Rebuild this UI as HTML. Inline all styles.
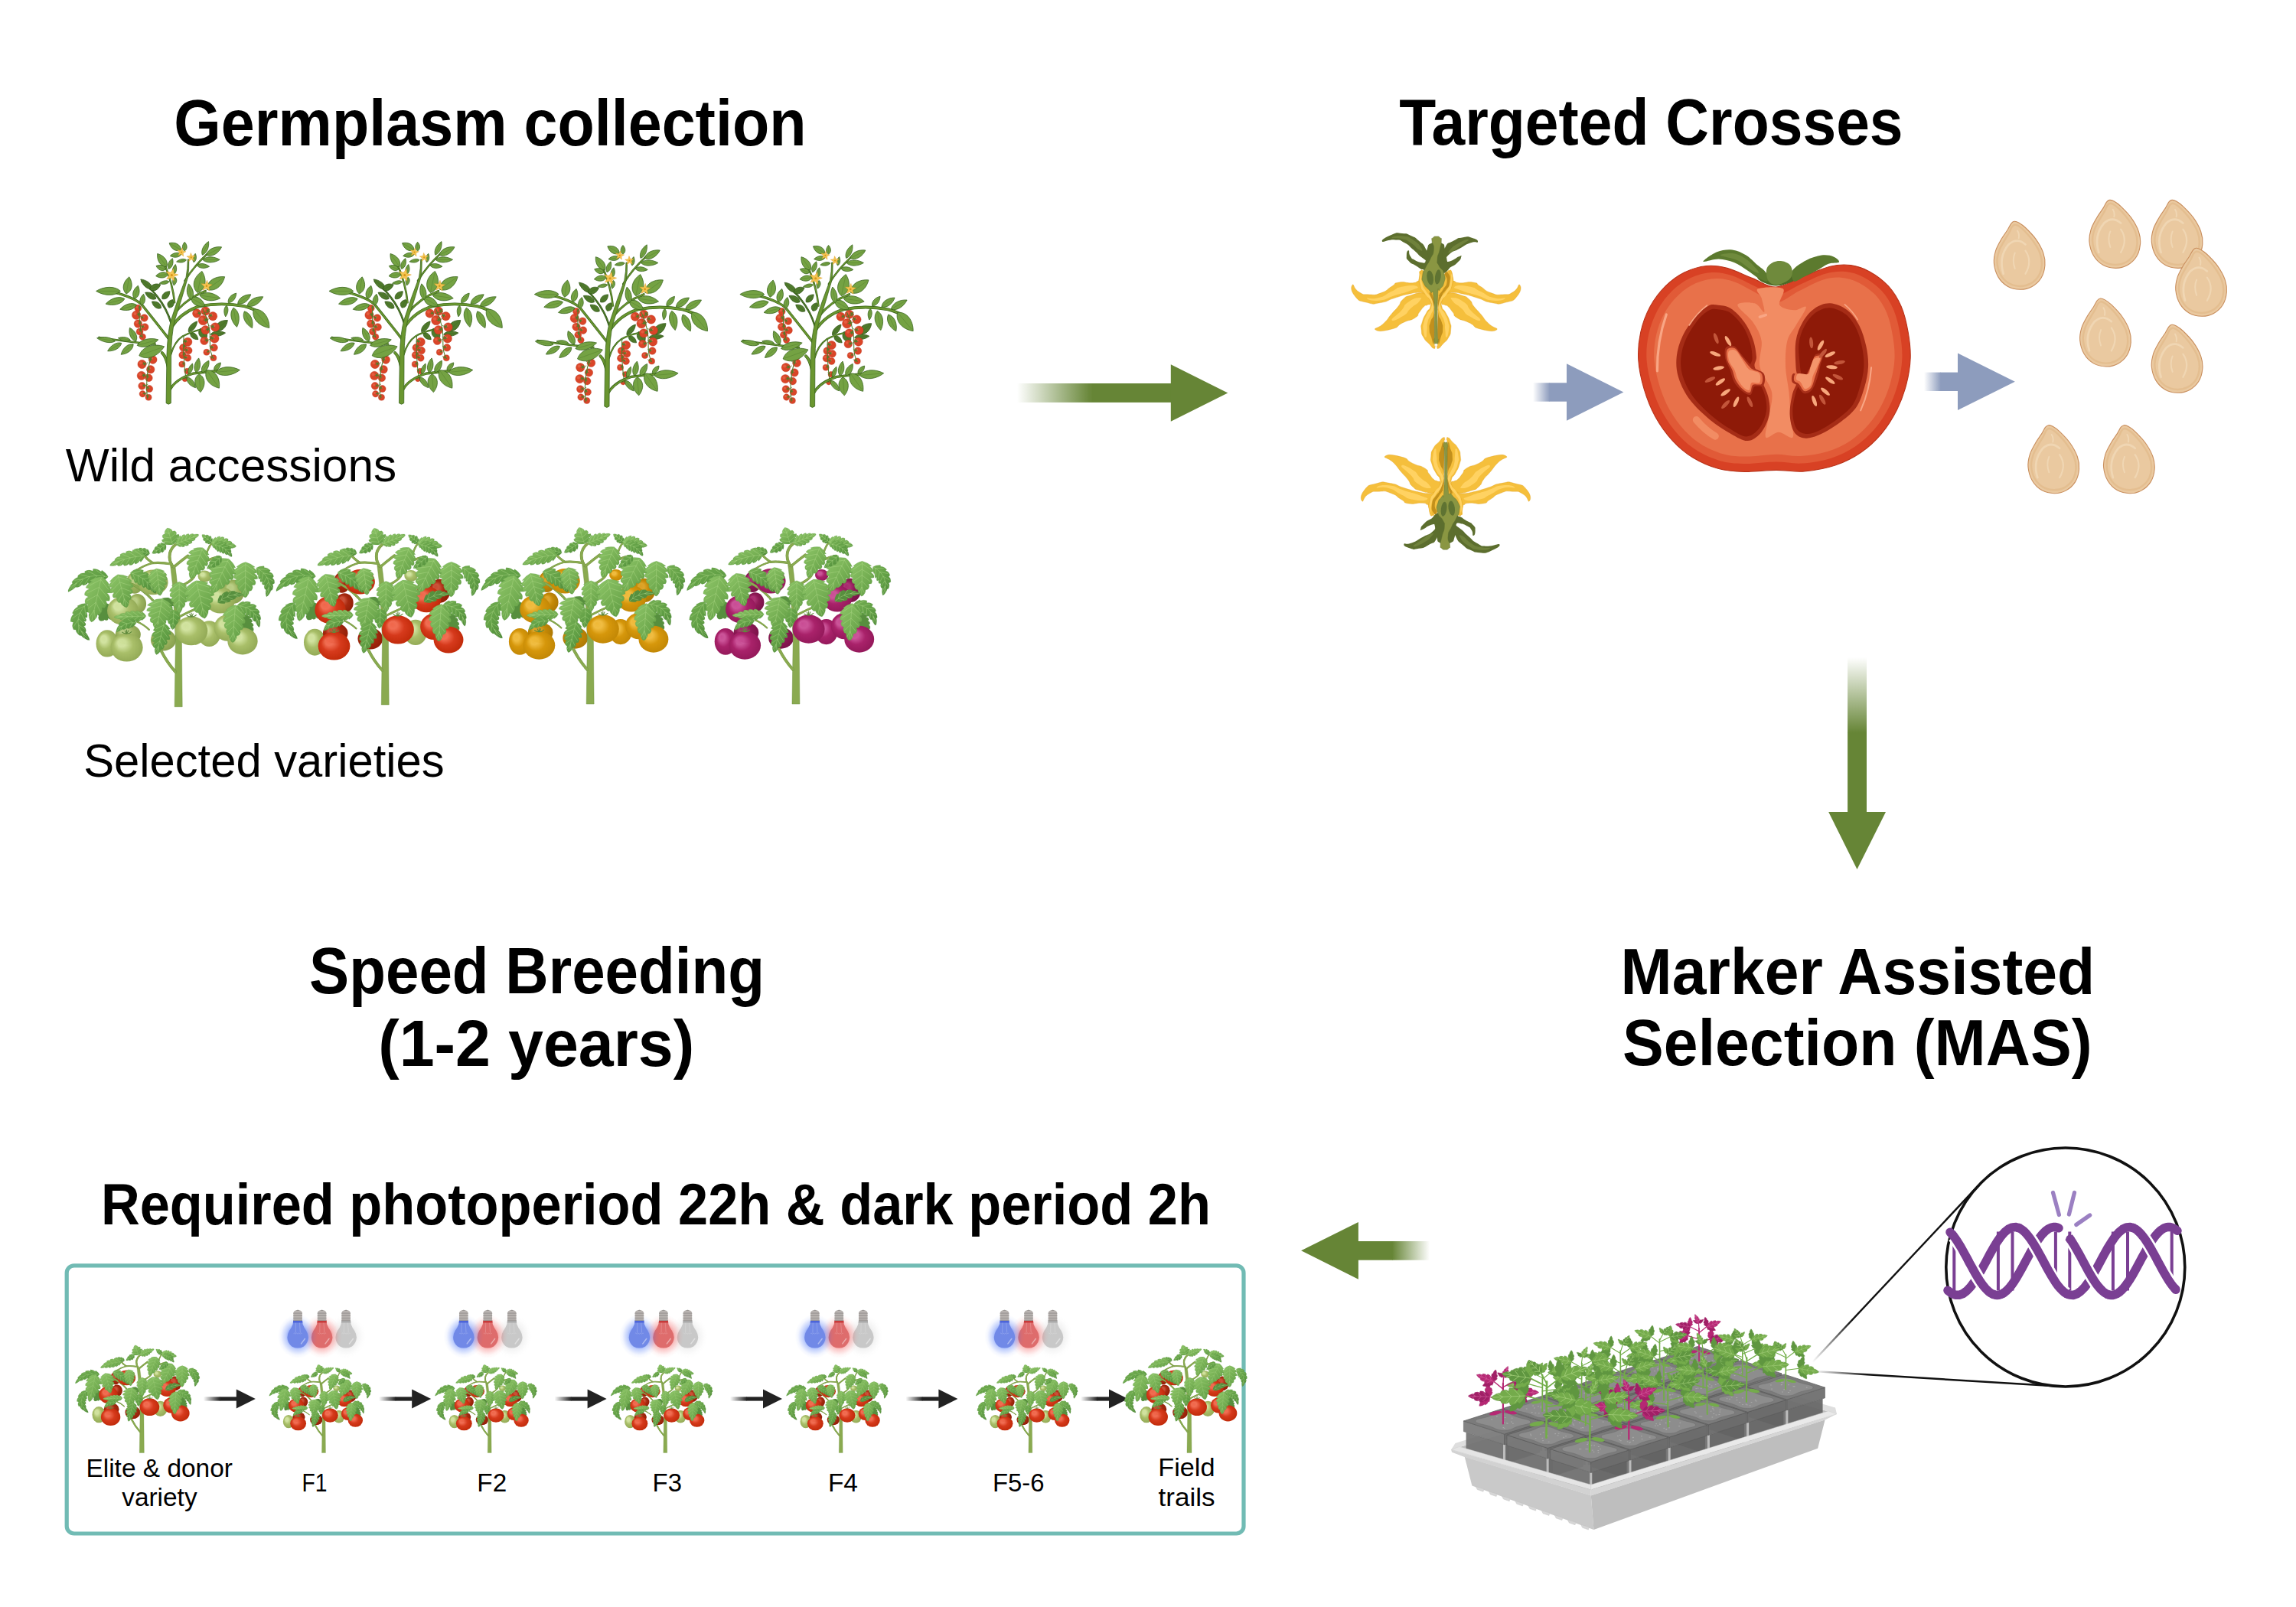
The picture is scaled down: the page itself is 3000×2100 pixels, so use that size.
<!DOCTYPE html>
<html><head><meta charset="utf-8"><title>Tomato breeding workflow</title>
<style>html,body{margin:0;padding:0;background:#fff}svg{display:block}text{font-family:"Liberation Sans",sans-serif}</style>
</head><body>
<svg width="3000" height="2100" viewBox="0 0 3000 2100">
<defs>
<linearGradient id="gaR" x1="0" x2="1" y1="0" y2="0"><stop offset="0" stop-color="#668536" stop-opacity="0"/><stop offset="1" stop-color="#668536"/></linearGradient>
<linearGradient id="gaL" x1="1" x2="0" y1="0" y2="0"><stop offset="0" stop-color="#668536" stop-opacity="0"/><stop offset="1" stop-color="#668536"/></linearGradient>
<linearGradient id="gaD" x1="0" x2="0" y1="0" y2="1"><stop offset="0" stop-color="#668536" stop-opacity="0"/><stop offset="1" stop-color="#668536"/></linearGradient>
<linearGradient id="gaB" x1="0" x2="1" y1="0" y2="0"><stop offset="0" stop-color="#8d9cbd" stop-opacity="0"/><stop offset="1" stop-color="#8d9cbd"/></linearGradient>
<linearGradient id="gaK" x1="0" x2="1" y1="0" y2="0"><stop offset="0" stop-color="#222" stop-opacity="0"/><stop offset="1" stop-color="#222"/></linearGradient>
<linearGradient id="lfA" x1="0.1" y1="0" x2="0.9" y2="1"><stop offset="0" stop-color="#8cc467"/><stop offset="0.45" stop-color="#7ab357"/><stop offset="1" stop-color="#5f9c43"/></linearGradient>
<linearGradient id="lfB" x1="0.1" y1="0" x2="0.9" y2="1"><stop offset="0" stop-color="#74ae52"/><stop offset="0.5" stop-color="#62a046"/><stop offset="1" stop-color="#4f8a39"/></linearGradient>
<radialGradient id="tg_red" cx="0.5" cy="0.5" r="0.6" fx="0.3" fy="0.3"><stop offset="0" stop-color="#f0664a"/><stop offset="0.22" stop-color="#f0664a" stop-opacity="0.95"/><stop offset="0.5" stop-color="#d63a1c"/><stop offset="0.85" stop-color="#c32c0c"/><stop offset="1" stop-color="#c32c0c"/></radialGradient>
<radialGradient id="tg_dred" cx="0.5" cy="0.5" r="0.6" fx="0.3" fy="0.3"><stop offset="0" stop-color="#c94a30"/><stop offset="0.22" stop-color="#c94a30" stop-opacity="0.95"/><stop offset="0.5" stop-color="#a82a10"/><stop offset="0.85" stop-color="#942008"/><stop offset="1" stop-color="#942008"/></radialGradient>
<radialGradient id="tg_green" cx="0.5" cy="0.5" r="0.6" fx="0.3" fy="0.3"><stop offset="0" stop-color="#cfe19b"/><stop offset="0.22" stop-color="#cfe19b" stop-opacity="0.95"/><stop offset="0.5" stop-color="#a9bf69"/><stop offset="0.85" stop-color="#95ac58"/><stop offset="1" stop-color="#95ac58"/></radialGradient>
<radialGradient id="tg_dgreen" cx="0.5" cy="0.5" r="0.6" fx="0.3" fy="0.3"><stop offset="0" stop-color="#b7cc80"/><stop offset="0.22" stop-color="#b7cc80" stop-opacity="0.95"/><stop offset="0.5" stop-color="#9db45f"/><stop offset="0.85" stop-color="#8aa250"/><stop offset="1" stop-color="#8aa250"/></radialGradient>
<radialGradient id="tg_yellow" cx="0.5" cy="0.5" r="0.6" fx="0.3" fy="0.3"><stop offset="0" stop-color="#efb938"/><stop offset="0.22" stop-color="#efb938" stop-opacity="0.95"/><stop offset="0.5" stop-color="#d6970b"/><stop offset="0.85" stop-color="#c48906"/><stop offset="1" stop-color="#c48906"/></radialGradient>
<radialGradient id="tg_dyellow" cx="0.5" cy="0.5" r="0.6" fx="0.3" fy="0.3"><stop offset="0" stop-color="#dba020"/><stop offset="0.22" stop-color="#dba020" stop-opacity="0.95"/><stop offset="0.5" stop-color="#c48906"/><stop offset="0.85" stop-color="#b07a04"/><stop offset="1" stop-color="#b07a04"/></radialGradient>
<radialGradient id="tg_purple" cx="0.5" cy="0.5" r="0.6" fx="0.3" fy="0.3"><stop offset="0" stop-color="#c94c94"/><stop offset="0.22" stop-color="#c94c94" stop-opacity="0.95"/><stop offset="0.5" stop-color="#a9226a"/><stop offset="0.85" stop-color="#961a5c"/><stop offset="1" stop-color="#961a5c"/></radialGradient>
<radialGradient id="tg_dpurple" cx="0.5" cy="0.5" r="0.6" fx="0.3" fy="0.3"><stop offset="0" stop-color="#a8286c"/><stop offset="0.22" stop-color="#a8286c" stop-opacity="0.95"/><stop offset="0.5" stop-color="#8e1a56"/><stop offset="0.85" stop-color="#7c144a"/><stop offset="1" stop-color="#7c144a"/></radialGradient>
<g id="cp_green" transform="scale(0.15557) translate(-982,-1545)"><path d="M420,700Q448.5,727.8 458.9,751L449,749.3Q468.3,773.5 459.4,785.6L440.2,775.2Q460.3,800 448.7,808.8L422.6,795.1Q438,816.6 419,821.9L397.8,809.9Q406.2,826.6 383.4,828.7L368.8,821.9Q367.2,831.7 341.7,833.3L330,830L322,819.1Q315.3,795.8 324.5,791.3L313.1,780.9Q306.3,757.5 320.7,756.6L307,743.8Q304.5,724.2 329.6,730.7L312,716.4Q312.2,697.5 340.7,706.3L325.4,691.2Q334.2,680.7 363.6,690.1L353.3,678Q384,683.1 420,700Z" fill="#578f3e" stroke="#5b9440" stroke-width="1.2" stroke-linejoin="round"/>
<path d="M900,640Q925.6,651.7 938.7,665.8L930.6,667Q949.6,679 948.9,691.3L934.7,689.3Q950.4,700.4 943.2,709.4L927.8,708.8Q939.3,718.9 929.8,728.2L914,726.6Q920.3,735.4 904.3,742.8L895,743.1Q895.4,750.4 879,757.2L870,760L862.4,753.5Q852.1,739.6 857.4,733.7L846.1,727.5Q837.2,714.6 850.5,710.7L837,704.3Q828.2,691.1 847.1,688.6L826,680.2Q827.1,669.6 849.9,668.1L834.7,662.9Q837.9,651 857.7,648.8L848.5,644.6Q871.9,638.3 900,640Z" fill="#578f3e" stroke="#5b9440" stroke-width="1.2" stroke-linejoin="round"/>
<path d="M1500,780Q1528.4,774 1554.8,781.2L1549.1,788.5Q1571.1,789.6 1582.7,803.8L1572.6,814.7Q1593.1,816.6 1596.3,838L1585.7,846.6Q1604.3,849.7 1605.2,871.2L1595.7,880.3Q1608.3,886.7 1606.7,909.3L1599.9,917.2Q1607,926.7 1604.2,950.4L1600,960L1589.7,959.4Q1568,948.3 1565.4,936.4L1555.4,939.5Q1533.4,928.3 1538.2,912.3L1523.9,916.6Q1504.1,905.3 1511.8,887.7L1493.8,894.7Q1481.9,878.4 1493.5,858.6L1476.4,864.2Q1470.5,845.4 1484.6,824.3L1472.9,825.7Q1479.9,801 1500,780Z" fill="#578f3e" stroke="#5b9440" stroke-width="1.2" stroke-linejoin="round"/>
<ellipse cx="620" cy="518" rx="70" ry="88" fill="url(#tg_dgreen)"/>
<ellipse cx="1200" cy="462" rx="56" ry="48" fill="url(#tg_green)"/>
<ellipse cx="1440" cy="590" rx="90" ry="100" fill="url(#tg_dgreen)"/>
<ellipse cx="642" cy="690" rx="74" ry="82" fill="url(#tg_dgreen)"/>
<ellipse cx="392" cy="1020" rx="92" ry="112" fill="url(#tg_green)"/>
<ellipse cx="565" cy="945" rx="105" ry="85" fill="url(#tg_dgreen)"/>
<ellipse cx="858" cy="990" rx="105" ry="90" fill="url(#tg_dgreen)"/>
<ellipse cx="1238" cy="938" rx="95" ry="107" fill="url(#tg_green)"/>
<path d="M951,1545L959,1000Q948,760 933,520Q923,430 916,372L955,372Q976,520 987,700Q1002,880 1010,1000L1015,1545Z" fill="#8aaa50" stroke="#6f9340" stroke-width="3"/>
<path d="M958,1255Q890,1180 842,1085" fill="none" stroke="#6f9340" stroke-width="24" stroke-linecap="round"/><path d="M958,1255Q890,1180 842,1085" fill="none" stroke="#8aaa50" stroke-width="20" stroke-linecap="round"/>
<path d="M935,380Q900,330 912,270Q925,225 958,200" fill="none" stroke="#6f9340" stroke-width="24" stroke-linecap="round"/><path d="M935,380Q900,330 912,270Q925,225 958,200" fill="none" stroke="#8aaa50" stroke-width="20" stroke-linecap="round"/>
<path d="M945,385Q1010,330 1062,292" fill="none" stroke="#6f9340" stroke-width="22" stroke-linecap="round"/><path d="M945,385Q1010,330 1062,292" fill="none" stroke="#8aaa50" stroke-width="18" stroke-linecap="round"/>
<path d="M925,360Q830,345 770,352Q720,320 700,290" fill="none" stroke="#6f9340" stroke-width="20" stroke-linecap="round"/><path d="M925,360Q830,345 770,352Q720,320 700,290" fill="none" stroke="#8aaa50" stroke-width="16" stroke-linecap="round"/>
<path d="M770,352Q700,370 640,410" fill="none" stroke="#6f9340" stroke-width="16" stroke-linecap="round"/><path d="M770,352Q700,370 640,410" fill="none" stroke="#8aaa50" stroke-width="12" stroke-linecap="round"/>
<path d="M1000,545Q1080,510 1110,470Q1150,380 1200,340Q1260,310 1320,300" fill="none" stroke="#6f9340" stroke-width="20" stroke-linecap="round"/><path d="M1000,545Q1080,510 1110,470Q1150,380 1200,340Q1260,310 1320,300" fill="none" stroke="#8aaa50" stroke-width="16" stroke-linecap="round"/>
<path d="M1200,340Q1220,230 1262,185" fill="none" stroke="#6f9340" stroke-width="16" stroke-linecap="round"/><path d="M1200,340Q1220,230 1262,185" fill="none" stroke="#8aaa50" stroke-width="12" stroke-linecap="round"/>
<path d="M770,660Q680,560 580,520" fill="none" stroke="#6f9340" stroke-width="20" stroke-linecap="round"/><path d="M770,660Q680,560 580,520" fill="none" stroke="#8aaa50" stroke-width="16" stroke-linecap="round"/>
<path d="M950,820Q1040,770 1110,740" fill="none" stroke="#6f9340" stroke-width="18" stroke-linecap="round"/><path d="M950,820Q1040,770 1110,740" fill="none" stroke="#8aaa50" stroke-width="14" stroke-linecap="round"/>
<path d="M1285,680Q1360,690 1410,720" fill="none" stroke="#6f9340" stroke-width="16" stroke-linecap="round"/><path d="M1285,680Q1360,690 1410,720" fill="none" stroke="#8aaa50" stroke-width="12" stroke-linecap="round"/>
<path d="M740,905Q690,860 640,840" fill="none" stroke="#6f9340" stroke-width="14" stroke-linecap="round"/><path d="M740,905Q690,860 640,840" fill="none" stroke="#8aaa50" stroke-width="10" stroke-linecap="round"/>
<ellipse cx="772" cy="512" rx="125" ry="104" fill="url(#tg_green)"/>
<ellipse cx="522" cy="748" rx="130" ry="118" fill="url(#tg_green)"/>
<ellipse cx="1330" cy="660" rx="122" ry="110" fill="url(#tg_green)"/>
<ellipse cx="1390" cy="890" rx="112" ry="110" fill="url(#tg_green)"/>
<path d="M935,200Q891.7,204.6 860.5,195.2L872.4,184.5Q846,181.3 844.7,161.7L863.9,149.1Q843.3,144 852.6,119.4L871.9,108.4Q862,99.8 877.9,75.4L890,62L907.2,65.8Q934.9,76 931.6,88.9L953.5,85.4Q976.1,100.7 960.9,117.5L986.9,114.6Q995.9,132.4 971.3,152.3L992.2,151.1Q972.7,178.2 935,200Z" fill="url(#lfA)" stroke="#5b9440" stroke-width="1.2" stroke-linejoin="round"/><path d="M934.1,197.2L892.3,68.9M865.3,173.9L928.2,179.3L975.9,137.8M861,137.1L917,144.8L957.7,105.6M872.1,95.3L905.8,110.3L924.1,78.4" fill="none" stroke="#b4dc8c" stroke-width="2.64" stroke-linecap="round" stroke-linejoin="round"/>
<path d="M960,195Q959.4,170.4 971.5,145.5L978.3,156.3Q982.1,134.4 997.1,124.5L1006.9,135.1Q1012.3,117 1032.5,114.8L1040,124.9Q1046.2,109 1067,108.9L1075.4,120.6Q1082.7,107.3 1103.9,109.9L1110.9,116.4Q1121.1,110.4 1144.4,113L1152,118L1148.4,127.5Q1134.9,144.8 1122.9,146.4L1121.7,158Q1109.3,173.6 1095,169.3L1096.6,183.4Q1081.8,197.6 1066.7,191.6L1066.9,203.9Q1051.7,215.3 1034.8,204.6L1033.5,216Q1017.9,223.5 1000.3,211.2L1000.1,220.4Q976.6,213.2 960,195Z" fill="url(#lfA)" stroke="#5b9440" stroke-width="1.2" stroke-linejoin="round"/><path d="M963.8,193.5L1142.4,121.9M991.8,142.8L972.8,189.9L1019.1,210.8M1023,128L1004.8,177L1051.9,199.9M1056.8,119.6L1036.8,164.2L1082.1,182.6M1092.4,115.6L1068.8,151.4L1110.5,160.9M1129.3,115.1L1100.8,138.5L1137.6,135.8" fill="none" stroke="#b4dc8c" stroke-width="2.64" stroke-linecap="round" stroke-linejoin="round"/>
<path d="M880,200Q884.9,223.8 876.8,244.3L867.7,240.4Q866.4,258.1 849.1,266.4L838.1,257.1Q835.1,272.1 816.7,274.7L804.6,267.5Q797.4,275.8 775.7,274.7L765,272L767.1,263.6Q775.7,241.2 785.7,237.3L784,228Q795.5,208.9 809.2,210.9L807.9,200.7Q821.8,186.9 838.1,193.1L837.2,182.6Q860.7,185.2 880,200Z" fill="url(#lfB)" stroke="#5b9440" stroke-width="1.2" stroke-linejoin="round"/><path d="M877.7,201.4L770.8,268.4M859.7,249.3L862.7,210.8L826.7,196.8M828.9,264.1L834,228.8L800,218M793.4,271.4L805.2,246.8L778,246.7" fill="none" stroke="#b4dc8c" stroke-width="2.64" stroke-linecap="round" stroke-linejoin="round"/>
<path d="M1262,185Q1244.3,196.4 1227.2,195.3L1227.1,188.3Q1212.8,192.8 1204.5,181.1L1206.3,171.3Q1194.4,172.8 1187,156.6L1190.2,148.4Q1182.6,144.6 1178.7,127L1178,118L1186.6,116.6Q1204.9,116.6 1209.6,124.1L1218,118.3Q1235.1,121.8 1237.1,132.6L1247.5,126.9Q1258.7,135.3 1256.8,151L1264.4,148.5Q1269.2,165.3 1262,185Z" fill="url(#lfB)" stroke="#5b9440" stroke-width="1.2" stroke-linejoin="round"/><path d="M1260.3,183.7L1182.2,121.4M1218.2,184.8L1249.4,174.9L1252,142.3M1199.3,165.4L1228.4,158.2L1228.9,128.2M1185.2,140L1207.4,141.4L1201.1,120.1" fill="none" stroke="#b4dc8c" stroke-width="2.64" stroke-linecap="round" stroke-linejoin="round"/>
<path d="M1255,180Q1268.2,154.1 1291,137.4L1292.8,147.2Q1307.7,130.5 1328.9,129.9L1328.7,145Q1343.2,130.5 1359.7,138.4L1362.8,153.4Q1376.7,142.5 1394.9,153.1L1395.1,172.1Q1408.8,162.5 1425.5,178.5L1427.7,189.3Q1439.8,188.7 1456.7,206L1462,215L1452.9,222.6Q1432.4,232.6 1421,228.9L1414.1,240.5Q1394.5,247 1384.6,233.9L1375.9,251.8Q1357.6,255.5 1348.8,236L1340.4,254.8Q1322,255.8 1313.2,236.6L1308.4,247.3Q1288.5,244 1279.8,224L1274.2,228.4Q1259,208.8 1255,180Z" fill="url(#lfA)" stroke="#5b9440" stroke-width="1.2" stroke-linejoin="round"/><path d="M1259.1,180.7L1451.7,213.2M1311.3,145L1268.8,182.3L1296.7,231.6M1346.2,148.3L1303.3,188.2L1330.7,240M1379.8,159.8L1337.8,194L1366.2,240.1M1412.4,176.9L1372.3,199.8L1402.6,234.6M1444.2,198.5L1406.8,205.7L1439.8,224.8" fill="none" stroke="#b4dc8c" stroke-width="2.64" stroke-linecap="round" stroke-linejoin="round"/>
<path d="M1275,200Q1287,179.7 1311.2,167.8L1311.6,177.6Q1328.3,165.6 1346.5,173.6L1347.6,183.4Q1365.2,175.7 1382,188.2L1377.4,203.3Q1394.8,199.6 1405.8,219.7L1401.8,228.7Q1415.2,232 1421.3,253.8L1416.9,261.3Q1425.7,269.1 1427.4,291.4L1425,300L1416.6,299.2Q1397.3,290.1 1393.3,280.6L1382.9,284.1Q1367.2,279.9 1367.2,267.1L1357.3,275.2Q1341.5,273 1341.1,259.4L1333.4,266Q1319.8,265.5 1318.4,249.8L1311.9,259.8Q1300.1,252.3 1296.5,233.4L1291.3,242Q1279.4,222.9 1275,200Z" fill="url(#lfB)" stroke="#5b9440" stroke-width="1.2" stroke-linejoin="round"/><path d="M1278.9,200.6Q1374,214 1419.8,291.6M1330.8,177.9L1288,202.2L1307.6,243.5M1364.6,190.6L1318.6,210.5L1329.5,255.4M1391.9,213.8L1346.5,222.7L1352.6,264.9M1411.6,243.8L1371.8,239L1378,275.6M1423.3,278L1394.4,259.3L1406.1,290.1" fill="none" stroke="#b4dc8c" stroke-width="2.64" stroke-linecap="round" stroke-linejoin="round"/>
<path d="M745,275Q731.7,292 711.8,297.2L707.9,291.1Q694.8,299.6 678.8,293.2L675.7,281.1Q663.4,286.8 648.9,275L645.7,263.4Q634.7,263.8 620.2,247.4L615,240L621.2,236.8Q644,229.3 653.4,234.4L658.7,227.1Q680.3,223.8 688.4,234.1L696.4,227.3Q713.9,228.5 721.1,241.9L728.3,238.7Q742,253.6 745,275Z" fill="url(#lfB)" stroke="#5b9440" stroke-width="1.2" stroke-linejoin="round"/><path d="M742.4,274.3L621.5,241.8M696.3,290L725.5,269.7L710.5,237.6M664.7,278L693,261L677.1,232.1M635.1,258.6L660.5,252.2L641.7,234" fill="none" stroke="#b4dc8c" stroke-width="2.64" stroke-linecap="round" stroke-linejoin="round"/>
<path d="M705,292Q693.9,321.5 670.6,344.8L662.6,332.2Q649.6,357.2 623.7,360.7L616.9,347.1Q606,371.4 577.7,370.4L571.3,357.5Q560.5,376.7 533.6,375.1L523.3,362.4Q512,377.9 485.1,377.6L472.7,367Q459.3,377.8 429.2,376.7L415,375L417.9,363.1Q438.8,336.2 456.1,330.7L455.9,318.8Q479,294.9 500,298.8L500.2,280.2Q525.4,262.6 547.5,272.3L547.2,258.7Q577.2,242.2 599.9,259.5L603.7,243.8Q633,238.4 653.8,255.1L660.4,248Q690.3,263.9 705,292Z" fill="url(#lfA)" stroke="#5b9440" stroke-width="1.2" stroke-linejoin="round"/><path d="M698.8,292.3Q550,298.7 428.6,367.5M639.7,344.3L684.4,293.2L625.8,253.8M594.4,355.9L633.8,298.9L572.1,261.6M547.9,362.6L584.2,308.5L521.8,281.9M499.1,367.8L535.8,321.9L475.9,311.5M447.6,373.3L488.4,339.3L435,348.5" fill="none" stroke="#b4dc8c" stroke-width="2.64" stroke-linecap="round" stroke-linejoin="round"/>
<path d="M1185,225Q1220.7,251.2 1237.3,284.6L1220.6,283.7Q1246.8,310.7 1235.4,335.2L1216.8,331.6Q1238.8,356.9 1217.1,377.5L1196.9,373.1Q1213.2,396.2 1186.2,413.5L1166.3,410.6Q1175.7,431 1148,448.3L1132.1,446.6Q1129.5,462.3 1100.7,476.6L1085,482L1076,467.6Q1065.5,437.4 1076.2,424.8L1061.6,411.7Q1052.6,383.1 1073.1,374.3L1051.2,361.2Q1048.5,332.2 1078.3,327L1058.2,315Q1056.2,285.8 1090.5,282.4L1066.1,268Q1081.5,246.4 1113.4,242L1107,232.2Q1141,220.2 1185,225Z" fill="url(#lfA)" stroke="#5b9440" stroke-width="1.2" stroke-linejoin="round"/><path d="M1183,230.1L1090,469.2M1224.5,310.4L1178.3,242.1L1098.2,261.3M1211.5,354.7L1161.7,285L1077.8,302.7M1186.5,394.3L1145,327.8L1069.5,348.7M1153.4,430.7L1128.3,370.6L1069.3,398M1113.8,464.6L1111.7,413.5L1075.5,449.7" fill="none" stroke="#b4dc8c" stroke-width="2.64" stroke-linecap="round" stroke-linejoin="round"/>
<path d="M1400,318Q1439.2,351.2 1456.5,391.7L1440.2,389.8Q1464.9,421.3 1460.1,449.1L1431.7,443.5Q1452.1,472.9 1427.1,493.6L1402.1,487.1Q1419.5,515.1 1390.3,531.9L1368.4,528.8Q1373.6,550.9 1336.3,567.7L1322.6,564.6Q1317.9,582 1282.8,597.6L1265,600L1255.4,583.1Q1245.9,547.5 1258.8,534.1L1239.3,516.3Q1235.1,484.6 1262.5,478L1241.4,462.3Q1234.3,426.4 1262.8,420.5L1236.9,403.2Q1246.7,374.6 1289,375.2L1260.5,356.3Q1278.9,332.2 1319.8,332.2L1306.8,318.4Q1349.6,308.3 1400,318Z" fill="url(#lfA)" stroke="#5b9440" stroke-width="1.2" stroke-linejoin="round"/><path d="M1397.3,323.6L1271.8,585.9M1439.1,418.7L1391,336.8L1297,350.7M1420.7,467.7L1368.5,383.8L1270.4,395.8M1388.9,510.2L1346,430.8L1257.2,447.2M1347.8,548.4L1323.5,477.8L1253.3,503.1M1299.6,583.1L1301,524.8L1256.5,562.4" fill="none" stroke="#b4dc8c" stroke-width="2.64" stroke-linecap="round" stroke-linejoin="round"/>
<path d="M1340,300Q1347.1,323.7 1339.4,347.7L1330.9,346.4Q1329.4,363.5 1311.3,375.2L1299.8,370.1Q1296.3,384.9 1275.1,391L1263.4,387.4Q1255.6,397 1228.8,400.1L1220,400L1222.4,388.6Q1229.4,365.5 1240.2,359.6L1237,350Q1248.7,327.6 1262.8,325.7L1261.7,317Q1275.6,299 1293,300.9L1294.8,293.4Q1317.9,288.8 1340,300Z" fill="url(#lfB)" stroke="#5b9440" stroke-width="1.2" stroke-linejoin="round"/><path d="M1337.6,302L1226,395M1321.5,355.8L1322,315L1281.7,308.2M1289,377.9L1292,340L1254.2,336.1M1250.9,393.2L1262,365L1232.3,370.8" fill="none" stroke="#b4dc8c" stroke-width="2.64" stroke-linecap="round" stroke-linejoin="round"/>
<path d="M1540,345Q1586,358.1 1618,385.5L1602.6,390.8Q1634.9,408.1 1632.1,433.3L1610.9,440.1Q1644,457.4 1638.9,483.3L1608.9,489.3Q1632.8,506.4 1616.8,533.7L1592.7,538.2Q1607.9,555.2 1588,580.1L1567,586.9Q1572.7,603.8 1548.6,632.4L1535,640L1521.3,628.1Q1498.5,602.5 1503.7,585.9L1488.5,582.4Q1465,552.7 1478.4,536.3L1461,530.6Q1441.8,503.2 1464.2,486.8L1444.9,478.7Q1432.2,453.8 1461.2,437.6L1440.2,431Q1443.1,404.8 1475.7,388.7L1464.7,384.6Q1493.6,356.5 1540,345Z" fill="url(#lfA)" stroke="#5b9440" stroke-width="1.2" stroke-linejoin="round"/><path d="M1539.9,350.9L1535.2,625.3M1612,416.1L1539.7,364.7L1465.6,413.6M1615.5,465.3L1538.8,413.8L1460.5,462.7M1605,514.3L1538,463L1469.3,512M1585.1,563.1L1537.2,512.2L1487.6,561.5M1557.7,611.9L1536.3,561.3L1513.3,611.1" fill="none" stroke="#b4dc8c" stroke-width="2.64" stroke-linecap="round" stroke-linejoin="round"/>
<path d="M1630,392Q1656.6,375.7 1693.2,378L1693.9,389.8Q1721.9,388.7 1745.5,414.8L1736.2,427.3Q1764.6,432.1 1772.6,462.7L1762.9,475.4Q1782.3,489.6 1779,520.4L1762.9,529.9Q1774.6,548 1760.1,576.2L1748.6,581.4Q1746.4,599.7 1723.4,625.1L1712,632L1708.4,618Q1703.3,588.5 1709.5,574.2L1699.1,568.7Q1688.9,546.1 1698.6,534.3L1681,531.5Q1671.4,518.6 1681.9,505.5L1664.2,509.8Q1655.9,498.1 1664.8,480.3L1650.7,488Q1642,471.5 1644.7,449.2L1637.4,449.5Q1627.1,422.6 1630,392Z" fill="url(#lfB)" stroke="#5b9440" stroke-width="1.2" stroke-linejoin="round"/><path d="M1635.8,395.4Q1776.6,475.9 1717.9,616.6M1719.3,405.4L1648.6,403.5L1655.8,466.1M1754.8,449.2L1686.9,435.1L1673,493.6M1768.4,502.8L1713.5,470.7L1688.6,519.5M1760.6,556.7L1728.3,510.3L1702.2,552.9M1735.3,606.3L1731.4,553.9L1709.7,598.7" fill="none" stroke="#b4dc8c" stroke-width="2.64" stroke-linecap="round" stroke-linejoin="round"/>
<path d="M400,468Q378.2,492 345,506.5L337.1,497.3Q317.8,516.3 287.8,518.8L282.6,503.8Q269.5,527 242.7,529.8L232.6,513.4Q223.3,534.9 194.1,538.3L183.4,529.7Q173.3,546.9 143.5,554.6L130.5,553Q116.9,568.7 83.6,585.4L68,592L69.1,576.1Q84.8,537.8 103.4,523.6L100.5,508.2Q123.6,477 147.4,470.7L150.3,455.4Q177.6,429.9 205.6,436.6L207,420.3Q244.3,402.4 271.7,419.4L276.9,400Q317.7,401.2 341.6,424.1L348.2,412.1Q387.8,437.4 400,468Z" fill="url(#lfB)" stroke="#5b9440" stroke-width="1.2" stroke-linejoin="round"/><path d="M391.8,466.3Q194.3,423.8 80.8,575.7M308.5,502.9L372.9,463L305.7,415M257.8,512.1L308.3,458.9L236.2,421.6M208.9,523.3L248.2,466.6L173.7,449.9M157.8,541.4L192.4,486.1L122.3,494.9M103,570.4L141,517.4L83.3,552.5" fill="none" stroke="#b4dc8c" stroke-width="2.64" stroke-linecap="round" stroke-linejoin="round"/>
<path d="M345,465Q390,491.4 411.6,535.4L399.5,537Q428.4,565.7 430.9,600.2L391,601Q425.1,630.9 409.7,666.2L381.3,664.7Q400.3,691.3 371.6,724.5L347.2,723.1Q361.2,748.6 330,779.3L310.2,780.8Q311.3,803.5 280.7,831.1L262,842L248.5,828.2Q233.4,786.3 243.3,766.1L224.8,757.6Q211.2,715.5 232.9,697.9L210.2,686.1Q199.8,647.1 235.9,632.7L205,618.4Q202.7,581.9 243.9,568.6L214.5,557.6Q227,521.4 269.8,508.4L247.7,498.8Q293,470 345,465Z" fill="url(#lfA)" stroke="#5b9440" stroke-width="1.2" stroke-linejoin="round"/><path d="M343.3,472.5L266.2,823.1M402.2,571.2L339.5,490.1L248.5,537.3M392.9,635L325.6,553L230.1,599.1M368.9,695.6L311.8,615.8L226.4,664.2M335.1,754L298,678.6L232.7,731.5M293.4,810.7L284.1,741.5L246.7,800.4" fill="none" stroke="#b4dc8c" stroke-width="2.64" stroke-linecap="round" stroke-linejoin="round"/>
<path d="M480,448Q527.7,447.7 563.5,464.4L550.2,474Q587.8,480.7 596.8,504.9L575.8,516.1Q609.4,523.8 609.2,549.6L577.7,564.4Q611.4,572.1 601.4,600.7L577.3,613.3Q600.1,623.9 585.6,655.8L571.6,663.6Q578.9,678.3 563.5,711.5L552,722L536.4,715.3Q507.1,697.2 505.5,681L486.9,680.2Q461.9,660.2 475,640.2L445,641.5Q426.6,620.7 449.4,598.1L422.1,598.9Q404.6,577.7 430.3,554.3L405.6,553.1Q402.2,529.5 429.6,505.7L411,507.1Q438.3,471.2 480,448Z" fill="url(#lfA)" stroke="#5b9440" stroke-width="1.2" stroke-linejoin="round"/><path d="M481.4,453.5L548.4,708.3M567.9,494.2L484.8,466.3L426.2,531.5M584,538.8L496.8,511.9L434.1,578.2M586.7,586.9L508.8,557.6L455.4,621.4M580.2,637.5L520.8,603.3L485.9,662.2M566.5,689.9L532.8,648.9L523.5,701.2" fill="none" stroke="#b4dc8c" stroke-width="2.64" stroke-linecap="round" stroke-linejoin="round"/>
<path d="M222,688Q233.7,720.6 232.4,759.8L221.5,759.6Q230.5,783.5 226.4,804.4L208.4,803.9Q224.7,819.9 214.8,836L196.9,839.7Q217.7,848.7 213.9,867.6L197.8,878.9Q214.7,886.7 216.8,915.8L212.1,926.8Q226.2,940.4 243.4,977.9L246,992L228.4,989.9Q190.6,973 177,954.3L164.1,953.2Q132.7,930.2 132.2,905.4L113,905.1Q95.3,869.1 111.3,843.7L87.9,837.2Q89.1,795.8 113.7,776.4L102.8,767.8Q119.2,727.4 149.1,715.4L145.6,708.1Q187.1,682.7 222,688Z" fill="url(#lfB)" stroke="#5b9440" stroke-width="1.2" stroke-linejoin="round"/><path d="M216.3,694.6Q75.9,852.5 229.8,978M214,784L203.9,709.8L127.1,744.9M205.6,822.6L171,763.4L105.6,810.6M201.2,857.6L155.7,815.6L115.2,877.2M205.6,900.6L158,866.4L151.1,933M226.4,954.7L177.8,915.8L205.8,974.9" fill="none" stroke="#b4dc8c" stroke-width="2.64" stroke-linecap="round" stroke-linejoin="round"/>
<path d="M585,432Q606.1,408.6 638.5,400.2L641.1,412.8Q666.8,400.5 692.5,411.9L690.7,429.4Q716.8,422.2 737.4,444L730.5,462.1Q755.4,460.1 769.8,485.2L761.8,502.6Q781.7,507.9 790.7,538L784.4,548.5Q795.6,561.3 798.8,594.1L795,605L782.3,601.2Q757,587.1 750.5,573.3L739.4,576.8Q714.4,566.5 713.7,548.4L694.6,558.1Q676.5,549.6 677.7,527.9L665.2,538.8Q643.2,532.2 641.8,510.3L629.5,520.4Q613.6,507.9 609.9,483.2L600.8,490Q586.9,463.1 585,432Z" fill="url(#lfB)" stroke="#5b9440" stroke-width="1.2" stroke-linejoin="round"/><path d="M590.6,433.8Q724.6,476.5 787.8,592.4M668.4,417.2L603.3,438.3L626,498.3M714.2,441.9L646.4,457.3L658.5,521.2M750.4,478.8L685.6,481L692.9,541.2M776.5,523.6L721,509.4L729.7,562.7M792.4,573.4L752.5,542.4L769,588.4" fill="none" stroke="#b4dc8c" stroke-width="2.64" stroke-linecap="round" stroke-linejoin="round"/>
<path d="M800,398Q837.9,402.1 868.3,419.4L854.1,424.9Q882.6,433.8 887.5,454.1L872.6,460.4Q895.9,470 888.9,491.2L868.8,499Q893,508.5 882.4,530.1L862.9,538Q879.2,548.6 866.1,569.9L851.3,577.7Q857.4,589.8 841.8,613.2L832,622L819.3,617.3Q798.6,598.2 799.2,585.2L782.4,582.6Q766.1,564.7 776.5,550.3L758.5,549.7Q741.7,530.1 758.8,514.7L741.4,512.7Q728.1,494 749.3,478L728.5,476.4Q730.7,455.5 755.5,439L746.3,434.5Q764.8,412.6 800,398Z" fill="url(#lfA)" stroke="#5b9440" stroke-width="1.2" stroke-linejoin="round"/><path d="M800.6,402.5L830.4,610.8M865.6,442.7L802.1,412.9L749.6,459.3M874.3,479.6L807.5,450.3L751.5,497.1M872,518L812.8,487.6L764.5,533.4M862.2,557.5L818.1,524.9L785,568.5M846.5,597.8L823.5,562.3L811.3,602.9" fill="none" stroke="#b4dc8c" stroke-width="2.64" stroke-linecap="round" stroke-linejoin="round"/>
<path d="M990,508Q1026.9,519.3 1054.3,545.5L1041.1,548.4Q1066.3,563.6 1067,589.6L1049.5,592.5Q1074,607.6 1070,633.6L1045.2,636.5Q1065.3,651.6 1052.5,674.2L1035.5,680.4Q1045.7,695.4 1029.5,717.8L1016,724.2Q1017.9,739.2 999,763.1L988,772L977.3,761.6Q958.6,738.8 961.7,723.8L949,719.8Q931.4,694.6 946.7,679.7L927.2,672.7Q912.5,650.4 932.9,635.6L915,630.6Q904.5,606.4 927.9,591.6L908.6,586.3Q912.9,562.4 941.2,547.7L925.5,541.9Q953,518.7 990,508Z" fill="url(#lfA)" stroke="#5b9440" stroke-width="1.2" stroke-linejoin="round"/><path d="M990,513.3L988.1,758.8M1048.1,570.9L989.9,525.6L930.9,570M1051.2,614.9L989.5,569.6L927.2,614M1043.2,658.9L989.2,613.6L934.6,658.1M1027.5,702.8L988.9,657.6L949.5,702.2M1006,746.6L988.5,701.6L970.4,746.3" fill="none" stroke="#b4dc8c" stroke-width="2.64" stroke-linecap="round" stroke-linejoin="round"/>
<path d="M1130,498Q1187,498.7 1230,517.3L1214.7,528.7Q1257.2,537.7 1264.1,566.3L1242.7,577.4Q1280.9,587.3 1277.6,620.1L1246.3,631.6Q1280.7,642.5 1263.7,675.2L1239.9,688.2Q1264.5,701.3 1244.2,736.7L1228.5,745.9Q1236.4,762.8 1215.3,796.5L1202,812L1182.9,805.1Q1149.6,782.7 1148.7,764.2L1131.9,763.7Q1097.5,739.6 1115.8,716.6L1085.6,720Q1057.3,693.7 1087.8,668L1049.3,669.8Q1033.1,644.2 1072,616.5L1033.6,621.3Q1032.8,589.1 1066.1,562.8L1045.7,558.9Q1079,523.5 1130,498Z" fill="url(#lfA)" stroke="#5b9440" stroke-width="1.2" stroke-linejoin="round"/><path d="M1131.4,504.3L1198.4,796.3M1232.7,552.7L1134.8,518.9L1061.4,592M1249.7,603.9L1146.8,571.3L1068.4,645.4M1250.4,658.8L1158.8,623.6L1091.7,695.2M1240.1,716.2L1170.8,675.9L1126,742.4M1221,775.7L1182.8,728.3L1169,787.6" fill="none" stroke="#b4dc8c" stroke-width="2.64" stroke-linecap="round" stroke-linejoin="round"/>
<path d="M1310,682Q1305.2,652.3 1328.6,618.1L1339,623.3Q1348.2,598 1386.7,587.1L1396.2,597.3Q1412,580.2 1449.8,585.5L1458.3,594.1Q1477.5,591.5 1509.3,607.3L1522,618L1507.9,624.1Q1477.6,637.5 1461.3,635.4L1453.2,649.4Q1431.4,661.7 1414.9,656.2L1414.1,671.4Q1391.1,682.3 1371.6,677.4L1368.9,687.6Q1337.7,691.8 1310,682Z" fill="#578f3e" stroke="#5b9440" stroke-width="1.2" stroke-linejoin="round"/><path d="M1313.6,678.7Q1400.6,599.1 1509.9,616.4M1355.5,608.2L1337.9,659.4L1386.8,670.6M1416.5,590.8L1387.4,632L1430.2,650.3M1479.4,598.1L1440.8,617.2L1479.2,630.9" fill="none" stroke="#b4dc8c" stroke-width="2.64" stroke-linecap="round" stroke-linejoin="round"/>
<path d="M945,740Q975.6,752.2 995.9,778L983.4,781.2Q999.6,795.1 995.5,815.9L977.9,822.3Q990.5,835.9 974.4,857.8L961.1,862.7Q964.9,875.8 944.7,897.1L935,905L927.1,897.4Q908.8,872.4 914.7,859.9L901,854.2Q888.2,829.7 901.9,817.7L887.1,811.9Q884.2,788.1 906.1,776.6L896.4,770Q913.2,748.4 945,740Z" fill="url(#lfB)" stroke="#5b9440" stroke-width="1.2" stroke-linejoin="round"/><path d="M944.8,743.3L935.5,896.8M984.4,795.4L943.5,764.8L899.2,790.2M976.6,836.3L941,806L902,831.8M956.8,876.5L938.5,847.2L916.8,874.1" fill="none" stroke="#b4dc8c" stroke-width="2.64" stroke-linecap="round" stroke-linejoin="round"/>
<path d="M850,648Q896.7,668.2 929,699.9L905,699.2Q940.8,721.2 936.2,747L913.8,745.3Q943,766.1 933.4,786.9L895.7,786.2Q923.7,806.8 904,828.3L877.3,827.1Q890,844.7 866.7,864.4L845.7,865.4Q845.4,880.5 817,897.7L800,905L786.2,892.6Q767.1,865.3 772.8,851.2L753,841.9Q739.2,815.4 759.3,804.2L735.9,794Q722.1,767.6 755.8,759L719.8,748.3Q719.5,722.6 760.6,715.5L724.6,702.7Q738.4,681.9 777.5,674.4L757.1,667.5Q799.2,649.2 850,648Z" fill="url(#lfA)" stroke="#5b9440" stroke-width="1.2" stroke-linejoin="round"/><path d="M849,653.1L802.5,892.1M915.4,723.9L846.7,665.1L760.9,693.8M911.6,767.6L838.3,708L748,735.7M893.1,808.4L830,750.8L749.9,780.6M864.6,847.3L821.7,793.6L761.7,827.3M828.3,884.7L813.3,836.5L781.4,875.6" fill="none" stroke="#b4dc8c" stroke-width="2.64" stroke-linecap="round" stroke-linejoin="round"/>
<path d="M865,850Q895.9,869.3 915.2,899L902.3,901.4Q921.3,921.9 921.3,946.1L899,947Q917.7,967.4 910.2,988.9L882.4,989.2Q899.3,1009.2 881.9,1029.4L863,1030.7Q871,1048.5 852.4,1067.6L836.6,1070.5Q835.1,1086 812.8,1106L800,1112L791.8,1101Q781.1,1072.5 789.5,1058.9L775.4,1048.7Q767,1022.7 784.4,1011.3L766.5,1002.1Q760.3,974.7 785.6,965.2L762.5,956.6Q763.5,929.1 793.5,920.8L773.5,910.1Q781.6,887.3 812,879L797.4,870.9Q828.7,852.6 865,850Z" fill="url(#lfB)" stroke="#5b9440" stroke-width="1.2" stroke-linejoin="round"/><path d="M863.7,855.2L803.3,1098.9M902.9,925.2L860.7,867.5L796.3,898.8M895.2,969.7L849.8,911.1L782.4,941.7M877.4,1011.6L839,954.8L778.5,987.1M852.6,1051.8L828.2,998.5L781.6,1034.2M822.5,1090.7L817.3,1042.1L790.1,1082.7" fill="none" stroke="#b4dc8c" stroke-width="2.64" stroke-linecap="round" stroke-linejoin="round"/>
<path d="M715,792Q704.5,814.3 679.4,829L675.4,821.5Q660.7,839.2 635.8,839.3L631.1,830.9Q616.4,845.3 590.5,839.3L586.5,829.7Q571.7,841.7 547,835.5L541.8,824.8Q526.9,831.6 499.9,821.8L497,814.7Q481.9,816.6 455.8,806.9L448,800L458.9,792.6Q480.8,781.4 496.1,784L500.5,775.2Q524.9,763.8 540.2,771.9L546.8,756.5Q569,751 584.5,761.4L587,750.6Q613.4,744.7 628.9,757.9L635.1,746.7Q658,748.1 673.7,764.9L680.4,755.4Q703.2,770.4 715,792Z" fill="url(#lfA)" stroke="#5b9440" stroke-width="1.2" stroke-linejoin="round"/><path d="M709.7,792.2L461.4,799.6M652.9,828.7L697.2,792.5L650.8,759.1M608.4,832L652.7,793.9L606.2,758.4M563.8,828.8L608.2,795.2L561.8,764.3M519,821L563.7,796.5L517.6,774.7M474.1,809.8L519.2,797.9L473.5,788.7" fill="none" stroke="#b4dc8c" stroke-width="2.64" stroke-linecap="round" stroke-linejoin="round"/>
<path d="M635,848Q620.5,872.5 597.3,889.1L591.6,881.5Q582.8,896.8 564.7,896.8L555.6,890.2Q550,903.3 528.1,904.9L516.8,901Q508.6,911.5 482.3,920.5L468,925L467.8,914.9Q475.9,879.1 490,869.5L487.6,857Q509.3,830 529.3,830.4L532.7,818.9Q563,804.3 583.3,814.8L590.9,809Q623.2,821.4 635,848Z" fill="url(#lfB)" stroke="#5b9440" stroke-width="1.2" stroke-linejoin="round"/><path d="M630.8,847.6Q528.4,836.4 474.2,916.4M579.1,884.9L604.1,846.8L563.9,816.8M543.6,893.9L557.1,854.8L513.4,840.8M503,907.8L515.9,875.3L479.5,884.9" fill="none" stroke="#b4dc8c" stroke-width="2.64" stroke-linecap="round" stroke-linejoin="round"/>
<ellipse cx="1090" cy="915" rx="135" ry="120" fill="url(#tg_green)"/><path d="M1052,787q16,14 38,12q22,2 40,-16M1076,775q6,18 14,24q10,-10 14,-26M1090,767v32" fill="none" stroke="#5e8a3c" stroke-width="7" stroke-linecap="round"/>
<ellipse cx="1515" cy="1000" rx="125" ry="112" fill="url(#tg_green)"/>
<ellipse cx="554" cy="1052" rx="134" ry="118" fill="url(#tg_green)"/><path d="M516,926q16,14 38,12q22,2 40,-16M540,914q6,18 14,24q10,-10 14,-26M554,906v32" fill="none" stroke="#5e8a3c" stroke-width="7" stroke-linecap="round"/>
<path d="M1455,700Q1497.8,716.2 1520.7,744.6L1511,751.7Q1541.1,771.7 1538.2,798.6L1517.3,804.4Q1546.7,824.4 1533.5,851.7L1508.7,856.1Q1533,875.7 1511.8,904.6L1489.7,907Q1506.4,926 1485.2,950.7L1465.3,957.5Q1470,975.6 1445.7,1005.1L1432,1012L1419.5,1002.8Q1399.7,970.4 1405.3,953L1389.8,946.8Q1371,916 1386.2,899.4L1368.7,890.4Q1352.1,862.3 1376.4,846.3L1354.8,837.8Q1346,809.6 1376.2,794.1L1351.6,786.5Q1359.3,758.3 1389.6,742.8L1380,738.9Q1410.3,709.8 1455,700Z" fill="url(#lfA)" stroke="#5b9440" stroke-width="1.2" stroke-linejoin="round"/><path d="M1454.5,706.2L1433.2,996.4M1518.9,779L1453.5,720.8L1380.2,768.7M1519.2,831.3L1449.6,772.8L1372.3,820.4M1506.2,882.6L1445.8,824.8L1377.6,873.1M1484.3,933.2L1442,876.8L1391.9,926.4M1455.3,983.4L1438.1,928.8L1413.2,980.3" fill="none" stroke="#b4dc8c" stroke-width="2.64" stroke-linecap="round" stroke-linejoin="round"/>
<path d="M1470,705Q1487.2,680.4 1522,669.8L1526.1,677.6Q1550.2,666.6 1579.7,676.8L1579,694.2Q1605.5,687.5 1629.7,708.2L1620.2,728.4Q1645.5,730 1655.7,760.6L1647.6,773Q1665.3,783.9 1665.8,818.8L1658.4,824.7Q1665.7,841.3 1658.8,872.6L1652,885L1642.6,876.9Q1624.3,851.9 1622,836.7L1611.8,836.6Q1592,821 1594.8,805.6L1581.7,809.5Q1563.2,802.7 1567.6,784.2L1552.1,795.1Q1538.5,789.2 1538.8,768.3L1527.8,781.1Q1513.1,770.4 1506.7,747.6L1500.2,753.4Q1479.4,733 1470,705Z" fill="url(#lfB)" stroke="#5b9440" stroke-width="1.2" stroke-linejoin="round"/><path d="M1476.5,705.7Q1633,722.2 1649.7,869.1M1554.8,682.2L1491.1,707.9L1523.4,760.4M1604.2,706.4L1538.2,721L1551.9,778.7M1639.4,747.4L1577.4,742.1L1578.7,796.4M1657.5,797.7L1608.5,771.2L1606.5,821M1659.5,852.1L1631.6,808.5L1634.5,857.6" fill="none" stroke="#b4dc8c" stroke-width="2.64" stroke-linecap="round" stroke-linejoin="round"/></g>
<g id="cp_red" transform="scale(0.15557) translate(-982,-1545)"><path d="M420,700Q448.5,727.8 458.9,751L449,749.3Q468.3,773.5 459.4,785.6L440.2,775.2Q460.3,800 448.7,808.8L422.6,795.1Q438,816.6 419,821.9L397.8,809.9Q406.2,826.6 383.4,828.7L368.8,821.9Q367.2,831.7 341.7,833.3L330,830L322,819.1Q315.3,795.8 324.5,791.3L313.1,780.9Q306.3,757.5 320.7,756.6L307,743.8Q304.5,724.2 329.6,730.7L312,716.4Q312.2,697.5 340.7,706.3L325.4,691.2Q334.2,680.7 363.6,690.1L353.3,678Q384,683.1 420,700Z" fill="#578f3e" stroke="#5b9440" stroke-width="1.2" stroke-linejoin="round"/>
<path d="M900,640Q925.6,651.7 938.7,665.8L930.6,667Q949.6,679 948.9,691.3L934.7,689.3Q950.4,700.4 943.2,709.4L927.8,708.8Q939.3,718.9 929.8,728.2L914,726.6Q920.3,735.4 904.3,742.8L895,743.1Q895.4,750.4 879,757.2L870,760L862.4,753.5Q852.1,739.6 857.4,733.7L846.1,727.5Q837.2,714.6 850.5,710.7L837,704.3Q828.2,691.1 847.1,688.6L826,680.2Q827.1,669.6 849.9,668.1L834.7,662.9Q837.9,651 857.7,648.8L848.5,644.6Q871.9,638.3 900,640Z" fill="#578f3e" stroke="#5b9440" stroke-width="1.2" stroke-linejoin="round"/>
<path d="M1500,780Q1528.4,774 1554.8,781.2L1549.1,788.5Q1571.1,789.6 1582.7,803.8L1572.6,814.7Q1593.1,816.6 1596.3,838L1585.7,846.6Q1604.3,849.7 1605.2,871.2L1595.7,880.3Q1608.3,886.7 1606.7,909.3L1599.9,917.2Q1607,926.7 1604.2,950.4L1600,960L1589.7,959.4Q1568,948.3 1565.4,936.4L1555.4,939.5Q1533.4,928.3 1538.2,912.3L1523.9,916.6Q1504.1,905.3 1511.8,887.7L1493.8,894.7Q1481.9,878.4 1493.5,858.6L1476.4,864.2Q1470.5,845.4 1484.6,824.3L1472.9,825.7Q1479.9,801 1500,780Z" fill="#578f3e" stroke="#5b9440" stroke-width="1.2" stroke-linejoin="round"/>
<ellipse cx="620" cy="518" rx="70" ry="88" fill="url(#tg_dred)"/>
<ellipse cx="1200" cy="462" rx="56" ry="48" fill="url(#tg_green)"/>
<ellipse cx="1440" cy="590" rx="90" ry="100" fill="url(#tg_dred)"/>
<ellipse cx="642" cy="690" rx="74" ry="82" fill="url(#tg_dred)"/>
<ellipse cx="392" cy="1020" rx="92" ry="112" fill="url(#tg_green)"/>
<ellipse cx="565" cy="945" rx="105" ry="85" fill="url(#tg_dred)"/>
<ellipse cx="858" cy="990" rx="105" ry="90" fill="url(#tg_dred)"/>
<ellipse cx="1238" cy="938" rx="95" ry="107" fill="url(#tg_green)"/>
<path d="M951,1545L959,1000Q948,760 933,520Q923,430 916,372L955,372Q976,520 987,700Q1002,880 1010,1000L1015,1545Z" fill="#8aaa50" stroke="#6f9340" stroke-width="3"/>
<path d="M958,1255Q890,1180 842,1085" fill="none" stroke="#6f9340" stroke-width="24" stroke-linecap="round"/><path d="M958,1255Q890,1180 842,1085" fill="none" stroke="#8aaa50" stroke-width="20" stroke-linecap="round"/>
<path d="M935,380Q900,330 912,270Q925,225 958,200" fill="none" stroke="#6f9340" stroke-width="24" stroke-linecap="round"/><path d="M935,380Q900,330 912,270Q925,225 958,200" fill="none" stroke="#8aaa50" stroke-width="20" stroke-linecap="round"/>
<path d="M945,385Q1010,330 1062,292" fill="none" stroke="#6f9340" stroke-width="22" stroke-linecap="round"/><path d="M945,385Q1010,330 1062,292" fill="none" stroke="#8aaa50" stroke-width="18" stroke-linecap="round"/>
<path d="M925,360Q830,345 770,352Q720,320 700,290" fill="none" stroke="#6f9340" stroke-width="20" stroke-linecap="round"/><path d="M925,360Q830,345 770,352Q720,320 700,290" fill="none" stroke="#8aaa50" stroke-width="16" stroke-linecap="round"/>
<path d="M770,352Q700,370 640,410" fill="none" stroke="#6f9340" stroke-width="16" stroke-linecap="round"/><path d="M770,352Q700,370 640,410" fill="none" stroke="#8aaa50" stroke-width="12" stroke-linecap="round"/>
<path d="M1000,545Q1080,510 1110,470Q1150,380 1200,340Q1260,310 1320,300" fill="none" stroke="#6f9340" stroke-width="20" stroke-linecap="round"/><path d="M1000,545Q1080,510 1110,470Q1150,380 1200,340Q1260,310 1320,300" fill="none" stroke="#8aaa50" stroke-width="16" stroke-linecap="round"/>
<path d="M1200,340Q1220,230 1262,185" fill="none" stroke="#6f9340" stroke-width="16" stroke-linecap="round"/><path d="M1200,340Q1220,230 1262,185" fill="none" stroke="#8aaa50" stroke-width="12" stroke-linecap="round"/>
<path d="M770,660Q680,560 580,520" fill="none" stroke="#6f9340" stroke-width="20" stroke-linecap="round"/><path d="M770,660Q680,560 580,520" fill="none" stroke="#8aaa50" stroke-width="16" stroke-linecap="round"/>
<path d="M950,820Q1040,770 1110,740" fill="none" stroke="#6f9340" stroke-width="18" stroke-linecap="round"/><path d="M950,820Q1040,770 1110,740" fill="none" stroke="#8aaa50" stroke-width="14" stroke-linecap="round"/>
<path d="M1285,680Q1360,690 1410,720" fill="none" stroke="#6f9340" stroke-width="16" stroke-linecap="round"/><path d="M1285,680Q1360,690 1410,720" fill="none" stroke="#8aaa50" stroke-width="12" stroke-linecap="round"/>
<path d="M740,905Q690,860 640,840" fill="none" stroke="#6f9340" stroke-width="14" stroke-linecap="round"/><path d="M740,905Q690,860 640,840" fill="none" stroke="#8aaa50" stroke-width="10" stroke-linecap="round"/>
<ellipse cx="772" cy="512" rx="125" ry="104" fill="url(#tg_red)"/>
<ellipse cx="522" cy="748" rx="130" ry="118" fill="url(#tg_red)"/>
<ellipse cx="1330" cy="660" rx="122" ry="110" fill="url(#tg_red)"/>
<ellipse cx="1390" cy="890" rx="112" ry="110" fill="url(#tg_red)"/>
<path d="M935,200Q891.7,204.6 860.5,195.2L872.4,184.5Q846,181.3 844.7,161.7L863.9,149.1Q843.3,144 852.6,119.4L871.9,108.4Q862,99.8 877.9,75.4L890,62L907.2,65.8Q934.9,76 931.6,88.9L953.5,85.4Q976.1,100.7 960.9,117.5L986.9,114.6Q995.9,132.4 971.3,152.3L992.2,151.1Q972.7,178.2 935,200Z" fill="url(#lfA)" stroke="#5b9440" stroke-width="1.2" stroke-linejoin="round"/><path d="M934.1,197.2L892.3,68.9M865.3,173.9L928.2,179.3L975.9,137.8M861,137.1L917,144.8L957.7,105.6M872.1,95.3L905.8,110.3L924.1,78.4" fill="none" stroke="#b4dc8c" stroke-width="2.64" stroke-linecap="round" stroke-linejoin="round"/>
<path d="M960,195Q959.4,170.4 971.5,145.5L978.3,156.3Q982.1,134.4 997.1,124.5L1006.9,135.1Q1012.3,117 1032.5,114.8L1040,124.9Q1046.2,109 1067,108.9L1075.4,120.6Q1082.7,107.3 1103.9,109.9L1110.9,116.4Q1121.1,110.4 1144.4,113L1152,118L1148.4,127.5Q1134.9,144.8 1122.9,146.4L1121.7,158Q1109.3,173.6 1095,169.3L1096.6,183.4Q1081.8,197.6 1066.7,191.6L1066.9,203.9Q1051.7,215.3 1034.8,204.6L1033.5,216Q1017.9,223.5 1000.3,211.2L1000.1,220.4Q976.6,213.2 960,195Z" fill="url(#lfA)" stroke="#5b9440" stroke-width="1.2" stroke-linejoin="round"/><path d="M963.8,193.5L1142.4,121.9M991.8,142.8L972.8,189.9L1019.1,210.8M1023,128L1004.8,177L1051.9,199.9M1056.8,119.6L1036.8,164.2L1082.1,182.6M1092.4,115.6L1068.8,151.4L1110.5,160.9M1129.3,115.1L1100.8,138.5L1137.6,135.8" fill="none" stroke="#b4dc8c" stroke-width="2.64" stroke-linecap="round" stroke-linejoin="round"/>
<path d="M880,200Q884.9,223.8 876.8,244.3L867.7,240.4Q866.4,258.1 849.1,266.4L838.1,257.1Q835.1,272.1 816.7,274.7L804.6,267.5Q797.4,275.8 775.7,274.7L765,272L767.1,263.6Q775.7,241.2 785.7,237.3L784,228Q795.5,208.9 809.2,210.9L807.9,200.7Q821.8,186.9 838.1,193.1L837.2,182.6Q860.7,185.2 880,200Z" fill="url(#lfB)" stroke="#5b9440" stroke-width="1.2" stroke-linejoin="round"/><path d="M877.7,201.4L770.8,268.4M859.7,249.3L862.7,210.8L826.7,196.8M828.9,264.1L834,228.8L800,218M793.4,271.4L805.2,246.8L778,246.7" fill="none" stroke="#b4dc8c" stroke-width="2.64" stroke-linecap="round" stroke-linejoin="round"/>
<path d="M1262,185Q1244.3,196.4 1227.2,195.3L1227.1,188.3Q1212.8,192.8 1204.5,181.1L1206.3,171.3Q1194.4,172.8 1187,156.6L1190.2,148.4Q1182.6,144.6 1178.7,127L1178,118L1186.6,116.6Q1204.9,116.6 1209.6,124.1L1218,118.3Q1235.1,121.8 1237.1,132.6L1247.5,126.9Q1258.7,135.3 1256.8,151L1264.4,148.5Q1269.2,165.3 1262,185Z" fill="url(#lfB)" stroke="#5b9440" stroke-width="1.2" stroke-linejoin="round"/><path d="M1260.3,183.7L1182.2,121.4M1218.2,184.8L1249.4,174.9L1252,142.3M1199.3,165.4L1228.4,158.2L1228.9,128.2M1185.2,140L1207.4,141.4L1201.1,120.1" fill="none" stroke="#b4dc8c" stroke-width="2.64" stroke-linecap="round" stroke-linejoin="round"/>
<path d="M1255,180Q1268.2,154.1 1291,137.4L1292.8,147.2Q1307.7,130.5 1328.9,129.9L1328.7,145Q1343.2,130.5 1359.7,138.4L1362.8,153.4Q1376.7,142.5 1394.9,153.1L1395.1,172.1Q1408.8,162.5 1425.5,178.5L1427.7,189.3Q1439.8,188.7 1456.7,206L1462,215L1452.9,222.6Q1432.4,232.6 1421,228.9L1414.1,240.5Q1394.5,247 1384.6,233.9L1375.9,251.8Q1357.6,255.5 1348.8,236L1340.4,254.8Q1322,255.8 1313.2,236.6L1308.4,247.3Q1288.5,244 1279.8,224L1274.2,228.4Q1259,208.8 1255,180Z" fill="url(#lfA)" stroke="#5b9440" stroke-width="1.2" stroke-linejoin="round"/><path d="M1259.1,180.7L1451.7,213.2M1311.3,145L1268.8,182.3L1296.7,231.6M1346.2,148.3L1303.3,188.2L1330.7,240M1379.8,159.8L1337.8,194L1366.2,240.1M1412.4,176.9L1372.3,199.8L1402.6,234.6M1444.2,198.5L1406.8,205.7L1439.8,224.8" fill="none" stroke="#b4dc8c" stroke-width="2.64" stroke-linecap="round" stroke-linejoin="round"/>
<path d="M1275,200Q1287,179.7 1311.2,167.8L1311.6,177.6Q1328.3,165.6 1346.5,173.6L1347.6,183.4Q1365.2,175.7 1382,188.2L1377.4,203.3Q1394.8,199.6 1405.8,219.7L1401.8,228.7Q1415.2,232 1421.3,253.8L1416.9,261.3Q1425.7,269.1 1427.4,291.4L1425,300L1416.6,299.2Q1397.3,290.1 1393.3,280.6L1382.9,284.1Q1367.2,279.9 1367.2,267.1L1357.3,275.2Q1341.5,273 1341.1,259.4L1333.4,266Q1319.8,265.5 1318.4,249.8L1311.9,259.8Q1300.1,252.3 1296.5,233.4L1291.3,242Q1279.4,222.9 1275,200Z" fill="url(#lfB)" stroke="#5b9440" stroke-width="1.2" stroke-linejoin="round"/><path d="M1278.9,200.6Q1374,214 1419.8,291.6M1330.8,177.9L1288,202.2L1307.6,243.5M1364.6,190.6L1318.6,210.5L1329.5,255.4M1391.9,213.8L1346.5,222.7L1352.6,264.9M1411.6,243.8L1371.8,239L1378,275.6M1423.3,278L1394.4,259.3L1406.1,290.1" fill="none" stroke="#b4dc8c" stroke-width="2.64" stroke-linecap="round" stroke-linejoin="round"/>
<path d="M745,275Q731.7,292 711.8,297.2L707.9,291.1Q694.8,299.6 678.8,293.2L675.7,281.1Q663.4,286.8 648.9,275L645.7,263.4Q634.7,263.8 620.2,247.4L615,240L621.2,236.8Q644,229.3 653.4,234.4L658.7,227.1Q680.3,223.8 688.4,234.1L696.4,227.3Q713.9,228.5 721.1,241.9L728.3,238.7Q742,253.6 745,275Z" fill="url(#lfB)" stroke="#5b9440" stroke-width="1.2" stroke-linejoin="round"/><path d="M742.4,274.3L621.5,241.8M696.3,290L725.5,269.7L710.5,237.6M664.7,278L693,261L677.1,232.1M635.1,258.6L660.5,252.2L641.7,234" fill="none" stroke="#b4dc8c" stroke-width="2.64" stroke-linecap="round" stroke-linejoin="round"/>
<path d="M705,292Q693.9,321.5 670.6,344.8L662.6,332.2Q649.6,357.2 623.7,360.7L616.9,347.1Q606,371.4 577.7,370.4L571.3,357.5Q560.5,376.7 533.6,375.1L523.3,362.4Q512,377.9 485.1,377.6L472.7,367Q459.3,377.8 429.2,376.7L415,375L417.9,363.1Q438.8,336.2 456.1,330.7L455.9,318.8Q479,294.9 500,298.8L500.2,280.2Q525.4,262.6 547.5,272.3L547.2,258.7Q577.2,242.2 599.9,259.5L603.7,243.8Q633,238.4 653.8,255.1L660.4,248Q690.3,263.9 705,292Z" fill="url(#lfA)" stroke="#5b9440" stroke-width="1.2" stroke-linejoin="round"/><path d="M698.8,292.3Q550,298.7 428.6,367.5M639.7,344.3L684.4,293.2L625.8,253.8M594.4,355.9L633.8,298.9L572.1,261.6M547.9,362.6L584.2,308.5L521.8,281.9M499.1,367.8L535.8,321.9L475.9,311.5M447.6,373.3L488.4,339.3L435,348.5" fill="none" stroke="#b4dc8c" stroke-width="2.64" stroke-linecap="round" stroke-linejoin="round"/>
<path d="M1185,225Q1220.7,251.2 1237.3,284.6L1220.6,283.7Q1246.8,310.7 1235.4,335.2L1216.8,331.6Q1238.8,356.9 1217.1,377.5L1196.9,373.1Q1213.2,396.2 1186.2,413.5L1166.3,410.6Q1175.7,431 1148,448.3L1132.1,446.6Q1129.5,462.3 1100.7,476.6L1085,482L1076,467.6Q1065.5,437.4 1076.2,424.8L1061.6,411.7Q1052.6,383.1 1073.1,374.3L1051.2,361.2Q1048.5,332.2 1078.3,327L1058.2,315Q1056.2,285.8 1090.5,282.4L1066.1,268Q1081.5,246.4 1113.4,242L1107,232.2Q1141,220.2 1185,225Z" fill="url(#lfA)" stroke="#5b9440" stroke-width="1.2" stroke-linejoin="round"/><path d="M1183,230.1L1090,469.2M1224.5,310.4L1178.3,242.1L1098.2,261.3M1211.5,354.7L1161.7,285L1077.8,302.7M1186.5,394.3L1145,327.8L1069.5,348.7M1153.4,430.7L1128.3,370.6L1069.3,398M1113.8,464.6L1111.7,413.5L1075.5,449.7" fill="none" stroke="#b4dc8c" stroke-width="2.64" stroke-linecap="round" stroke-linejoin="round"/>
<path d="M1400,318Q1439.2,351.2 1456.5,391.7L1440.2,389.8Q1464.9,421.3 1460.1,449.1L1431.7,443.5Q1452.1,472.9 1427.1,493.6L1402.1,487.1Q1419.5,515.1 1390.3,531.9L1368.4,528.8Q1373.6,550.9 1336.3,567.7L1322.6,564.6Q1317.9,582 1282.8,597.6L1265,600L1255.4,583.1Q1245.9,547.5 1258.8,534.1L1239.3,516.3Q1235.1,484.6 1262.5,478L1241.4,462.3Q1234.3,426.4 1262.8,420.5L1236.9,403.2Q1246.7,374.6 1289,375.2L1260.5,356.3Q1278.9,332.2 1319.8,332.2L1306.8,318.4Q1349.6,308.3 1400,318Z" fill="url(#lfA)" stroke="#5b9440" stroke-width="1.2" stroke-linejoin="round"/><path d="M1397.3,323.6L1271.8,585.9M1439.1,418.7L1391,336.8L1297,350.7M1420.7,467.7L1368.5,383.8L1270.4,395.8M1388.9,510.2L1346,430.8L1257.2,447.2M1347.8,548.4L1323.5,477.8L1253.3,503.1M1299.6,583.1L1301,524.8L1256.5,562.4" fill="none" stroke="#b4dc8c" stroke-width="2.64" stroke-linecap="round" stroke-linejoin="round"/>
<path d="M1340,300Q1347.1,323.7 1339.4,347.7L1330.9,346.4Q1329.4,363.5 1311.3,375.2L1299.8,370.1Q1296.3,384.9 1275.1,391L1263.4,387.4Q1255.6,397 1228.8,400.1L1220,400L1222.4,388.6Q1229.4,365.5 1240.2,359.6L1237,350Q1248.7,327.6 1262.8,325.7L1261.7,317Q1275.6,299 1293,300.9L1294.8,293.4Q1317.9,288.8 1340,300Z" fill="url(#lfB)" stroke="#5b9440" stroke-width="1.2" stroke-linejoin="round"/><path d="M1337.6,302L1226,395M1321.5,355.8L1322,315L1281.7,308.2M1289,377.9L1292,340L1254.2,336.1M1250.9,393.2L1262,365L1232.3,370.8" fill="none" stroke="#b4dc8c" stroke-width="2.64" stroke-linecap="round" stroke-linejoin="round"/>
<path d="M1540,345Q1586,358.1 1618,385.5L1602.6,390.8Q1634.9,408.1 1632.1,433.3L1610.9,440.1Q1644,457.4 1638.9,483.3L1608.9,489.3Q1632.8,506.4 1616.8,533.7L1592.7,538.2Q1607.9,555.2 1588,580.1L1567,586.9Q1572.7,603.8 1548.6,632.4L1535,640L1521.3,628.1Q1498.5,602.5 1503.7,585.9L1488.5,582.4Q1465,552.7 1478.4,536.3L1461,530.6Q1441.8,503.2 1464.2,486.8L1444.9,478.7Q1432.2,453.8 1461.2,437.6L1440.2,431Q1443.1,404.8 1475.7,388.7L1464.7,384.6Q1493.6,356.5 1540,345Z" fill="url(#lfA)" stroke="#5b9440" stroke-width="1.2" stroke-linejoin="round"/><path d="M1539.9,350.9L1535.2,625.3M1612,416.1L1539.7,364.7L1465.6,413.6M1615.5,465.3L1538.8,413.8L1460.5,462.7M1605,514.3L1538,463L1469.3,512M1585.1,563.1L1537.2,512.2L1487.6,561.5M1557.7,611.9L1536.3,561.3L1513.3,611.1" fill="none" stroke="#b4dc8c" stroke-width="2.64" stroke-linecap="round" stroke-linejoin="round"/>
<path d="M1630,392Q1656.6,375.7 1693.2,378L1693.9,389.8Q1721.9,388.7 1745.5,414.8L1736.2,427.3Q1764.6,432.1 1772.6,462.7L1762.9,475.4Q1782.3,489.6 1779,520.4L1762.9,529.9Q1774.6,548 1760.1,576.2L1748.6,581.4Q1746.4,599.7 1723.4,625.1L1712,632L1708.4,618Q1703.3,588.5 1709.5,574.2L1699.1,568.7Q1688.9,546.1 1698.6,534.3L1681,531.5Q1671.4,518.6 1681.9,505.5L1664.2,509.8Q1655.9,498.1 1664.8,480.3L1650.7,488Q1642,471.5 1644.7,449.2L1637.4,449.5Q1627.1,422.6 1630,392Z" fill="url(#lfB)" stroke="#5b9440" stroke-width="1.2" stroke-linejoin="round"/><path d="M1635.8,395.4Q1776.6,475.9 1717.9,616.6M1719.3,405.4L1648.6,403.5L1655.8,466.1M1754.8,449.2L1686.9,435.1L1673,493.6M1768.4,502.8L1713.5,470.7L1688.6,519.5M1760.6,556.7L1728.3,510.3L1702.2,552.9M1735.3,606.3L1731.4,553.9L1709.7,598.7" fill="none" stroke="#b4dc8c" stroke-width="2.64" stroke-linecap="round" stroke-linejoin="round"/>
<path d="M400,468Q378.2,492 345,506.5L337.1,497.3Q317.8,516.3 287.8,518.8L282.6,503.8Q269.5,527 242.7,529.8L232.6,513.4Q223.3,534.9 194.1,538.3L183.4,529.7Q173.3,546.9 143.5,554.6L130.5,553Q116.9,568.7 83.6,585.4L68,592L69.1,576.1Q84.8,537.8 103.4,523.6L100.5,508.2Q123.6,477 147.4,470.7L150.3,455.4Q177.6,429.9 205.6,436.6L207,420.3Q244.3,402.4 271.7,419.4L276.9,400Q317.7,401.2 341.6,424.1L348.2,412.1Q387.8,437.4 400,468Z" fill="url(#lfB)" stroke="#5b9440" stroke-width="1.2" stroke-linejoin="round"/><path d="M391.8,466.3Q194.3,423.8 80.8,575.7M308.5,502.9L372.9,463L305.7,415M257.8,512.1L308.3,458.9L236.2,421.6M208.9,523.3L248.2,466.6L173.7,449.9M157.8,541.4L192.4,486.1L122.3,494.9M103,570.4L141,517.4L83.3,552.5" fill="none" stroke="#b4dc8c" stroke-width="2.64" stroke-linecap="round" stroke-linejoin="round"/>
<path d="M345,465Q390,491.4 411.6,535.4L399.5,537Q428.4,565.7 430.9,600.2L391,601Q425.1,630.9 409.7,666.2L381.3,664.7Q400.3,691.3 371.6,724.5L347.2,723.1Q361.2,748.6 330,779.3L310.2,780.8Q311.3,803.5 280.7,831.1L262,842L248.5,828.2Q233.4,786.3 243.3,766.1L224.8,757.6Q211.2,715.5 232.9,697.9L210.2,686.1Q199.8,647.1 235.9,632.7L205,618.4Q202.7,581.9 243.9,568.6L214.5,557.6Q227,521.4 269.8,508.4L247.7,498.8Q293,470 345,465Z" fill="url(#lfA)" stroke="#5b9440" stroke-width="1.2" stroke-linejoin="round"/><path d="M343.3,472.5L266.2,823.1M402.2,571.2L339.5,490.1L248.5,537.3M392.9,635L325.6,553L230.1,599.1M368.9,695.6L311.8,615.8L226.4,664.2M335.1,754L298,678.6L232.7,731.5M293.4,810.7L284.1,741.5L246.7,800.4" fill="none" stroke="#b4dc8c" stroke-width="2.64" stroke-linecap="round" stroke-linejoin="round"/>
<path d="M480,448Q527.7,447.7 563.5,464.4L550.2,474Q587.8,480.7 596.8,504.9L575.8,516.1Q609.4,523.8 609.2,549.6L577.7,564.4Q611.4,572.1 601.4,600.7L577.3,613.3Q600.1,623.9 585.6,655.8L571.6,663.6Q578.9,678.3 563.5,711.5L552,722L536.4,715.3Q507.1,697.2 505.5,681L486.9,680.2Q461.9,660.2 475,640.2L445,641.5Q426.6,620.7 449.4,598.1L422.1,598.9Q404.6,577.7 430.3,554.3L405.6,553.1Q402.2,529.5 429.6,505.7L411,507.1Q438.3,471.2 480,448Z" fill="url(#lfA)" stroke="#5b9440" stroke-width="1.2" stroke-linejoin="round"/><path d="M481.4,453.5L548.4,708.3M567.9,494.2L484.8,466.3L426.2,531.5M584,538.8L496.8,511.9L434.1,578.2M586.7,586.9L508.8,557.6L455.4,621.4M580.2,637.5L520.8,603.3L485.9,662.2M566.5,689.9L532.8,648.9L523.5,701.2" fill="none" stroke="#b4dc8c" stroke-width="2.64" stroke-linecap="round" stroke-linejoin="round"/>
<path d="M222,688Q233.7,720.6 232.4,759.8L221.5,759.6Q230.5,783.5 226.4,804.4L208.4,803.9Q224.7,819.9 214.8,836L196.9,839.7Q217.7,848.7 213.9,867.6L197.8,878.9Q214.7,886.7 216.8,915.8L212.1,926.8Q226.2,940.4 243.4,977.9L246,992L228.4,989.9Q190.6,973 177,954.3L164.1,953.2Q132.7,930.2 132.2,905.4L113,905.1Q95.3,869.1 111.3,843.7L87.9,837.2Q89.1,795.8 113.7,776.4L102.8,767.8Q119.2,727.4 149.1,715.4L145.6,708.1Q187.1,682.7 222,688Z" fill="url(#lfB)" stroke="#5b9440" stroke-width="1.2" stroke-linejoin="round"/><path d="M216.3,694.6Q75.9,852.5 229.8,978M214,784L203.9,709.8L127.1,744.9M205.6,822.6L171,763.4L105.6,810.6M201.2,857.6L155.7,815.6L115.2,877.2M205.6,900.6L158,866.4L151.1,933M226.4,954.7L177.8,915.8L205.8,974.9" fill="none" stroke="#b4dc8c" stroke-width="2.64" stroke-linecap="round" stroke-linejoin="round"/>
<path d="M585,432Q606.1,408.6 638.5,400.2L641.1,412.8Q666.8,400.5 692.5,411.9L690.7,429.4Q716.8,422.2 737.4,444L730.5,462.1Q755.4,460.1 769.8,485.2L761.8,502.6Q781.7,507.9 790.7,538L784.4,548.5Q795.6,561.3 798.8,594.1L795,605L782.3,601.2Q757,587.1 750.5,573.3L739.4,576.8Q714.4,566.5 713.7,548.4L694.6,558.1Q676.5,549.6 677.7,527.9L665.2,538.8Q643.2,532.2 641.8,510.3L629.5,520.4Q613.6,507.9 609.9,483.2L600.8,490Q586.9,463.1 585,432Z" fill="url(#lfB)" stroke="#5b9440" stroke-width="1.2" stroke-linejoin="round"/><path d="M590.6,433.8Q724.6,476.5 787.8,592.4M668.4,417.2L603.3,438.3L626,498.3M714.2,441.9L646.4,457.3L658.5,521.2M750.4,478.8L685.6,481L692.9,541.2M776.5,523.6L721,509.4L729.7,562.7M792.4,573.4L752.5,542.4L769,588.4" fill="none" stroke="#b4dc8c" stroke-width="2.64" stroke-linecap="round" stroke-linejoin="round"/>
<path d="M800,398Q837.9,402.1 868.3,419.4L854.1,424.9Q882.6,433.8 887.5,454.1L872.6,460.4Q895.9,470 888.9,491.2L868.8,499Q893,508.5 882.4,530.1L862.9,538Q879.2,548.6 866.1,569.9L851.3,577.7Q857.4,589.8 841.8,613.2L832,622L819.3,617.3Q798.6,598.2 799.2,585.2L782.4,582.6Q766.1,564.7 776.5,550.3L758.5,549.7Q741.7,530.1 758.8,514.7L741.4,512.7Q728.1,494 749.3,478L728.5,476.4Q730.7,455.5 755.5,439L746.3,434.5Q764.8,412.6 800,398Z" fill="url(#lfA)" stroke="#5b9440" stroke-width="1.2" stroke-linejoin="round"/><path d="M800.6,402.5L830.4,610.8M865.6,442.7L802.1,412.9L749.6,459.3M874.3,479.6L807.5,450.3L751.5,497.1M872,518L812.8,487.6L764.5,533.4M862.2,557.5L818.1,524.9L785,568.5M846.5,597.8L823.5,562.3L811.3,602.9" fill="none" stroke="#b4dc8c" stroke-width="2.64" stroke-linecap="round" stroke-linejoin="round"/>
<path d="M990,508Q1026.9,519.3 1054.3,545.5L1041.1,548.4Q1066.3,563.6 1067,589.6L1049.5,592.5Q1074,607.6 1070,633.6L1045.2,636.5Q1065.3,651.6 1052.5,674.2L1035.5,680.4Q1045.7,695.4 1029.5,717.8L1016,724.2Q1017.9,739.2 999,763.1L988,772L977.3,761.6Q958.6,738.8 961.7,723.8L949,719.8Q931.4,694.6 946.7,679.7L927.2,672.7Q912.5,650.4 932.9,635.6L915,630.6Q904.5,606.4 927.9,591.6L908.6,586.3Q912.9,562.4 941.2,547.7L925.5,541.9Q953,518.7 990,508Z" fill="url(#lfA)" stroke="#5b9440" stroke-width="1.2" stroke-linejoin="round"/><path d="M990,513.3L988.1,758.8M1048.1,570.9L989.9,525.6L930.9,570M1051.2,614.9L989.5,569.6L927.2,614M1043.2,658.9L989.2,613.6L934.6,658.1M1027.5,702.8L988.9,657.6L949.5,702.2M1006,746.6L988.5,701.6L970.4,746.3" fill="none" stroke="#b4dc8c" stroke-width="2.64" stroke-linecap="round" stroke-linejoin="round"/>
<path d="M1130,498Q1187,498.7 1230,517.3L1214.7,528.7Q1257.2,537.7 1264.1,566.3L1242.7,577.4Q1280.9,587.3 1277.6,620.1L1246.3,631.6Q1280.7,642.5 1263.7,675.2L1239.9,688.2Q1264.5,701.3 1244.2,736.7L1228.5,745.9Q1236.4,762.8 1215.3,796.5L1202,812L1182.9,805.1Q1149.6,782.7 1148.7,764.2L1131.9,763.7Q1097.5,739.6 1115.8,716.6L1085.6,720Q1057.3,693.7 1087.8,668L1049.3,669.8Q1033.1,644.2 1072,616.5L1033.6,621.3Q1032.8,589.1 1066.1,562.8L1045.7,558.9Q1079,523.5 1130,498Z" fill="url(#lfA)" stroke="#5b9440" stroke-width="1.2" stroke-linejoin="round"/><path d="M1131.4,504.3L1198.4,796.3M1232.7,552.7L1134.8,518.9L1061.4,592M1249.7,603.9L1146.8,571.3L1068.4,645.4M1250.4,658.8L1158.8,623.6L1091.7,695.2M1240.1,716.2L1170.8,675.9L1126,742.4M1221,775.7L1182.8,728.3L1169,787.6" fill="none" stroke="#b4dc8c" stroke-width="2.64" stroke-linecap="round" stroke-linejoin="round"/>
<path d="M1310,682Q1305.2,652.3 1328.6,618.1L1339,623.3Q1348.2,598 1386.7,587.1L1396.2,597.3Q1412,580.2 1449.8,585.5L1458.3,594.1Q1477.5,591.5 1509.3,607.3L1522,618L1507.9,624.1Q1477.6,637.5 1461.3,635.4L1453.2,649.4Q1431.4,661.7 1414.9,656.2L1414.1,671.4Q1391.1,682.3 1371.6,677.4L1368.9,687.6Q1337.7,691.8 1310,682Z" fill="#578f3e" stroke="#5b9440" stroke-width="1.2" stroke-linejoin="round"/><path d="M1313.6,678.7Q1400.6,599.1 1509.9,616.4M1355.5,608.2L1337.9,659.4L1386.8,670.6M1416.5,590.8L1387.4,632L1430.2,650.3M1479.4,598.1L1440.8,617.2L1479.2,630.9" fill="none" stroke="#b4dc8c" stroke-width="2.64" stroke-linecap="round" stroke-linejoin="round"/>
<path d="M945,740Q975.6,752.2 995.9,778L983.4,781.2Q999.6,795.1 995.5,815.9L977.9,822.3Q990.5,835.9 974.4,857.8L961.1,862.7Q964.9,875.8 944.7,897.1L935,905L927.1,897.4Q908.8,872.4 914.7,859.9L901,854.2Q888.2,829.7 901.9,817.7L887.1,811.9Q884.2,788.1 906.1,776.6L896.4,770Q913.2,748.4 945,740Z" fill="url(#lfB)" stroke="#5b9440" stroke-width="1.2" stroke-linejoin="round"/><path d="M944.8,743.3L935.5,896.8M984.4,795.4L943.5,764.8L899.2,790.2M976.6,836.3L941,806L902,831.8M956.8,876.5L938.5,847.2L916.8,874.1" fill="none" stroke="#b4dc8c" stroke-width="2.64" stroke-linecap="round" stroke-linejoin="round"/>
<path d="M850,648Q896.7,668.2 929,699.9L905,699.2Q940.8,721.2 936.2,747L913.8,745.3Q943,766.1 933.4,786.9L895.7,786.2Q923.7,806.8 904,828.3L877.3,827.1Q890,844.7 866.7,864.4L845.7,865.4Q845.4,880.5 817,897.7L800,905L786.2,892.6Q767.1,865.3 772.8,851.2L753,841.9Q739.2,815.4 759.3,804.2L735.9,794Q722.1,767.6 755.8,759L719.8,748.3Q719.5,722.6 760.6,715.5L724.6,702.7Q738.4,681.9 777.5,674.4L757.1,667.5Q799.2,649.2 850,648Z" fill="url(#lfA)" stroke="#5b9440" stroke-width="1.2" stroke-linejoin="round"/><path d="M849,653.1L802.5,892.1M915.4,723.9L846.7,665.1L760.9,693.8M911.6,767.6L838.3,708L748,735.7M893.1,808.4L830,750.8L749.9,780.6M864.6,847.3L821.7,793.6L761.7,827.3M828.3,884.7L813.3,836.5L781.4,875.6" fill="none" stroke="#b4dc8c" stroke-width="2.64" stroke-linecap="round" stroke-linejoin="round"/>
<path d="M865,850Q895.9,869.3 915.2,899L902.3,901.4Q921.3,921.9 921.3,946.1L899,947Q917.7,967.4 910.2,988.9L882.4,989.2Q899.3,1009.2 881.9,1029.4L863,1030.7Q871,1048.5 852.4,1067.6L836.6,1070.5Q835.1,1086 812.8,1106L800,1112L791.8,1101Q781.1,1072.5 789.5,1058.9L775.4,1048.7Q767,1022.7 784.4,1011.3L766.5,1002.1Q760.3,974.7 785.6,965.2L762.5,956.6Q763.5,929.1 793.5,920.8L773.5,910.1Q781.6,887.3 812,879L797.4,870.9Q828.7,852.6 865,850Z" fill="url(#lfB)" stroke="#5b9440" stroke-width="1.2" stroke-linejoin="round"/><path d="M863.7,855.2L803.3,1098.9M902.9,925.2L860.7,867.5L796.3,898.8M895.2,969.7L849.8,911.1L782.4,941.7M877.4,1011.6L839,954.8L778.5,987.1M852.6,1051.8L828.2,998.5L781.6,1034.2M822.5,1090.7L817.3,1042.1L790.1,1082.7" fill="none" stroke="#b4dc8c" stroke-width="2.64" stroke-linecap="round" stroke-linejoin="round"/>
<path d="M715,792Q704.5,814.3 679.4,829L675.4,821.5Q660.7,839.2 635.8,839.3L631.1,830.9Q616.4,845.3 590.5,839.3L586.5,829.7Q571.7,841.7 547,835.5L541.8,824.8Q526.9,831.6 499.9,821.8L497,814.7Q481.9,816.6 455.8,806.9L448,800L458.9,792.6Q480.8,781.4 496.1,784L500.5,775.2Q524.9,763.8 540.2,771.9L546.8,756.5Q569,751 584.5,761.4L587,750.6Q613.4,744.7 628.9,757.9L635.1,746.7Q658,748.1 673.7,764.9L680.4,755.4Q703.2,770.4 715,792Z" fill="url(#lfA)" stroke="#5b9440" stroke-width="1.2" stroke-linejoin="round"/><path d="M709.7,792.2L461.4,799.6M652.9,828.7L697.2,792.5L650.8,759.1M608.4,832L652.7,793.9L606.2,758.4M563.8,828.8L608.2,795.2L561.8,764.3M519,821L563.7,796.5L517.6,774.7M474.1,809.8L519.2,797.9L473.5,788.7" fill="none" stroke="#b4dc8c" stroke-width="2.64" stroke-linecap="round" stroke-linejoin="round"/>
<path d="M635,848Q620.5,872.5 597.3,889.1L591.6,881.5Q582.8,896.8 564.7,896.8L555.6,890.2Q550,903.3 528.1,904.9L516.8,901Q508.6,911.5 482.3,920.5L468,925L467.8,914.9Q475.9,879.1 490,869.5L487.6,857Q509.3,830 529.3,830.4L532.7,818.9Q563,804.3 583.3,814.8L590.9,809Q623.2,821.4 635,848Z" fill="url(#lfB)" stroke="#5b9440" stroke-width="1.2" stroke-linejoin="round"/><path d="M630.8,847.6Q528.4,836.4 474.2,916.4M579.1,884.9L604.1,846.8L563.9,816.8M543.6,893.9L557.1,854.8L513.4,840.8M503,907.8L515.9,875.3L479.5,884.9" fill="none" stroke="#b4dc8c" stroke-width="2.64" stroke-linecap="round" stroke-linejoin="round"/>
<ellipse cx="1090" cy="915" rx="135" ry="120" fill="url(#tg_red)"/><path d="M1052,787q16,14 38,12q22,2 40,-16M1076,775q6,18 14,24q10,-10 14,-26M1090,767v32" fill="none" stroke="#5e8a3c" stroke-width="7" stroke-linecap="round"/>
<ellipse cx="1515" cy="1000" rx="125" ry="112" fill="url(#tg_red)"/>
<ellipse cx="554" cy="1052" rx="134" ry="118" fill="url(#tg_red)"/><path d="M516,926q16,14 38,12q22,2 40,-16M540,914q6,18 14,24q10,-10 14,-26M554,906v32" fill="none" stroke="#5e8a3c" stroke-width="7" stroke-linecap="round"/>
<path d="M1455,700Q1497.8,716.2 1520.7,744.6L1511,751.7Q1541.1,771.7 1538.2,798.6L1517.3,804.4Q1546.7,824.4 1533.5,851.7L1508.7,856.1Q1533,875.7 1511.8,904.6L1489.7,907Q1506.4,926 1485.2,950.7L1465.3,957.5Q1470,975.6 1445.7,1005.1L1432,1012L1419.5,1002.8Q1399.7,970.4 1405.3,953L1389.8,946.8Q1371,916 1386.2,899.4L1368.7,890.4Q1352.1,862.3 1376.4,846.3L1354.8,837.8Q1346,809.6 1376.2,794.1L1351.6,786.5Q1359.3,758.3 1389.6,742.8L1380,738.9Q1410.3,709.8 1455,700Z" fill="url(#lfA)" stroke="#5b9440" stroke-width="1.2" stroke-linejoin="round"/><path d="M1454.5,706.2L1433.2,996.4M1518.9,779L1453.5,720.8L1380.2,768.7M1519.2,831.3L1449.6,772.8L1372.3,820.4M1506.2,882.6L1445.8,824.8L1377.6,873.1M1484.3,933.2L1442,876.8L1391.9,926.4M1455.3,983.4L1438.1,928.8L1413.2,980.3" fill="none" stroke="#b4dc8c" stroke-width="2.64" stroke-linecap="round" stroke-linejoin="round"/>
<path d="M1470,705Q1487.2,680.4 1522,669.8L1526.1,677.6Q1550.2,666.6 1579.7,676.8L1579,694.2Q1605.5,687.5 1629.7,708.2L1620.2,728.4Q1645.5,730 1655.7,760.6L1647.6,773Q1665.3,783.9 1665.8,818.8L1658.4,824.7Q1665.7,841.3 1658.8,872.6L1652,885L1642.6,876.9Q1624.3,851.9 1622,836.7L1611.8,836.6Q1592,821 1594.8,805.6L1581.7,809.5Q1563.2,802.7 1567.6,784.2L1552.1,795.1Q1538.5,789.2 1538.8,768.3L1527.8,781.1Q1513.1,770.4 1506.7,747.6L1500.2,753.4Q1479.4,733 1470,705Z" fill="url(#lfB)" stroke="#5b9440" stroke-width="1.2" stroke-linejoin="round"/><path d="M1476.5,705.7Q1633,722.2 1649.7,869.1M1554.8,682.2L1491.1,707.9L1523.4,760.4M1604.2,706.4L1538.2,721L1551.9,778.7M1639.4,747.4L1577.4,742.1L1578.7,796.4M1657.5,797.7L1608.5,771.2L1606.5,821M1659.5,852.1L1631.6,808.5L1634.5,857.6" fill="none" stroke="#b4dc8c" stroke-width="2.64" stroke-linecap="round" stroke-linejoin="round"/></g>
<g id="cp_yellow" transform="scale(0.15557) translate(-982,-1545)"><path d="M420,700Q448.5,727.8 458.9,751L449,749.3Q468.3,773.5 459.4,785.6L440.2,775.2Q460.3,800 448.7,808.8L422.6,795.1Q438,816.6 419,821.9L397.8,809.9Q406.2,826.6 383.4,828.7L368.8,821.9Q367.2,831.7 341.7,833.3L330,830L322,819.1Q315.3,795.8 324.5,791.3L313.1,780.9Q306.3,757.5 320.7,756.6L307,743.8Q304.5,724.2 329.6,730.7L312,716.4Q312.2,697.5 340.7,706.3L325.4,691.2Q334.2,680.7 363.6,690.1L353.3,678Q384,683.1 420,700Z" fill="#578f3e" stroke="#5b9440" stroke-width="1.2" stroke-linejoin="round"/>
<path d="M900,640Q925.6,651.7 938.7,665.8L930.6,667Q949.6,679 948.9,691.3L934.7,689.3Q950.4,700.4 943.2,709.4L927.8,708.8Q939.3,718.9 929.8,728.2L914,726.6Q920.3,735.4 904.3,742.8L895,743.1Q895.4,750.4 879,757.2L870,760L862.4,753.5Q852.1,739.6 857.4,733.7L846.1,727.5Q837.2,714.6 850.5,710.7L837,704.3Q828.2,691.1 847.1,688.6L826,680.2Q827.1,669.6 849.9,668.1L834.7,662.9Q837.9,651 857.7,648.8L848.5,644.6Q871.9,638.3 900,640Z" fill="#578f3e" stroke="#5b9440" stroke-width="1.2" stroke-linejoin="round"/>
<path d="M1500,780Q1528.4,774 1554.8,781.2L1549.1,788.5Q1571.1,789.6 1582.7,803.8L1572.6,814.7Q1593.1,816.6 1596.3,838L1585.7,846.6Q1604.3,849.7 1605.2,871.2L1595.7,880.3Q1608.3,886.7 1606.7,909.3L1599.9,917.2Q1607,926.7 1604.2,950.4L1600,960L1589.7,959.4Q1568,948.3 1565.4,936.4L1555.4,939.5Q1533.4,928.3 1538.2,912.3L1523.9,916.6Q1504.1,905.3 1511.8,887.7L1493.8,894.7Q1481.9,878.4 1493.5,858.6L1476.4,864.2Q1470.5,845.4 1484.6,824.3L1472.9,825.7Q1479.9,801 1500,780Z" fill="#578f3e" stroke="#5b9440" stroke-width="1.2" stroke-linejoin="round"/>
<ellipse cx="620" cy="518" rx="70" ry="88" fill="url(#tg_dyellow)"/>
<ellipse cx="1200" cy="462" rx="56" ry="48" fill="url(#tg_yellow)"/>
<ellipse cx="1440" cy="590" rx="90" ry="100" fill="url(#tg_dyellow)"/>
<ellipse cx="642" cy="690" rx="74" ry="82" fill="url(#tg_dyellow)"/>
<ellipse cx="392" cy="1020" rx="92" ry="112" fill="url(#tg_yellow)"/>
<ellipse cx="565" cy="945" rx="105" ry="85" fill="url(#tg_dyellow)"/>
<ellipse cx="858" cy="990" rx="105" ry="90" fill="url(#tg_dyellow)"/>
<ellipse cx="1238" cy="938" rx="95" ry="107" fill="url(#tg_yellow)"/>
<path d="M951,1545L959,1000Q948,760 933,520Q923,430 916,372L955,372Q976,520 987,700Q1002,880 1010,1000L1015,1545Z" fill="#8aaa50" stroke="#6f9340" stroke-width="3"/>
<path d="M958,1255Q890,1180 842,1085" fill="none" stroke="#6f9340" stroke-width="24" stroke-linecap="round"/><path d="M958,1255Q890,1180 842,1085" fill="none" stroke="#8aaa50" stroke-width="20" stroke-linecap="round"/>
<path d="M935,380Q900,330 912,270Q925,225 958,200" fill="none" stroke="#6f9340" stroke-width="24" stroke-linecap="round"/><path d="M935,380Q900,330 912,270Q925,225 958,200" fill="none" stroke="#8aaa50" stroke-width="20" stroke-linecap="round"/>
<path d="M945,385Q1010,330 1062,292" fill="none" stroke="#6f9340" stroke-width="22" stroke-linecap="round"/><path d="M945,385Q1010,330 1062,292" fill="none" stroke="#8aaa50" stroke-width="18" stroke-linecap="round"/>
<path d="M925,360Q830,345 770,352Q720,320 700,290" fill="none" stroke="#6f9340" stroke-width="20" stroke-linecap="round"/><path d="M925,360Q830,345 770,352Q720,320 700,290" fill="none" stroke="#8aaa50" stroke-width="16" stroke-linecap="round"/>
<path d="M770,352Q700,370 640,410" fill="none" stroke="#6f9340" stroke-width="16" stroke-linecap="round"/><path d="M770,352Q700,370 640,410" fill="none" stroke="#8aaa50" stroke-width="12" stroke-linecap="round"/>
<path d="M1000,545Q1080,510 1110,470Q1150,380 1200,340Q1260,310 1320,300" fill="none" stroke="#6f9340" stroke-width="20" stroke-linecap="round"/><path d="M1000,545Q1080,510 1110,470Q1150,380 1200,340Q1260,310 1320,300" fill="none" stroke="#8aaa50" stroke-width="16" stroke-linecap="round"/>
<path d="M1200,340Q1220,230 1262,185" fill="none" stroke="#6f9340" stroke-width="16" stroke-linecap="round"/><path d="M1200,340Q1220,230 1262,185" fill="none" stroke="#8aaa50" stroke-width="12" stroke-linecap="round"/>
<path d="M770,660Q680,560 580,520" fill="none" stroke="#6f9340" stroke-width="20" stroke-linecap="round"/><path d="M770,660Q680,560 580,520" fill="none" stroke="#8aaa50" stroke-width="16" stroke-linecap="round"/>
<path d="M950,820Q1040,770 1110,740" fill="none" stroke="#6f9340" stroke-width="18" stroke-linecap="round"/><path d="M950,820Q1040,770 1110,740" fill="none" stroke="#8aaa50" stroke-width="14" stroke-linecap="round"/>
<path d="M1285,680Q1360,690 1410,720" fill="none" stroke="#6f9340" stroke-width="16" stroke-linecap="round"/><path d="M1285,680Q1360,690 1410,720" fill="none" stroke="#8aaa50" stroke-width="12" stroke-linecap="round"/>
<path d="M740,905Q690,860 640,840" fill="none" stroke="#6f9340" stroke-width="14" stroke-linecap="round"/><path d="M740,905Q690,860 640,840" fill="none" stroke="#8aaa50" stroke-width="10" stroke-linecap="round"/>
<ellipse cx="772" cy="512" rx="125" ry="104" fill="url(#tg_yellow)"/>
<ellipse cx="522" cy="748" rx="130" ry="118" fill="url(#tg_yellow)"/>
<ellipse cx="1330" cy="660" rx="122" ry="110" fill="url(#tg_yellow)"/>
<ellipse cx="1390" cy="890" rx="112" ry="110" fill="url(#tg_yellow)"/>
<path d="M935,200Q891.7,204.6 860.5,195.2L872.4,184.5Q846,181.3 844.7,161.7L863.9,149.1Q843.3,144 852.6,119.4L871.9,108.4Q862,99.8 877.9,75.4L890,62L907.2,65.8Q934.9,76 931.6,88.9L953.5,85.4Q976.1,100.7 960.9,117.5L986.9,114.6Q995.9,132.4 971.3,152.3L992.2,151.1Q972.7,178.2 935,200Z" fill="url(#lfA)" stroke="#5b9440" stroke-width="1.2" stroke-linejoin="round"/><path d="M934.1,197.2L892.3,68.9M865.3,173.9L928.2,179.3L975.9,137.8M861,137.1L917,144.8L957.7,105.6M872.1,95.3L905.8,110.3L924.1,78.4" fill="none" stroke="#b4dc8c" stroke-width="2.64" stroke-linecap="round" stroke-linejoin="round"/>
<path d="M960,195Q959.4,170.4 971.5,145.5L978.3,156.3Q982.1,134.4 997.1,124.5L1006.9,135.1Q1012.3,117 1032.5,114.8L1040,124.9Q1046.2,109 1067,108.9L1075.4,120.6Q1082.7,107.3 1103.9,109.9L1110.9,116.4Q1121.1,110.4 1144.4,113L1152,118L1148.4,127.5Q1134.9,144.8 1122.9,146.4L1121.7,158Q1109.3,173.6 1095,169.3L1096.6,183.4Q1081.8,197.6 1066.7,191.6L1066.9,203.9Q1051.7,215.3 1034.8,204.6L1033.5,216Q1017.9,223.5 1000.3,211.2L1000.1,220.4Q976.6,213.2 960,195Z" fill="url(#lfA)" stroke="#5b9440" stroke-width="1.2" stroke-linejoin="round"/><path d="M963.8,193.5L1142.4,121.9M991.8,142.8L972.8,189.9L1019.1,210.8M1023,128L1004.8,177L1051.9,199.9M1056.8,119.6L1036.8,164.2L1082.1,182.6M1092.4,115.6L1068.8,151.4L1110.5,160.9M1129.3,115.1L1100.8,138.5L1137.6,135.8" fill="none" stroke="#b4dc8c" stroke-width="2.64" stroke-linecap="round" stroke-linejoin="round"/>
<path d="M880,200Q884.9,223.8 876.8,244.3L867.7,240.4Q866.4,258.1 849.1,266.4L838.1,257.1Q835.1,272.1 816.7,274.7L804.6,267.5Q797.4,275.8 775.7,274.7L765,272L767.1,263.6Q775.7,241.2 785.7,237.3L784,228Q795.5,208.9 809.2,210.9L807.9,200.7Q821.8,186.9 838.1,193.1L837.2,182.6Q860.7,185.2 880,200Z" fill="url(#lfB)" stroke="#5b9440" stroke-width="1.2" stroke-linejoin="round"/><path d="M877.7,201.4L770.8,268.4M859.7,249.3L862.7,210.8L826.7,196.8M828.9,264.1L834,228.8L800,218M793.4,271.4L805.2,246.8L778,246.7" fill="none" stroke="#b4dc8c" stroke-width="2.64" stroke-linecap="round" stroke-linejoin="round"/>
<path d="M1262,185Q1244.3,196.4 1227.2,195.3L1227.1,188.3Q1212.8,192.8 1204.5,181.1L1206.3,171.3Q1194.4,172.8 1187,156.6L1190.2,148.4Q1182.6,144.6 1178.7,127L1178,118L1186.6,116.6Q1204.9,116.6 1209.6,124.1L1218,118.3Q1235.1,121.8 1237.1,132.6L1247.5,126.9Q1258.7,135.3 1256.8,151L1264.4,148.5Q1269.2,165.3 1262,185Z" fill="url(#lfB)" stroke="#5b9440" stroke-width="1.2" stroke-linejoin="round"/><path d="M1260.3,183.7L1182.2,121.4M1218.2,184.8L1249.4,174.9L1252,142.3M1199.3,165.4L1228.4,158.2L1228.9,128.2M1185.2,140L1207.4,141.4L1201.1,120.1" fill="none" stroke="#b4dc8c" stroke-width="2.64" stroke-linecap="round" stroke-linejoin="round"/>
<path d="M1255,180Q1268.2,154.1 1291,137.4L1292.8,147.2Q1307.7,130.5 1328.9,129.9L1328.7,145Q1343.2,130.5 1359.7,138.4L1362.8,153.4Q1376.7,142.5 1394.9,153.1L1395.1,172.1Q1408.8,162.5 1425.5,178.5L1427.7,189.3Q1439.8,188.7 1456.7,206L1462,215L1452.9,222.6Q1432.4,232.6 1421,228.9L1414.1,240.5Q1394.5,247 1384.6,233.9L1375.9,251.8Q1357.6,255.5 1348.8,236L1340.4,254.8Q1322,255.8 1313.2,236.6L1308.4,247.3Q1288.5,244 1279.8,224L1274.2,228.4Q1259,208.8 1255,180Z" fill="url(#lfA)" stroke="#5b9440" stroke-width="1.2" stroke-linejoin="round"/><path d="M1259.1,180.7L1451.7,213.2M1311.3,145L1268.8,182.3L1296.7,231.6M1346.2,148.3L1303.3,188.2L1330.7,240M1379.8,159.8L1337.8,194L1366.2,240.1M1412.4,176.9L1372.3,199.8L1402.6,234.6M1444.2,198.5L1406.8,205.7L1439.8,224.8" fill="none" stroke="#b4dc8c" stroke-width="2.64" stroke-linecap="round" stroke-linejoin="round"/>
<path d="M1275,200Q1287,179.7 1311.2,167.8L1311.6,177.6Q1328.3,165.6 1346.5,173.6L1347.6,183.4Q1365.2,175.7 1382,188.2L1377.4,203.3Q1394.8,199.6 1405.8,219.7L1401.8,228.7Q1415.2,232 1421.3,253.8L1416.9,261.3Q1425.7,269.1 1427.4,291.4L1425,300L1416.6,299.2Q1397.3,290.1 1393.3,280.6L1382.9,284.1Q1367.2,279.9 1367.2,267.1L1357.3,275.2Q1341.5,273 1341.1,259.4L1333.4,266Q1319.8,265.5 1318.4,249.8L1311.9,259.8Q1300.1,252.3 1296.5,233.4L1291.3,242Q1279.4,222.9 1275,200Z" fill="url(#lfB)" stroke="#5b9440" stroke-width="1.2" stroke-linejoin="round"/><path d="M1278.9,200.6Q1374,214 1419.8,291.6M1330.8,177.9L1288,202.2L1307.6,243.5M1364.6,190.6L1318.6,210.5L1329.5,255.4M1391.9,213.8L1346.5,222.7L1352.6,264.9M1411.6,243.8L1371.8,239L1378,275.6M1423.3,278L1394.4,259.3L1406.1,290.1" fill="none" stroke="#b4dc8c" stroke-width="2.64" stroke-linecap="round" stroke-linejoin="round"/>
<path d="M745,275Q731.7,292 711.8,297.2L707.9,291.1Q694.8,299.6 678.8,293.2L675.7,281.1Q663.4,286.8 648.9,275L645.7,263.4Q634.7,263.8 620.2,247.4L615,240L621.2,236.8Q644,229.3 653.4,234.4L658.7,227.1Q680.3,223.8 688.4,234.1L696.4,227.3Q713.9,228.5 721.1,241.9L728.3,238.7Q742,253.6 745,275Z" fill="url(#lfB)" stroke="#5b9440" stroke-width="1.2" stroke-linejoin="round"/><path d="M742.4,274.3L621.5,241.8M696.3,290L725.5,269.7L710.5,237.6M664.7,278L693,261L677.1,232.1M635.1,258.6L660.5,252.2L641.7,234" fill="none" stroke="#b4dc8c" stroke-width="2.64" stroke-linecap="round" stroke-linejoin="round"/>
<path d="M705,292Q693.9,321.5 670.6,344.8L662.6,332.2Q649.6,357.2 623.7,360.7L616.9,347.1Q606,371.4 577.7,370.4L571.3,357.5Q560.5,376.7 533.6,375.1L523.3,362.4Q512,377.9 485.1,377.6L472.7,367Q459.3,377.8 429.2,376.7L415,375L417.9,363.1Q438.8,336.2 456.1,330.7L455.9,318.8Q479,294.9 500,298.8L500.2,280.2Q525.4,262.6 547.5,272.3L547.2,258.7Q577.2,242.2 599.9,259.5L603.7,243.8Q633,238.4 653.8,255.1L660.4,248Q690.3,263.9 705,292Z" fill="url(#lfA)" stroke="#5b9440" stroke-width="1.2" stroke-linejoin="round"/><path d="M698.8,292.3Q550,298.7 428.6,367.5M639.7,344.3L684.4,293.2L625.8,253.8M594.4,355.9L633.8,298.9L572.1,261.6M547.9,362.6L584.2,308.5L521.8,281.9M499.1,367.8L535.8,321.9L475.9,311.5M447.6,373.3L488.4,339.3L435,348.5" fill="none" stroke="#b4dc8c" stroke-width="2.64" stroke-linecap="round" stroke-linejoin="round"/>
<path d="M1185,225Q1220.7,251.2 1237.3,284.6L1220.6,283.7Q1246.8,310.7 1235.4,335.2L1216.8,331.6Q1238.8,356.9 1217.1,377.5L1196.9,373.1Q1213.2,396.2 1186.2,413.5L1166.3,410.6Q1175.7,431 1148,448.3L1132.1,446.6Q1129.5,462.3 1100.7,476.6L1085,482L1076,467.6Q1065.5,437.4 1076.2,424.8L1061.6,411.7Q1052.6,383.1 1073.1,374.3L1051.2,361.2Q1048.5,332.2 1078.3,327L1058.2,315Q1056.2,285.8 1090.5,282.4L1066.1,268Q1081.5,246.4 1113.4,242L1107,232.2Q1141,220.2 1185,225Z" fill="url(#lfA)" stroke="#5b9440" stroke-width="1.2" stroke-linejoin="round"/><path d="M1183,230.1L1090,469.2M1224.5,310.4L1178.3,242.1L1098.2,261.3M1211.5,354.7L1161.7,285L1077.8,302.7M1186.5,394.3L1145,327.8L1069.5,348.7M1153.4,430.7L1128.3,370.6L1069.3,398M1113.8,464.6L1111.7,413.5L1075.5,449.7" fill="none" stroke="#b4dc8c" stroke-width="2.64" stroke-linecap="round" stroke-linejoin="round"/>
<path d="M1400,318Q1439.2,351.2 1456.5,391.7L1440.2,389.8Q1464.9,421.3 1460.1,449.1L1431.7,443.5Q1452.1,472.9 1427.1,493.6L1402.1,487.1Q1419.5,515.1 1390.3,531.9L1368.4,528.8Q1373.6,550.9 1336.3,567.7L1322.6,564.6Q1317.9,582 1282.8,597.6L1265,600L1255.4,583.1Q1245.9,547.5 1258.8,534.1L1239.3,516.3Q1235.1,484.6 1262.5,478L1241.4,462.3Q1234.3,426.4 1262.8,420.5L1236.9,403.2Q1246.7,374.6 1289,375.2L1260.5,356.3Q1278.9,332.2 1319.8,332.2L1306.8,318.4Q1349.6,308.3 1400,318Z" fill="url(#lfA)" stroke="#5b9440" stroke-width="1.2" stroke-linejoin="round"/><path d="M1397.3,323.6L1271.8,585.9M1439.1,418.7L1391,336.8L1297,350.7M1420.7,467.7L1368.5,383.8L1270.4,395.8M1388.9,510.2L1346,430.8L1257.2,447.2M1347.8,548.4L1323.5,477.8L1253.3,503.1M1299.6,583.1L1301,524.8L1256.5,562.4" fill="none" stroke="#b4dc8c" stroke-width="2.64" stroke-linecap="round" stroke-linejoin="round"/>
<path d="M1340,300Q1347.1,323.7 1339.4,347.7L1330.9,346.4Q1329.4,363.5 1311.3,375.2L1299.8,370.1Q1296.3,384.9 1275.1,391L1263.4,387.4Q1255.6,397 1228.8,400.1L1220,400L1222.4,388.6Q1229.4,365.5 1240.2,359.6L1237,350Q1248.7,327.6 1262.8,325.7L1261.7,317Q1275.6,299 1293,300.9L1294.8,293.4Q1317.9,288.8 1340,300Z" fill="url(#lfB)" stroke="#5b9440" stroke-width="1.2" stroke-linejoin="round"/><path d="M1337.6,302L1226,395M1321.5,355.8L1322,315L1281.7,308.2M1289,377.9L1292,340L1254.2,336.1M1250.9,393.2L1262,365L1232.3,370.8" fill="none" stroke="#b4dc8c" stroke-width="2.64" stroke-linecap="round" stroke-linejoin="round"/>
<path d="M1540,345Q1586,358.1 1618,385.5L1602.6,390.8Q1634.9,408.1 1632.1,433.3L1610.9,440.1Q1644,457.4 1638.9,483.3L1608.9,489.3Q1632.8,506.4 1616.8,533.7L1592.7,538.2Q1607.9,555.2 1588,580.1L1567,586.9Q1572.7,603.8 1548.6,632.4L1535,640L1521.3,628.1Q1498.5,602.5 1503.7,585.9L1488.5,582.4Q1465,552.7 1478.4,536.3L1461,530.6Q1441.8,503.2 1464.2,486.8L1444.9,478.7Q1432.2,453.8 1461.2,437.6L1440.2,431Q1443.1,404.8 1475.7,388.7L1464.7,384.6Q1493.6,356.5 1540,345Z" fill="url(#lfA)" stroke="#5b9440" stroke-width="1.2" stroke-linejoin="round"/><path d="M1539.9,350.9L1535.2,625.3M1612,416.1L1539.7,364.7L1465.6,413.6M1615.5,465.3L1538.8,413.8L1460.5,462.7M1605,514.3L1538,463L1469.3,512M1585.1,563.1L1537.2,512.2L1487.6,561.5M1557.7,611.9L1536.3,561.3L1513.3,611.1" fill="none" stroke="#b4dc8c" stroke-width="2.64" stroke-linecap="round" stroke-linejoin="round"/>
<path d="M1630,392Q1656.6,375.7 1693.2,378L1693.9,389.8Q1721.9,388.7 1745.5,414.8L1736.2,427.3Q1764.6,432.1 1772.6,462.7L1762.9,475.4Q1782.3,489.6 1779,520.4L1762.9,529.9Q1774.6,548 1760.1,576.2L1748.6,581.4Q1746.4,599.7 1723.4,625.1L1712,632L1708.4,618Q1703.3,588.5 1709.5,574.2L1699.1,568.7Q1688.9,546.1 1698.6,534.3L1681,531.5Q1671.4,518.6 1681.9,505.5L1664.2,509.8Q1655.9,498.1 1664.8,480.3L1650.7,488Q1642,471.5 1644.7,449.2L1637.4,449.5Q1627.1,422.6 1630,392Z" fill="url(#lfB)" stroke="#5b9440" stroke-width="1.2" stroke-linejoin="round"/><path d="M1635.8,395.4Q1776.6,475.9 1717.9,616.6M1719.3,405.4L1648.6,403.5L1655.8,466.1M1754.8,449.2L1686.9,435.1L1673,493.6M1768.4,502.8L1713.5,470.7L1688.6,519.5M1760.6,556.7L1728.3,510.3L1702.2,552.9M1735.3,606.3L1731.4,553.9L1709.7,598.7" fill="none" stroke="#b4dc8c" stroke-width="2.64" stroke-linecap="round" stroke-linejoin="round"/>
<path d="M400,468Q378.2,492 345,506.5L337.1,497.3Q317.8,516.3 287.8,518.8L282.6,503.8Q269.5,527 242.7,529.8L232.6,513.4Q223.3,534.9 194.1,538.3L183.4,529.7Q173.3,546.9 143.5,554.6L130.5,553Q116.9,568.7 83.6,585.4L68,592L69.1,576.1Q84.8,537.8 103.4,523.6L100.5,508.2Q123.6,477 147.4,470.7L150.3,455.4Q177.6,429.9 205.6,436.6L207,420.3Q244.3,402.4 271.7,419.4L276.9,400Q317.7,401.2 341.6,424.1L348.2,412.1Q387.8,437.4 400,468Z" fill="url(#lfB)" stroke="#5b9440" stroke-width="1.2" stroke-linejoin="round"/><path d="M391.8,466.3Q194.3,423.8 80.8,575.7M308.5,502.9L372.9,463L305.7,415M257.8,512.1L308.3,458.9L236.2,421.6M208.9,523.3L248.2,466.6L173.7,449.9M157.8,541.4L192.4,486.1L122.3,494.9M103,570.4L141,517.4L83.3,552.5" fill="none" stroke="#b4dc8c" stroke-width="2.64" stroke-linecap="round" stroke-linejoin="round"/>
<path d="M345,465Q390,491.4 411.6,535.4L399.5,537Q428.4,565.7 430.9,600.2L391,601Q425.1,630.9 409.7,666.2L381.3,664.7Q400.3,691.3 371.6,724.5L347.2,723.1Q361.2,748.6 330,779.3L310.2,780.8Q311.3,803.5 280.7,831.1L262,842L248.5,828.2Q233.4,786.3 243.3,766.1L224.8,757.6Q211.2,715.5 232.9,697.9L210.2,686.1Q199.8,647.1 235.9,632.7L205,618.4Q202.7,581.9 243.9,568.6L214.5,557.6Q227,521.4 269.8,508.4L247.7,498.8Q293,470 345,465Z" fill="url(#lfA)" stroke="#5b9440" stroke-width="1.2" stroke-linejoin="round"/><path d="M343.3,472.5L266.2,823.1M402.2,571.2L339.5,490.1L248.5,537.3M392.9,635L325.6,553L230.1,599.1M368.9,695.6L311.8,615.8L226.4,664.2M335.1,754L298,678.6L232.7,731.5M293.4,810.7L284.1,741.5L246.7,800.4" fill="none" stroke="#b4dc8c" stroke-width="2.64" stroke-linecap="round" stroke-linejoin="round"/>
<path d="M480,448Q527.7,447.7 563.5,464.4L550.2,474Q587.8,480.7 596.8,504.9L575.8,516.1Q609.4,523.8 609.2,549.6L577.7,564.4Q611.4,572.1 601.4,600.7L577.3,613.3Q600.1,623.9 585.6,655.8L571.6,663.6Q578.9,678.3 563.5,711.5L552,722L536.4,715.3Q507.1,697.2 505.5,681L486.9,680.2Q461.9,660.2 475,640.2L445,641.5Q426.6,620.7 449.4,598.1L422.1,598.9Q404.6,577.7 430.3,554.3L405.6,553.1Q402.2,529.5 429.6,505.7L411,507.1Q438.3,471.2 480,448Z" fill="url(#lfA)" stroke="#5b9440" stroke-width="1.2" stroke-linejoin="round"/><path d="M481.4,453.5L548.4,708.3M567.9,494.2L484.8,466.3L426.2,531.5M584,538.8L496.8,511.9L434.1,578.2M586.7,586.9L508.8,557.6L455.4,621.4M580.2,637.5L520.8,603.3L485.9,662.2M566.5,689.9L532.8,648.9L523.5,701.2" fill="none" stroke="#b4dc8c" stroke-width="2.64" stroke-linecap="round" stroke-linejoin="round"/>
<path d="M222,688Q233.7,720.6 232.4,759.8L221.5,759.6Q230.5,783.5 226.4,804.4L208.4,803.9Q224.7,819.9 214.8,836L196.9,839.7Q217.7,848.7 213.9,867.6L197.8,878.9Q214.7,886.7 216.8,915.8L212.1,926.8Q226.2,940.4 243.4,977.9L246,992L228.4,989.9Q190.6,973 177,954.3L164.1,953.2Q132.7,930.2 132.2,905.4L113,905.1Q95.3,869.1 111.3,843.7L87.9,837.2Q89.1,795.8 113.7,776.4L102.8,767.8Q119.2,727.4 149.1,715.4L145.6,708.1Q187.1,682.7 222,688Z" fill="url(#lfB)" stroke="#5b9440" stroke-width="1.2" stroke-linejoin="round"/><path d="M216.3,694.6Q75.9,852.5 229.8,978M214,784L203.9,709.8L127.1,744.9M205.6,822.6L171,763.4L105.6,810.6M201.2,857.6L155.7,815.6L115.2,877.2M205.6,900.6L158,866.4L151.1,933M226.4,954.7L177.8,915.8L205.8,974.9" fill="none" stroke="#b4dc8c" stroke-width="2.64" stroke-linecap="round" stroke-linejoin="round"/>
<path d="M585,432Q606.1,408.6 638.5,400.2L641.1,412.8Q666.8,400.5 692.5,411.9L690.7,429.4Q716.8,422.2 737.4,444L730.5,462.1Q755.4,460.1 769.8,485.2L761.8,502.6Q781.7,507.9 790.7,538L784.4,548.5Q795.6,561.3 798.8,594.1L795,605L782.3,601.2Q757,587.1 750.5,573.3L739.4,576.8Q714.4,566.5 713.7,548.4L694.6,558.1Q676.5,549.6 677.7,527.9L665.2,538.8Q643.2,532.2 641.8,510.3L629.5,520.4Q613.6,507.9 609.9,483.2L600.8,490Q586.9,463.1 585,432Z" fill="url(#lfB)" stroke="#5b9440" stroke-width="1.2" stroke-linejoin="round"/><path d="M590.6,433.8Q724.6,476.5 787.8,592.4M668.4,417.2L603.3,438.3L626,498.3M714.2,441.9L646.4,457.3L658.5,521.2M750.4,478.8L685.6,481L692.9,541.2M776.5,523.6L721,509.4L729.7,562.7M792.4,573.4L752.5,542.4L769,588.4" fill="none" stroke="#b4dc8c" stroke-width="2.64" stroke-linecap="round" stroke-linejoin="round"/>
<path d="M800,398Q837.9,402.1 868.3,419.4L854.1,424.9Q882.6,433.8 887.5,454.1L872.6,460.4Q895.9,470 888.9,491.2L868.8,499Q893,508.5 882.4,530.1L862.9,538Q879.2,548.6 866.1,569.9L851.3,577.7Q857.4,589.8 841.8,613.2L832,622L819.3,617.3Q798.6,598.2 799.2,585.2L782.4,582.6Q766.1,564.7 776.5,550.3L758.5,549.7Q741.7,530.1 758.8,514.7L741.4,512.7Q728.1,494 749.3,478L728.5,476.4Q730.7,455.5 755.5,439L746.3,434.5Q764.8,412.6 800,398Z" fill="url(#lfA)" stroke="#5b9440" stroke-width="1.2" stroke-linejoin="round"/><path d="M800.6,402.5L830.4,610.8M865.6,442.7L802.1,412.9L749.6,459.3M874.3,479.6L807.5,450.3L751.5,497.1M872,518L812.8,487.6L764.5,533.4M862.2,557.5L818.1,524.9L785,568.5M846.5,597.8L823.5,562.3L811.3,602.9" fill="none" stroke="#b4dc8c" stroke-width="2.64" stroke-linecap="round" stroke-linejoin="round"/>
<path d="M990,508Q1026.9,519.3 1054.3,545.5L1041.1,548.4Q1066.3,563.6 1067,589.6L1049.5,592.5Q1074,607.6 1070,633.6L1045.2,636.5Q1065.3,651.6 1052.5,674.2L1035.5,680.4Q1045.7,695.4 1029.5,717.8L1016,724.2Q1017.9,739.2 999,763.1L988,772L977.3,761.6Q958.6,738.8 961.7,723.8L949,719.8Q931.4,694.6 946.7,679.7L927.2,672.7Q912.5,650.4 932.9,635.6L915,630.6Q904.5,606.4 927.9,591.6L908.6,586.3Q912.9,562.4 941.2,547.7L925.5,541.9Q953,518.7 990,508Z" fill="url(#lfA)" stroke="#5b9440" stroke-width="1.2" stroke-linejoin="round"/><path d="M990,513.3L988.1,758.8M1048.1,570.9L989.9,525.6L930.9,570M1051.2,614.9L989.5,569.6L927.2,614M1043.2,658.9L989.2,613.6L934.6,658.1M1027.5,702.8L988.9,657.6L949.5,702.2M1006,746.6L988.5,701.6L970.4,746.3" fill="none" stroke="#b4dc8c" stroke-width="2.64" stroke-linecap="round" stroke-linejoin="round"/>
<path d="M1130,498Q1187,498.7 1230,517.3L1214.7,528.7Q1257.2,537.7 1264.1,566.3L1242.7,577.4Q1280.9,587.3 1277.6,620.1L1246.3,631.6Q1280.7,642.5 1263.7,675.2L1239.9,688.2Q1264.5,701.3 1244.2,736.7L1228.5,745.9Q1236.4,762.8 1215.3,796.5L1202,812L1182.9,805.1Q1149.6,782.7 1148.7,764.2L1131.9,763.7Q1097.5,739.6 1115.8,716.6L1085.6,720Q1057.3,693.7 1087.8,668L1049.3,669.8Q1033.1,644.2 1072,616.5L1033.6,621.3Q1032.8,589.1 1066.1,562.8L1045.7,558.9Q1079,523.5 1130,498Z" fill="url(#lfA)" stroke="#5b9440" stroke-width="1.2" stroke-linejoin="round"/><path d="M1131.4,504.3L1198.4,796.3M1232.7,552.7L1134.8,518.9L1061.4,592M1249.7,603.9L1146.8,571.3L1068.4,645.4M1250.4,658.8L1158.8,623.6L1091.7,695.2M1240.1,716.2L1170.8,675.9L1126,742.4M1221,775.7L1182.8,728.3L1169,787.6" fill="none" stroke="#b4dc8c" stroke-width="2.64" stroke-linecap="round" stroke-linejoin="round"/>
<path d="M1310,682Q1305.2,652.3 1328.6,618.1L1339,623.3Q1348.2,598 1386.7,587.1L1396.2,597.3Q1412,580.2 1449.8,585.5L1458.3,594.1Q1477.5,591.5 1509.3,607.3L1522,618L1507.9,624.1Q1477.6,637.5 1461.3,635.4L1453.2,649.4Q1431.4,661.7 1414.9,656.2L1414.1,671.4Q1391.1,682.3 1371.6,677.4L1368.9,687.6Q1337.7,691.8 1310,682Z" fill="#578f3e" stroke="#5b9440" stroke-width="1.2" stroke-linejoin="round"/><path d="M1313.6,678.7Q1400.6,599.1 1509.9,616.4M1355.5,608.2L1337.9,659.4L1386.8,670.6M1416.5,590.8L1387.4,632L1430.2,650.3M1479.4,598.1L1440.8,617.2L1479.2,630.9" fill="none" stroke="#b4dc8c" stroke-width="2.64" stroke-linecap="round" stroke-linejoin="round"/>
<path d="M945,740Q975.6,752.2 995.9,778L983.4,781.2Q999.6,795.1 995.5,815.9L977.9,822.3Q990.5,835.9 974.4,857.8L961.1,862.7Q964.9,875.8 944.7,897.1L935,905L927.1,897.4Q908.8,872.4 914.7,859.9L901,854.2Q888.2,829.7 901.9,817.7L887.1,811.9Q884.2,788.1 906.1,776.6L896.4,770Q913.2,748.4 945,740Z" fill="url(#lfB)" stroke="#5b9440" stroke-width="1.2" stroke-linejoin="round"/><path d="M944.8,743.3L935.5,896.8M984.4,795.4L943.5,764.8L899.2,790.2M976.6,836.3L941,806L902,831.8M956.8,876.5L938.5,847.2L916.8,874.1" fill="none" stroke="#b4dc8c" stroke-width="2.64" stroke-linecap="round" stroke-linejoin="round"/>
<path d="M850,648Q896.7,668.2 929,699.9L905,699.2Q940.8,721.2 936.2,747L913.8,745.3Q943,766.1 933.4,786.9L895.7,786.2Q923.7,806.8 904,828.3L877.3,827.1Q890,844.7 866.7,864.4L845.7,865.4Q845.4,880.5 817,897.7L800,905L786.2,892.6Q767.1,865.3 772.8,851.2L753,841.9Q739.2,815.4 759.3,804.2L735.9,794Q722.1,767.6 755.8,759L719.8,748.3Q719.5,722.6 760.6,715.5L724.6,702.7Q738.4,681.9 777.5,674.4L757.1,667.5Q799.2,649.2 850,648Z" fill="url(#lfA)" stroke="#5b9440" stroke-width="1.2" stroke-linejoin="round"/><path d="M849,653.1L802.5,892.1M915.4,723.9L846.7,665.1L760.9,693.8M911.6,767.6L838.3,708L748,735.7M893.1,808.4L830,750.8L749.9,780.6M864.6,847.3L821.7,793.6L761.7,827.3M828.3,884.7L813.3,836.5L781.4,875.6" fill="none" stroke="#b4dc8c" stroke-width="2.64" stroke-linecap="round" stroke-linejoin="round"/>
<path d="M865,850Q895.9,869.3 915.2,899L902.3,901.4Q921.3,921.9 921.3,946.1L899,947Q917.7,967.4 910.2,988.9L882.4,989.2Q899.3,1009.2 881.9,1029.4L863,1030.7Q871,1048.5 852.4,1067.6L836.6,1070.5Q835.1,1086 812.8,1106L800,1112L791.8,1101Q781.1,1072.5 789.5,1058.9L775.4,1048.7Q767,1022.7 784.4,1011.3L766.5,1002.1Q760.3,974.7 785.6,965.2L762.5,956.6Q763.5,929.1 793.5,920.8L773.5,910.1Q781.6,887.3 812,879L797.4,870.9Q828.7,852.6 865,850Z" fill="url(#lfB)" stroke="#5b9440" stroke-width="1.2" stroke-linejoin="round"/><path d="M863.7,855.2L803.3,1098.9M902.9,925.2L860.7,867.5L796.3,898.8M895.2,969.7L849.8,911.1L782.4,941.7M877.4,1011.6L839,954.8L778.5,987.1M852.6,1051.8L828.2,998.5L781.6,1034.2M822.5,1090.7L817.3,1042.1L790.1,1082.7" fill="none" stroke="#b4dc8c" stroke-width="2.64" stroke-linecap="round" stroke-linejoin="round"/>
<path d="M715,792Q704.5,814.3 679.4,829L675.4,821.5Q660.7,839.2 635.8,839.3L631.1,830.9Q616.4,845.3 590.5,839.3L586.5,829.7Q571.7,841.7 547,835.5L541.8,824.8Q526.9,831.6 499.9,821.8L497,814.7Q481.9,816.6 455.8,806.9L448,800L458.9,792.6Q480.8,781.4 496.1,784L500.5,775.2Q524.9,763.8 540.2,771.9L546.8,756.5Q569,751 584.5,761.4L587,750.6Q613.4,744.7 628.9,757.9L635.1,746.7Q658,748.1 673.7,764.9L680.4,755.4Q703.2,770.4 715,792Z" fill="url(#lfA)" stroke="#5b9440" stroke-width="1.2" stroke-linejoin="round"/><path d="M709.7,792.2L461.4,799.6M652.9,828.7L697.2,792.5L650.8,759.1M608.4,832L652.7,793.9L606.2,758.4M563.8,828.8L608.2,795.2L561.8,764.3M519,821L563.7,796.5L517.6,774.7M474.1,809.8L519.2,797.9L473.5,788.7" fill="none" stroke="#b4dc8c" stroke-width="2.64" stroke-linecap="round" stroke-linejoin="round"/>
<path d="M635,848Q620.5,872.5 597.3,889.1L591.6,881.5Q582.8,896.8 564.7,896.8L555.6,890.2Q550,903.3 528.1,904.9L516.8,901Q508.6,911.5 482.3,920.5L468,925L467.8,914.9Q475.9,879.1 490,869.5L487.6,857Q509.3,830 529.3,830.4L532.7,818.9Q563,804.3 583.3,814.8L590.9,809Q623.2,821.4 635,848Z" fill="url(#lfB)" stroke="#5b9440" stroke-width="1.2" stroke-linejoin="round"/><path d="M630.8,847.6Q528.4,836.4 474.2,916.4M579.1,884.9L604.1,846.8L563.9,816.8M543.6,893.9L557.1,854.8L513.4,840.8M503,907.8L515.9,875.3L479.5,884.9" fill="none" stroke="#b4dc8c" stroke-width="2.64" stroke-linecap="round" stroke-linejoin="round"/>
<ellipse cx="1090" cy="915" rx="135" ry="120" fill="url(#tg_yellow)"/><path d="M1052,787q16,14 38,12q22,2 40,-16M1076,775q6,18 14,24q10,-10 14,-26M1090,767v32" fill="none" stroke="#5e8a3c" stroke-width="7" stroke-linecap="round"/>
<ellipse cx="1515" cy="1000" rx="125" ry="112" fill="url(#tg_yellow)"/>
<ellipse cx="554" cy="1052" rx="134" ry="118" fill="url(#tg_yellow)"/><path d="M516,926q16,14 38,12q22,2 40,-16M540,914q6,18 14,24q10,-10 14,-26M554,906v32" fill="none" stroke="#5e8a3c" stroke-width="7" stroke-linecap="round"/>
<path d="M1455,700Q1497.8,716.2 1520.7,744.6L1511,751.7Q1541.1,771.7 1538.2,798.6L1517.3,804.4Q1546.7,824.4 1533.5,851.7L1508.7,856.1Q1533,875.7 1511.8,904.6L1489.7,907Q1506.4,926 1485.2,950.7L1465.3,957.5Q1470,975.6 1445.7,1005.1L1432,1012L1419.5,1002.8Q1399.7,970.4 1405.3,953L1389.8,946.8Q1371,916 1386.2,899.4L1368.7,890.4Q1352.1,862.3 1376.4,846.3L1354.8,837.8Q1346,809.6 1376.2,794.1L1351.6,786.5Q1359.3,758.3 1389.6,742.8L1380,738.9Q1410.3,709.8 1455,700Z" fill="url(#lfA)" stroke="#5b9440" stroke-width="1.2" stroke-linejoin="round"/><path d="M1454.5,706.2L1433.2,996.4M1518.9,779L1453.5,720.8L1380.2,768.7M1519.2,831.3L1449.6,772.8L1372.3,820.4M1506.2,882.6L1445.8,824.8L1377.6,873.1M1484.3,933.2L1442,876.8L1391.9,926.4M1455.3,983.4L1438.1,928.8L1413.2,980.3" fill="none" stroke="#b4dc8c" stroke-width="2.64" stroke-linecap="round" stroke-linejoin="round"/>
<path d="M1470,705Q1487.2,680.4 1522,669.8L1526.1,677.6Q1550.2,666.6 1579.7,676.8L1579,694.2Q1605.5,687.5 1629.7,708.2L1620.2,728.4Q1645.5,730 1655.7,760.6L1647.6,773Q1665.3,783.9 1665.8,818.8L1658.4,824.7Q1665.7,841.3 1658.8,872.6L1652,885L1642.6,876.9Q1624.3,851.9 1622,836.7L1611.8,836.6Q1592,821 1594.8,805.6L1581.7,809.5Q1563.2,802.7 1567.6,784.2L1552.1,795.1Q1538.5,789.2 1538.8,768.3L1527.8,781.1Q1513.1,770.4 1506.7,747.6L1500.2,753.4Q1479.4,733 1470,705Z" fill="url(#lfB)" stroke="#5b9440" stroke-width="1.2" stroke-linejoin="round"/><path d="M1476.5,705.7Q1633,722.2 1649.7,869.1M1554.8,682.2L1491.1,707.9L1523.4,760.4M1604.2,706.4L1538.2,721L1551.9,778.7M1639.4,747.4L1577.4,742.1L1578.7,796.4M1657.5,797.7L1608.5,771.2L1606.5,821M1659.5,852.1L1631.6,808.5L1634.5,857.6" fill="none" stroke="#b4dc8c" stroke-width="2.64" stroke-linecap="round" stroke-linejoin="round"/></g>
<g id="cp_purple" transform="scale(0.15557) translate(-982,-1545)"><path d="M420,700Q448.5,727.8 458.9,751L449,749.3Q468.3,773.5 459.4,785.6L440.2,775.2Q460.3,800 448.7,808.8L422.6,795.1Q438,816.6 419,821.9L397.8,809.9Q406.2,826.6 383.4,828.7L368.8,821.9Q367.2,831.7 341.7,833.3L330,830L322,819.1Q315.3,795.8 324.5,791.3L313.1,780.9Q306.3,757.5 320.7,756.6L307,743.8Q304.5,724.2 329.6,730.7L312,716.4Q312.2,697.5 340.7,706.3L325.4,691.2Q334.2,680.7 363.6,690.1L353.3,678Q384,683.1 420,700Z" fill="#578f3e" stroke="#5b9440" stroke-width="1.2" stroke-linejoin="round"/>
<path d="M900,640Q925.6,651.7 938.7,665.8L930.6,667Q949.6,679 948.9,691.3L934.7,689.3Q950.4,700.4 943.2,709.4L927.8,708.8Q939.3,718.9 929.8,728.2L914,726.6Q920.3,735.4 904.3,742.8L895,743.1Q895.4,750.4 879,757.2L870,760L862.4,753.5Q852.1,739.6 857.4,733.7L846.1,727.5Q837.2,714.6 850.5,710.7L837,704.3Q828.2,691.1 847.1,688.6L826,680.2Q827.1,669.6 849.9,668.1L834.7,662.9Q837.9,651 857.7,648.8L848.5,644.6Q871.9,638.3 900,640Z" fill="#578f3e" stroke="#5b9440" stroke-width="1.2" stroke-linejoin="round"/>
<path d="M1500,780Q1528.4,774 1554.8,781.2L1549.1,788.5Q1571.1,789.6 1582.7,803.8L1572.6,814.7Q1593.1,816.6 1596.3,838L1585.7,846.6Q1604.3,849.7 1605.2,871.2L1595.7,880.3Q1608.3,886.7 1606.7,909.3L1599.9,917.2Q1607,926.7 1604.2,950.4L1600,960L1589.7,959.4Q1568,948.3 1565.4,936.4L1555.4,939.5Q1533.4,928.3 1538.2,912.3L1523.9,916.6Q1504.1,905.3 1511.8,887.7L1493.8,894.7Q1481.9,878.4 1493.5,858.6L1476.4,864.2Q1470.5,845.4 1484.6,824.3L1472.9,825.7Q1479.9,801 1500,780Z" fill="#578f3e" stroke="#5b9440" stroke-width="1.2" stroke-linejoin="round"/>
<ellipse cx="620" cy="518" rx="70" ry="88" fill="url(#tg_dpurple)"/>
<ellipse cx="1200" cy="462" rx="56" ry="48" fill="url(#tg_purple)"/>
<ellipse cx="1440" cy="590" rx="90" ry="100" fill="url(#tg_dpurple)"/>
<ellipse cx="642" cy="690" rx="74" ry="82" fill="url(#tg_dpurple)"/>
<ellipse cx="392" cy="1020" rx="92" ry="112" fill="url(#tg_purple)"/>
<ellipse cx="565" cy="945" rx="105" ry="85" fill="url(#tg_dpurple)"/>
<ellipse cx="858" cy="990" rx="105" ry="90" fill="url(#tg_dpurple)"/>
<ellipse cx="1238" cy="938" rx="95" ry="107" fill="url(#tg_purple)"/>
<path d="M951,1545L959,1000Q948,760 933,520Q923,430 916,372L955,372Q976,520 987,700Q1002,880 1010,1000L1015,1545Z" fill="#8aaa50" stroke="#6f9340" stroke-width="3"/>
<path d="M958,1255Q890,1180 842,1085" fill="none" stroke="#6f9340" stroke-width="24" stroke-linecap="round"/><path d="M958,1255Q890,1180 842,1085" fill="none" stroke="#8aaa50" stroke-width="20" stroke-linecap="round"/>
<path d="M935,380Q900,330 912,270Q925,225 958,200" fill="none" stroke="#6f9340" stroke-width="24" stroke-linecap="round"/><path d="M935,380Q900,330 912,270Q925,225 958,200" fill="none" stroke="#8aaa50" stroke-width="20" stroke-linecap="round"/>
<path d="M945,385Q1010,330 1062,292" fill="none" stroke="#6f9340" stroke-width="22" stroke-linecap="round"/><path d="M945,385Q1010,330 1062,292" fill="none" stroke="#8aaa50" stroke-width="18" stroke-linecap="round"/>
<path d="M925,360Q830,345 770,352Q720,320 700,290" fill="none" stroke="#6f9340" stroke-width="20" stroke-linecap="round"/><path d="M925,360Q830,345 770,352Q720,320 700,290" fill="none" stroke="#8aaa50" stroke-width="16" stroke-linecap="round"/>
<path d="M770,352Q700,370 640,410" fill="none" stroke="#6f9340" stroke-width="16" stroke-linecap="round"/><path d="M770,352Q700,370 640,410" fill="none" stroke="#8aaa50" stroke-width="12" stroke-linecap="round"/>
<path d="M1000,545Q1080,510 1110,470Q1150,380 1200,340Q1260,310 1320,300" fill="none" stroke="#6f9340" stroke-width="20" stroke-linecap="round"/><path d="M1000,545Q1080,510 1110,470Q1150,380 1200,340Q1260,310 1320,300" fill="none" stroke="#8aaa50" stroke-width="16" stroke-linecap="round"/>
<path d="M1200,340Q1220,230 1262,185" fill="none" stroke="#6f9340" stroke-width="16" stroke-linecap="round"/><path d="M1200,340Q1220,230 1262,185" fill="none" stroke="#8aaa50" stroke-width="12" stroke-linecap="round"/>
<path d="M770,660Q680,560 580,520" fill="none" stroke="#6f9340" stroke-width="20" stroke-linecap="round"/><path d="M770,660Q680,560 580,520" fill="none" stroke="#8aaa50" stroke-width="16" stroke-linecap="round"/>
<path d="M950,820Q1040,770 1110,740" fill="none" stroke="#6f9340" stroke-width="18" stroke-linecap="round"/><path d="M950,820Q1040,770 1110,740" fill="none" stroke="#8aaa50" stroke-width="14" stroke-linecap="round"/>
<path d="M1285,680Q1360,690 1410,720" fill="none" stroke="#6f9340" stroke-width="16" stroke-linecap="round"/><path d="M1285,680Q1360,690 1410,720" fill="none" stroke="#8aaa50" stroke-width="12" stroke-linecap="round"/>
<path d="M740,905Q690,860 640,840" fill="none" stroke="#6f9340" stroke-width="14" stroke-linecap="round"/><path d="M740,905Q690,860 640,840" fill="none" stroke="#8aaa50" stroke-width="10" stroke-linecap="round"/>
<ellipse cx="772" cy="512" rx="125" ry="104" fill="url(#tg_purple)"/>
<ellipse cx="522" cy="748" rx="130" ry="118" fill="url(#tg_purple)"/>
<ellipse cx="1330" cy="660" rx="122" ry="110" fill="url(#tg_purple)"/>
<ellipse cx="1390" cy="890" rx="112" ry="110" fill="url(#tg_purple)"/>
<path d="M935,200Q891.7,204.6 860.5,195.2L872.4,184.5Q846,181.3 844.7,161.7L863.9,149.1Q843.3,144 852.6,119.4L871.9,108.4Q862,99.8 877.9,75.4L890,62L907.2,65.8Q934.9,76 931.6,88.9L953.5,85.4Q976.1,100.7 960.9,117.5L986.9,114.6Q995.9,132.4 971.3,152.3L992.2,151.1Q972.7,178.2 935,200Z" fill="url(#lfA)" stroke="#5b9440" stroke-width="1.2" stroke-linejoin="round"/><path d="M934.1,197.2L892.3,68.9M865.3,173.9L928.2,179.3L975.9,137.8M861,137.1L917,144.8L957.7,105.6M872.1,95.3L905.8,110.3L924.1,78.4" fill="none" stroke="#b4dc8c" stroke-width="2.64" stroke-linecap="round" stroke-linejoin="round"/>
<path d="M960,195Q959.4,170.4 971.5,145.5L978.3,156.3Q982.1,134.4 997.1,124.5L1006.9,135.1Q1012.3,117 1032.5,114.8L1040,124.9Q1046.2,109 1067,108.9L1075.4,120.6Q1082.7,107.3 1103.9,109.9L1110.9,116.4Q1121.1,110.4 1144.4,113L1152,118L1148.4,127.5Q1134.9,144.8 1122.9,146.4L1121.7,158Q1109.3,173.6 1095,169.3L1096.6,183.4Q1081.8,197.6 1066.7,191.6L1066.9,203.9Q1051.7,215.3 1034.8,204.6L1033.5,216Q1017.9,223.5 1000.3,211.2L1000.1,220.4Q976.6,213.2 960,195Z" fill="url(#lfA)" stroke="#5b9440" stroke-width="1.2" stroke-linejoin="round"/><path d="M963.8,193.5L1142.4,121.9M991.8,142.8L972.8,189.9L1019.1,210.8M1023,128L1004.8,177L1051.9,199.9M1056.8,119.6L1036.8,164.2L1082.1,182.6M1092.4,115.6L1068.8,151.4L1110.5,160.9M1129.3,115.1L1100.8,138.5L1137.6,135.8" fill="none" stroke="#b4dc8c" stroke-width="2.64" stroke-linecap="round" stroke-linejoin="round"/>
<path d="M880,200Q884.9,223.8 876.8,244.3L867.7,240.4Q866.4,258.1 849.1,266.4L838.1,257.1Q835.1,272.1 816.7,274.7L804.6,267.5Q797.4,275.8 775.7,274.7L765,272L767.1,263.6Q775.7,241.2 785.7,237.3L784,228Q795.5,208.9 809.2,210.9L807.9,200.7Q821.8,186.9 838.1,193.1L837.2,182.6Q860.7,185.2 880,200Z" fill="url(#lfB)" stroke="#5b9440" stroke-width="1.2" stroke-linejoin="round"/><path d="M877.7,201.4L770.8,268.4M859.7,249.3L862.7,210.8L826.7,196.8M828.9,264.1L834,228.8L800,218M793.4,271.4L805.2,246.8L778,246.7" fill="none" stroke="#b4dc8c" stroke-width="2.64" stroke-linecap="round" stroke-linejoin="round"/>
<path d="M1262,185Q1244.3,196.4 1227.2,195.3L1227.1,188.3Q1212.8,192.8 1204.5,181.1L1206.3,171.3Q1194.4,172.8 1187,156.6L1190.2,148.4Q1182.6,144.6 1178.7,127L1178,118L1186.6,116.6Q1204.9,116.6 1209.6,124.1L1218,118.3Q1235.1,121.8 1237.1,132.6L1247.5,126.9Q1258.7,135.3 1256.8,151L1264.4,148.5Q1269.2,165.3 1262,185Z" fill="url(#lfB)" stroke="#5b9440" stroke-width="1.2" stroke-linejoin="round"/><path d="M1260.3,183.7L1182.2,121.4M1218.2,184.8L1249.4,174.9L1252,142.3M1199.3,165.4L1228.4,158.2L1228.9,128.2M1185.2,140L1207.4,141.4L1201.1,120.1" fill="none" stroke="#b4dc8c" stroke-width="2.64" stroke-linecap="round" stroke-linejoin="round"/>
<path d="M1255,180Q1268.2,154.1 1291,137.4L1292.8,147.2Q1307.7,130.5 1328.9,129.9L1328.7,145Q1343.2,130.5 1359.7,138.4L1362.8,153.4Q1376.7,142.5 1394.9,153.1L1395.1,172.1Q1408.8,162.5 1425.5,178.5L1427.7,189.3Q1439.8,188.7 1456.7,206L1462,215L1452.9,222.6Q1432.4,232.6 1421,228.9L1414.1,240.5Q1394.5,247 1384.6,233.9L1375.9,251.8Q1357.6,255.5 1348.8,236L1340.4,254.8Q1322,255.8 1313.2,236.6L1308.4,247.3Q1288.5,244 1279.8,224L1274.2,228.4Q1259,208.8 1255,180Z" fill="url(#lfA)" stroke="#5b9440" stroke-width="1.2" stroke-linejoin="round"/><path d="M1259.1,180.7L1451.7,213.2M1311.3,145L1268.8,182.3L1296.7,231.6M1346.2,148.3L1303.3,188.2L1330.7,240M1379.8,159.8L1337.8,194L1366.2,240.1M1412.4,176.9L1372.3,199.8L1402.6,234.6M1444.2,198.5L1406.8,205.7L1439.8,224.8" fill="none" stroke="#b4dc8c" stroke-width="2.64" stroke-linecap="round" stroke-linejoin="round"/>
<path d="M1275,200Q1287,179.7 1311.2,167.8L1311.6,177.6Q1328.3,165.6 1346.5,173.6L1347.6,183.4Q1365.2,175.7 1382,188.2L1377.4,203.3Q1394.8,199.6 1405.8,219.7L1401.8,228.7Q1415.2,232 1421.3,253.8L1416.9,261.3Q1425.7,269.1 1427.4,291.4L1425,300L1416.6,299.2Q1397.3,290.1 1393.3,280.6L1382.9,284.1Q1367.2,279.9 1367.2,267.1L1357.3,275.2Q1341.5,273 1341.1,259.4L1333.4,266Q1319.8,265.5 1318.4,249.8L1311.9,259.8Q1300.1,252.3 1296.5,233.4L1291.3,242Q1279.4,222.9 1275,200Z" fill="url(#lfB)" stroke="#5b9440" stroke-width="1.2" stroke-linejoin="round"/><path d="M1278.9,200.6Q1374,214 1419.8,291.6M1330.8,177.9L1288,202.2L1307.6,243.5M1364.6,190.6L1318.6,210.5L1329.5,255.4M1391.9,213.8L1346.5,222.7L1352.6,264.9M1411.6,243.8L1371.8,239L1378,275.6M1423.3,278L1394.4,259.3L1406.1,290.1" fill="none" stroke="#b4dc8c" stroke-width="2.64" stroke-linecap="round" stroke-linejoin="round"/>
<path d="M745,275Q731.7,292 711.8,297.2L707.9,291.1Q694.8,299.6 678.8,293.2L675.7,281.1Q663.4,286.8 648.9,275L645.7,263.4Q634.7,263.8 620.2,247.4L615,240L621.2,236.8Q644,229.3 653.4,234.4L658.7,227.1Q680.3,223.8 688.4,234.1L696.4,227.3Q713.9,228.5 721.1,241.9L728.3,238.7Q742,253.6 745,275Z" fill="url(#lfB)" stroke="#5b9440" stroke-width="1.2" stroke-linejoin="round"/><path d="M742.4,274.3L621.5,241.8M696.3,290L725.5,269.7L710.5,237.6M664.7,278L693,261L677.1,232.1M635.1,258.6L660.5,252.2L641.7,234" fill="none" stroke="#b4dc8c" stroke-width="2.64" stroke-linecap="round" stroke-linejoin="round"/>
<path d="M705,292Q693.9,321.5 670.6,344.8L662.6,332.2Q649.6,357.2 623.7,360.7L616.9,347.1Q606,371.4 577.7,370.4L571.3,357.5Q560.5,376.7 533.6,375.1L523.3,362.4Q512,377.9 485.1,377.6L472.7,367Q459.3,377.8 429.2,376.7L415,375L417.9,363.1Q438.8,336.2 456.1,330.7L455.9,318.8Q479,294.9 500,298.8L500.2,280.2Q525.4,262.6 547.5,272.3L547.2,258.7Q577.2,242.2 599.9,259.5L603.7,243.8Q633,238.4 653.8,255.1L660.4,248Q690.3,263.9 705,292Z" fill="url(#lfA)" stroke="#5b9440" stroke-width="1.2" stroke-linejoin="round"/><path d="M698.8,292.3Q550,298.7 428.6,367.5M639.7,344.3L684.4,293.2L625.8,253.8M594.4,355.9L633.8,298.9L572.1,261.6M547.9,362.6L584.2,308.5L521.8,281.9M499.1,367.8L535.8,321.9L475.9,311.5M447.6,373.3L488.4,339.3L435,348.5" fill="none" stroke="#b4dc8c" stroke-width="2.64" stroke-linecap="round" stroke-linejoin="round"/>
<path d="M1185,225Q1220.7,251.2 1237.3,284.6L1220.6,283.7Q1246.8,310.7 1235.4,335.2L1216.8,331.6Q1238.8,356.9 1217.1,377.5L1196.9,373.1Q1213.2,396.2 1186.2,413.5L1166.3,410.6Q1175.7,431 1148,448.3L1132.1,446.6Q1129.5,462.3 1100.7,476.6L1085,482L1076,467.6Q1065.5,437.4 1076.2,424.8L1061.6,411.7Q1052.6,383.1 1073.1,374.3L1051.2,361.2Q1048.5,332.2 1078.3,327L1058.2,315Q1056.2,285.8 1090.5,282.4L1066.1,268Q1081.5,246.4 1113.4,242L1107,232.2Q1141,220.2 1185,225Z" fill="url(#lfA)" stroke="#5b9440" stroke-width="1.2" stroke-linejoin="round"/><path d="M1183,230.1L1090,469.2M1224.5,310.4L1178.3,242.1L1098.2,261.3M1211.5,354.7L1161.7,285L1077.8,302.7M1186.5,394.3L1145,327.8L1069.5,348.7M1153.4,430.7L1128.3,370.6L1069.3,398M1113.8,464.6L1111.7,413.5L1075.5,449.7" fill="none" stroke="#b4dc8c" stroke-width="2.64" stroke-linecap="round" stroke-linejoin="round"/>
<path d="M1400,318Q1439.2,351.2 1456.5,391.7L1440.2,389.8Q1464.9,421.3 1460.1,449.1L1431.7,443.5Q1452.1,472.9 1427.1,493.6L1402.1,487.1Q1419.5,515.1 1390.3,531.9L1368.4,528.8Q1373.6,550.9 1336.3,567.7L1322.6,564.6Q1317.9,582 1282.8,597.6L1265,600L1255.4,583.1Q1245.9,547.5 1258.8,534.1L1239.3,516.3Q1235.1,484.6 1262.5,478L1241.4,462.3Q1234.3,426.4 1262.8,420.5L1236.9,403.2Q1246.7,374.6 1289,375.2L1260.5,356.3Q1278.9,332.2 1319.8,332.2L1306.8,318.4Q1349.6,308.3 1400,318Z" fill="url(#lfA)" stroke="#5b9440" stroke-width="1.2" stroke-linejoin="round"/><path d="M1397.3,323.6L1271.8,585.9M1439.1,418.7L1391,336.8L1297,350.7M1420.7,467.7L1368.5,383.8L1270.4,395.8M1388.9,510.2L1346,430.8L1257.2,447.2M1347.8,548.4L1323.5,477.8L1253.3,503.1M1299.6,583.1L1301,524.8L1256.5,562.4" fill="none" stroke="#b4dc8c" stroke-width="2.64" stroke-linecap="round" stroke-linejoin="round"/>
<path d="M1340,300Q1347.1,323.7 1339.4,347.7L1330.9,346.4Q1329.4,363.5 1311.3,375.2L1299.8,370.1Q1296.3,384.9 1275.1,391L1263.4,387.4Q1255.6,397 1228.8,400.1L1220,400L1222.4,388.6Q1229.4,365.5 1240.2,359.6L1237,350Q1248.7,327.6 1262.8,325.7L1261.7,317Q1275.6,299 1293,300.9L1294.8,293.4Q1317.9,288.8 1340,300Z" fill="url(#lfB)" stroke="#5b9440" stroke-width="1.2" stroke-linejoin="round"/><path d="M1337.6,302L1226,395M1321.5,355.8L1322,315L1281.7,308.2M1289,377.9L1292,340L1254.2,336.1M1250.9,393.2L1262,365L1232.3,370.8" fill="none" stroke="#b4dc8c" stroke-width="2.64" stroke-linecap="round" stroke-linejoin="round"/>
<path d="M1540,345Q1586,358.1 1618,385.5L1602.6,390.8Q1634.9,408.1 1632.1,433.3L1610.9,440.1Q1644,457.4 1638.9,483.3L1608.9,489.3Q1632.8,506.4 1616.8,533.7L1592.7,538.2Q1607.9,555.2 1588,580.1L1567,586.9Q1572.7,603.8 1548.6,632.4L1535,640L1521.3,628.1Q1498.5,602.5 1503.7,585.9L1488.5,582.4Q1465,552.7 1478.4,536.3L1461,530.6Q1441.8,503.2 1464.2,486.8L1444.9,478.7Q1432.2,453.8 1461.2,437.6L1440.2,431Q1443.1,404.8 1475.7,388.7L1464.7,384.6Q1493.6,356.5 1540,345Z" fill="url(#lfA)" stroke="#5b9440" stroke-width="1.2" stroke-linejoin="round"/><path d="M1539.9,350.9L1535.2,625.3M1612,416.1L1539.7,364.7L1465.6,413.6M1615.5,465.3L1538.8,413.8L1460.5,462.7M1605,514.3L1538,463L1469.3,512M1585.1,563.1L1537.2,512.2L1487.6,561.5M1557.7,611.9L1536.3,561.3L1513.3,611.1" fill="none" stroke="#b4dc8c" stroke-width="2.64" stroke-linecap="round" stroke-linejoin="round"/>
<path d="M1630,392Q1656.6,375.7 1693.2,378L1693.9,389.8Q1721.9,388.7 1745.5,414.8L1736.2,427.3Q1764.6,432.1 1772.6,462.7L1762.9,475.4Q1782.3,489.6 1779,520.4L1762.9,529.9Q1774.6,548 1760.1,576.2L1748.6,581.4Q1746.4,599.7 1723.4,625.1L1712,632L1708.4,618Q1703.3,588.5 1709.5,574.2L1699.1,568.7Q1688.9,546.1 1698.6,534.3L1681,531.5Q1671.4,518.6 1681.9,505.5L1664.2,509.8Q1655.9,498.1 1664.8,480.3L1650.7,488Q1642,471.5 1644.7,449.2L1637.4,449.5Q1627.1,422.6 1630,392Z" fill="url(#lfB)" stroke="#5b9440" stroke-width="1.2" stroke-linejoin="round"/><path d="M1635.8,395.4Q1776.6,475.9 1717.9,616.6M1719.3,405.4L1648.6,403.5L1655.8,466.1M1754.8,449.2L1686.9,435.1L1673,493.6M1768.4,502.8L1713.5,470.7L1688.6,519.5M1760.6,556.7L1728.3,510.3L1702.2,552.9M1735.3,606.3L1731.4,553.9L1709.7,598.7" fill="none" stroke="#b4dc8c" stroke-width="2.64" stroke-linecap="round" stroke-linejoin="round"/>
<path d="M400,468Q378.2,492 345,506.5L337.1,497.3Q317.8,516.3 287.8,518.8L282.6,503.8Q269.5,527 242.7,529.8L232.6,513.4Q223.3,534.9 194.1,538.3L183.4,529.7Q173.3,546.9 143.5,554.6L130.5,553Q116.9,568.7 83.6,585.4L68,592L69.1,576.1Q84.8,537.8 103.4,523.6L100.5,508.2Q123.6,477 147.4,470.7L150.3,455.4Q177.6,429.9 205.6,436.6L207,420.3Q244.3,402.4 271.7,419.4L276.9,400Q317.7,401.2 341.6,424.1L348.2,412.1Q387.8,437.4 400,468Z" fill="url(#lfB)" stroke="#5b9440" stroke-width="1.2" stroke-linejoin="round"/><path d="M391.8,466.3Q194.3,423.8 80.8,575.7M308.5,502.9L372.9,463L305.7,415M257.8,512.1L308.3,458.9L236.2,421.6M208.9,523.3L248.2,466.6L173.7,449.9M157.8,541.4L192.4,486.1L122.3,494.9M103,570.4L141,517.4L83.3,552.5" fill="none" stroke="#b4dc8c" stroke-width="2.64" stroke-linecap="round" stroke-linejoin="round"/>
<path d="M345,465Q390,491.4 411.6,535.4L399.5,537Q428.4,565.7 430.9,600.2L391,601Q425.1,630.9 409.7,666.2L381.3,664.7Q400.3,691.3 371.6,724.5L347.2,723.1Q361.2,748.6 330,779.3L310.2,780.8Q311.3,803.5 280.7,831.1L262,842L248.5,828.2Q233.4,786.3 243.3,766.1L224.8,757.6Q211.2,715.5 232.9,697.9L210.2,686.1Q199.8,647.1 235.9,632.7L205,618.4Q202.7,581.9 243.9,568.6L214.5,557.6Q227,521.4 269.8,508.4L247.7,498.8Q293,470 345,465Z" fill="url(#lfA)" stroke="#5b9440" stroke-width="1.2" stroke-linejoin="round"/><path d="M343.3,472.5L266.2,823.1M402.2,571.2L339.5,490.1L248.5,537.3M392.9,635L325.6,553L230.1,599.1M368.9,695.6L311.8,615.8L226.4,664.2M335.1,754L298,678.6L232.7,731.5M293.4,810.7L284.1,741.5L246.7,800.4" fill="none" stroke="#b4dc8c" stroke-width="2.64" stroke-linecap="round" stroke-linejoin="round"/>
<path d="M480,448Q527.7,447.7 563.5,464.4L550.2,474Q587.8,480.7 596.8,504.9L575.8,516.1Q609.4,523.8 609.2,549.6L577.7,564.4Q611.4,572.1 601.4,600.7L577.3,613.3Q600.1,623.9 585.6,655.8L571.6,663.6Q578.9,678.3 563.5,711.5L552,722L536.4,715.3Q507.1,697.2 505.5,681L486.9,680.2Q461.9,660.2 475,640.2L445,641.5Q426.6,620.7 449.4,598.1L422.1,598.9Q404.6,577.7 430.3,554.3L405.6,553.1Q402.2,529.5 429.6,505.7L411,507.1Q438.3,471.2 480,448Z" fill="url(#lfA)" stroke="#5b9440" stroke-width="1.2" stroke-linejoin="round"/><path d="M481.4,453.5L548.4,708.3M567.9,494.2L484.8,466.3L426.2,531.5M584,538.8L496.8,511.9L434.1,578.2M586.7,586.9L508.8,557.6L455.4,621.4M580.2,637.5L520.8,603.3L485.9,662.2M566.5,689.9L532.8,648.9L523.5,701.2" fill="none" stroke="#b4dc8c" stroke-width="2.64" stroke-linecap="round" stroke-linejoin="round"/>
<path d="M222,688Q233.7,720.6 232.4,759.8L221.5,759.6Q230.5,783.5 226.4,804.4L208.4,803.9Q224.7,819.9 214.8,836L196.9,839.7Q217.7,848.7 213.9,867.6L197.8,878.9Q214.7,886.7 216.8,915.8L212.1,926.8Q226.2,940.4 243.4,977.9L246,992L228.4,989.9Q190.6,973 177,954.3L164.1,953.2Q132.7,930.2 132.2,905.4L113,905.1Q95.3,869.1 111.3,843.7L87.9,837.2Q89.1,795.8 113.7,776.4L102.8,767.8Q119.2,727.4 149.1,715.4L145.6,708.1Q187.1,682.7 222,688Z" fill="url(#lfB)" stroke="#5b9440" stroke-width="1.2" stroke-linejoin="round"/><path d="M216.3,694.6Q75.9,852.5 229.8,978M214,784L203.9,709.8L127.1,744.9M205.6,822.6L171,763.4L105.6,810.6M201.2,857.6L155.7,815.6L115.2,877.2M205.6,900.6L158,866.4L151.1,933M226.4,954.7L177.8,915.8L205.8,974.9" fill="none" stroke="#b4dc8c" stroke-width="2.64" stroke-linecap="round" stroke-linejoin="round"/>
<path d="M585,432Q606.1,408.6 638.5,400.2L641.1,412.8Q666.8,400.5 692.5,411.9L690.7,429.4Q716.8,422.2 737.4,444L730.5,462.1Q755.4,460.1 769.8,485.2L761.8,502.6Q781.7,507.9 790.7,538L784.4,548.5Q795.6,561.3 798.8,594.1L795,605L782.3,601.2Q757,587.1 750.5,573.3L739.4,576.8Q714.4,566.5 713.7,548.4L694.6,558.1Q676.5,549.6 677.7,527.9L665.2,538.8Q643.2,532.2 641.8,510.3L629.5,520.4Q613.6,507.9 609.9,483.2L600.8,490Q586.9,463.1 585,432Z" fill="url(#lfB)" stroke="#5b9440" stroke-width="1.2" stroke-linejoin="round"/><path d="M590.6,433.8Q724.6,476.5 787.8,592.4M668.4,417.2L603.3,438.3L626,498.3M714.2,441.9L646.4,457.3L658.5,521.2M750.4,478.8L685.6,481L692.9,541.2M776.5,523.6L721,509.4L729.7,562.7M792.4,573.4L752.5,542.4L769,588.4" fill="none" stroke="#b4dc8c" stroke-width="2.64" stroke-linecap="round" stroke-linejoin="round"/>
<path d="M800,398Q837.9,402.1 868.3,419.4L854.1,424.9Q882.6,433.8 887.5,454.1L872.6,460.4Q895.9,470 888.9,491.2L868.8,499Q893,508.5 882.4,530.1L862.9,538Q879.2,548.6 866.1,569.9L851.3,577.7Q857.4,589.8 841.8,613.2L832,622L819.3,617.3Q798.6,598.2 799.2,585.2L782.4,582.6Q766.1,564.7 776.5,550.3L758.5,549.7Q741.7,530.1 758.8,514.7L741.4,512.7Q728.1,494 749.3,478L728.5,476.4Q730.7,455.5 755.5,439L746.3,434.5Q764.8,412.6 800,398Z" fill="url(#lfA)" stroke="#5b9440" stroke-width="1.2" stroke-linejoin="round"/><path d="M800.6,402.5L830.4,610.8M865.6,442.7L802.1,412.9L749.6,459.3M874.3,479.6L807.5,450.3L751.5,497.1M872,518L812.8,487.6L764.5,533.4M862.2,557.5L818.1,524.9L785,568.5M846.5,597.8L823.5,562.3L811.3,602.9" fill="none" stroke="#b4dc8c" stroke-width="2.64" stroke-linecap="round" stroke-linejoin="round"/>
<path d="M990,508Q1026.9,519.3 1054.3,545.5L1041.1,548.4Q1066.3,563.6 1067,589.6L1049.5,592.5Q1074,607.6 1070,633.6L1045.2,636.5Q1065.3,651.6 1052.5,674.2L1035.5,680.4Q1045.7,695.4 1029.5,717.8L1016,724.2Q1017.9,739.2 999,763.1L988,772L977.3,761.6Q958.6,738.8 961.7,723.8L949,719.8Q931.4,694.6 946.7,679.7L927.2,672.7Q912.5,650.4 932.9,635.6L915,630.6Q904.5,606.4 927.9,591.6L908.6,586.3Q912.9,562.4 941.2,547.7L925.5,541.9Q953,518.7 990,508Z" fill="url(#lfA)" stroke="#5b9440" stroke-width="1.2" stroke-linejoin="round"/><path d="M990,513.3L988.1,758.8M1048.1,570.9L989.9,525.6L930.9,570M1051.2,614.9L989.5,569.6L927.2,614M1043.2,658.9L989.2,613.6L934.6,658.1M1027.5,702.8L988.9,657.6L949.5,702.2M1006,746.6L988.5,701.6L970.4,746.3" fill="none" stroke="#b4dc8c" stroke-width="2.64" stroke-linecap="round" stroke-linejoin="round"/>
<path d="M1130,498Q1187,498.7 1230,517.3L1214.7,528.7Q1257.2,537.7 1264.1,566.3L1242.7,577.4Q1280.9,587.3 1277.6,620.1L1246.3,631.6Q1280.7,642.5 1263.7,675.2L1239.9,688.2Q1264.5,701.3 1244.2,736.7L1228.5,745.9Q1236.4,762.8 1215.3,796.5L1202,812L1182.9,805.1Q1149.6,782.7 1148.7,764.2L1131.9,763.7Q1097.5,739.6 1115.8,716.6L1085.6,720Q1057.3,693.7 1087.8,668L1049.3,669.8Q1033.1,644.2 1072,616.5L1033.6,621.3Q1032.8,589.1 1066.1,562.8L1045.7,558.9Q1079,523.5 1130,498Z" fill="url(#lfA)" stroke="#5b9440" stroke-width="1.2" stroke-linejoin="round"/><path d="M1131.4,504.3L1198.4,796.3M1232.7,552.7L1134.8,518.9L1061.4,592M1249.7,603.9L1146.8,571.3L1068.4,645.4M1250.4,658.8L1158.8,623.6L1091.7,695.2M1240.1,716.2L1170.8,675.9L1126,742.4M1221,775.7L1182.8,728.3L1169,787.6" fill="none" stroke="#b4dc8c" stroke-width="2.64" stroke-linecap="round" stroke-linejoin="round"/>
<path d="M1310,682Q1305.2,652.3 1328.6,618.1L1339,623.3Q1348.2,598 1386.7,587.1L1396.2,597.3Q1412,580.2 1449.8,585.5L1458.3,594.1Q1477.5,591.5 1509.3,607.3L1522,618L1507.9,624.1Q1477.6,637.5 1461.3,635.4L1453.2,649.4Q1431.4,661.7 1414.9,656.2L1414.1,671.4Q1391.1,682.3 1371.6,677.4L1368.9,687.6Q1337.7,691.8 1310,682Z" fill="#578f3e" stroke="#5b9440" stroke-width="1.2" stroke-linejoin="round"/><path d="M1313.6,678.7Q1400.6,599.1 1509.9,616.4M1355.5,608.2L1337.9,659.4L1386.8,670.6M1416.5,590.8L1387.4,632L1430.2,650.3M1479.4,598.1L1440.8,617.2L1479.2,630.9" fill="none" stroke="#b4dc8c" stroke-width="2.64" stroke-linecap="round" stroke-linejoin="round"/>
<path d="M945,740Q975.6,752.2 995.9,778L983.4,781.2Q999.6,795.1 995.5,815.9L977.9,822.3Q990.5,835.9 974.4,857.8L961.1,862.7Q964.9,875.8 944.7,897.1L935,905L927.1,897.4Q908.8,872.4 914.7,859.9L901,854.2Q888.2,829.7 901.9,817.7L887.1,811.9Q884.2,788.1 906.1,776.6L896.4,770Q913.2,748.4 945,740Z" fill="url(#lfB)" stroke="#5b9440" stroke-width="1.2" stroke-linejoin="round"/><path d="M944.8,743.3L935.5,896.8M984.4,795.4L943.5,764.8L899.2,790.2M976.6,836.3L941,806L902,831.8M956.8,876.5L938.5,847.2L916.8,874.1" fill="none" stroke="#b4dc8c" stroke-width="2.64" stroke-linecap="round" stroke-linejoin="round"/>
<path d="M850,648Q896.7,668.2 929,699.9L905,699.2Q940.8,721.2 936.2,747L913.8,745.3Q943,766.1 933.4,786.9L895.7,786.2Q923.7,806.8 904,828.3L877.3,827.1Q890,844.7 866.7,864.4L845.7,865.4Q845.4,880.5 817,897.7L800,905L786.2,892.6Q767.1,865.3 772.8,851.2L753,841.9Q739.2,815.4 759.3,804.2L735.9,794Q722.1,767.6 755.8,759L719.8,748.3Q719.5,722.6 760.6,715.5L724.6,702.7Q738.4,681.9 777.5,674.4L757.1,667.5Q799.2,649.2 850,648Z" fill="url(#lfA)" stroke="#5b9440" stroke-width="1.2" stroke-linejoin="round"/><path d="M849,653.1L802.5,892.1M915.4,723.9L846.7,665.1L760.9,693.8M911.6,767.6L838.3,708L748,735.7M893.1,808.4L830,750.8L749.9,780.6M864.6,847.3L821.7,793.6L761.7,827.3M828.3,884.7L813.3,836.5L781.4,875.6" fill="none" stroke="#b4dc8c" stroke-width="2.64" stroke-linecap="round" stroke-linejoin="round"/>
<path d="M865,850Q895.9,869.3 915.2,899L902.3,901.4Q921.3,921.9 921.3,946.1L899,947Q917.7,967.4 910.2,988.9L882.4,989.2Q899.3,1009.2 881.9,1029.4L863,1030.7Q871,1048.5 852.4,1067.6L836.6,1070.5Q835.1,1086 812.8,1106L800,1112L791.8,1101Q781.1,1072.5 789.5,1058.9L775.4,1048.7Q767,1022.7 784.4,1011.3L766.5,1002.1Q760.3,974.7 785.6,965.2L762.5,956.6Q763.5,929.1 793.5,920.8L773.5,910.1Q781.6,887.3 812,879L797.4,870.9Q828.7,852.6 865,850Z" fill="url(#lfB)" stroke="#5b9440" stroke-width="1.2" stroke-linejoin="round"/><path d="M863.7,855.2L803.3,1098.9M902.9,925.2L860.7,867.5L796.3,898.8M895.2,969.7L849.8,911.1L782.4,941.7M877.4,1011.6L839,954.8L778.5,987.1M852.6,1051.8L828.2,998.5L781.6,1034.2M822.5,1090.7L817.3,1042.1L790.1,1082.7" fill="none" stroke="#b4dc8c" stroke-width="2.64" stroke-linecap="round" stroke-linejoin="round"/>
<path d="M715,792Q704.5,814.3 679.4,829L675.4,821.5Q660.7,839.2 635.8,839.3L631.1,830.9Q616.4,845.3 590.5,839.3L586.5,829.7Q571.7,841.7 547,835.5L541.8,824.8Q526.9,831.6 499.9,821.8L497,814.7Q481.9,816.6 455.8,806.9L448,800L458.9,792.6Q480.8,781.4 496.1,784L500.5,775.2Q524.9,763.8 540.2,771.9L546.8,756.5Q569,751 584.5,761.4L587,750.6Q613.4,744.7 628.9,757.9L635.1,746.7Q658,748.1 673.7,764.9L680.4,755.4Q703.2,770.4 715,792Z" fill="url(#lfA)" stroke="#5b9440" stroke-width="1.2" stroke-linejoin="round"/><path d="M709.7,792.2L461.4,799.6M652.9,828.7L697.2,792.5L650.8,759.1M608.4,832L652.7,793.9L606.2,758.4M563.8,828.8L608.2,795.2L561.8,764.3M519,821L563.7,796.5L517.6,774.7M474.1,809.8L519.2,797.9L473.5,788.7" fill="none" stroke="#b4dc8c" stroke-width="2.64" stroke-linecap="round" stroke-linejoin="round"/>
<path d="M635,848Q620.5,872.5 597.3,889.1L591.6,881.5Q582.8,896.8 564.7,896.8L555.6,890.2Q550,903.3 528.1,904.9L516.8,901Q508.6,911.5 482.3,920.5L468,925L467.8,914.9Q475.9,879.1 490,869.5L487.6,857Q509.3,830 529.3,830.4L532.7,818.9Q563,804.3 583.3,814.8L590.9,809Q623.2,821.4 635,848Z" fill="url(#lfB)" stroke="#5b9440" stroke-width="1.2" stroke-linejoin="round"/><path d="M630.8,847.6Q528.4,836.4 474.2,916.4M579.1,884.9L604.1,846.8L563.9,816.8M543.6,893.9L557.1,854.8L513.4,840.8M503,907.8L515.9,875.3L479.5,884.9" fill="none" stroke="#b4dc8c" stroke-width="2.64" stroke-linecap="round" stroke-linejoin="round"/>
<ellipse cx="1090" cy="915" rx="135" ry="120" fill="url(#tg_purple)"/><path d="M1052,787q16,14 38,12q22,2 40,-16M1076,775q6,18 14,24q10,-10 14,-26M1090,767v32" fill="none" stroke="#5e8a3c" stroke-width="7" stroke-linecap="round"/>
<ellipse cx="1515" cy="1000" rx="125" ry="112" fill="url(#tg_purple)"/>
<ellipse cx="554" cy="1052" rx="134" ry="118" fill="url(#tg_purple)"/><path d="M516,926q16,14 38,12q22,2 40,-16M540,914q6,18 14,24q10,-10 14,-26M554,906v32" fill="none" stroke="#5e8a3c" stroke-width="7" stroke-linecap="round"/>
<path d="M1455,700Q1497.8,716.2 1520.7,744.6L1511,751.7Q1541.1,771.7 1538.2,798.6L1517.3,804.4Q1546.7,824.4 1533.5,851.7L1508.7,856.1Q1533,875.7 1511.8,904.6L1489.7,907Q1506.4,926 1485.2,950.7L1465.3,957.5Q1470,975.6 1445.7,1005.1L1432,1012L1419.5,1002.8Q1399.7,970.4 1405.3,953L1389.8,946.8Q1371,916 1386.2,899.4L1368.7,890.4Q1352.1,862.3 1376.4,846.3L1354.8,837.8Q1346,809.6 1376.2,794.1L1351.6,786.5Q1359.3,758.3 1389.6,742.8L1380,738.9Q1410.3,709.8 1455,700Z" fill="url(#lfA)" stroke="#5b9440" stroke-width="1.2" stroke-linejoin="round"/><path d="M1454.5,706.2L1433.2,996.4M1518.9,779L1453.5,720.8L1380.2,768.7M1519.2,831.3L1449.6,772.8L1372.3,820.4M1506.2,882.6L1445.8,824.8L1377.6,873.1M1484.3,933.2L1442,876.8L1391.9,926.4M1455.3,983.4L1438.1,928.8L1413.2,980.3" fill="none" stroke="#b4dc8c" stroke-width="2.64" stroke-linecap="round" stroke-linejoin="round"/>
<path d="M1470,705Q1487.2,680.4 1522,669.8L1526.1,677.6Q1550.2,666.6 1579.7,676.8L1579,694.2Q1605.5,687.5 1629.7,708.2L1620.2,728.4Q1645.5,730 1655.7,760.6L1647.6,773Q1665.3,783.9 1665.8,818.8L1658.4,824.7Q1665.7,841.3 1658.8,872.6L1652,885L1642.6,876.9Q1624.3,851.9 1622,836.7L1611.8,836.6Q1592,821 1594.8,805.6L1581.7,809.5Q1563.2,802.7 1567.6,784.2L1552.1,795.1Q1538.5,789.2 1538.8,768.3L1527.8,781.1Q1513.1,770.4 1506.7,747.6L1500.2,753.4Q1479.4,733 1470,705Z" fill="url(#lfB)" stroke="#5b9440" stroke-width="1.2" stroke-linejoin="round"/><path d="M1476.5,705.7Q1633,722.2 1649.7,869.1M1554.8,682.2L1491.1,707.9L1523.4,760.4M1604.2,706.4L1538.2,721L1551.9,778.7M1639.4,747.4L1577.4,742.1L1578.7,796.4M1657.5,797.7L1608.5,771.2L1606.5,821M1659.5,852.1L1631.6,808.5L1634.5,857.6" fill="none" stroke="#b4dc8c" stroke-width="2.64" stroke-linecap="round" stroke-linejoin="round"/></g>
<g id="wp" transform="scale(0.14934) translate(-737,-1525)"><path d="M760,820Q720,690 640,590Q580,510 505,455" fill="none" stroke="#2f5516" stroke-width="17" stroke-linecap="round"/><path d="M760,820Q720,690 640,590Q580,510 505,455" fill="none" stroke="#4f7a2c" stroke-width="9" stroke-linecap="round"/>
<path d="M596.8,523.5C551.6,530 507.4,488 493.2,436.5C546.3,441.6 595.4,477.8 596.8,523.5Z" fill="#4f7a2c" stroke="#2f5516" stroke-width="5" stroke-linejoin="round"/><path d="M591.6,519.1L503.6,445.2" stroke="#2f5516" stroke-width="3.0" opacity="0.55" fill="none"/>
<path d="M572.9,527C578.2,483.1 622.4,467.2 667.1,483C650.6,527.5 609.9,551.1 572.9,527Z" fill="#4f7a2c" stroke="#2f5516" stroke-width="5" stroke-linejoin="round"/><path d="M577.6,524.8L657.7,487.4" stroke="#2f5516" stroke-width="3.0" opacity="0.55" fill="none"/>
<path d="M627.3,607.3C589,624.5 548.3,596.6 532.7,552.7C578.6,544.2 623.1,565.5 627.3,607.3Z" fill="#4f7a2c" stroke="#2f5516" stroke-width="5" stroke-linejoin="round"/><path d="M622.6,604.6L542.2,558.2" stroke="#2f5516" stroke-width="3.0" opacity="0.55" fill="none"/>
<path d="M672.5,688.3C634.7,703.5 600.5,674.9 591.5,631.7C635.2,625.3 673.8,647.7 672.5,688.3Z" fill="#4f7a2c" stroke="#2f5516" stroke-width="5" stroke-linejoin="round"/><path d="M668.4,685.5L599.6,637.3" stroke="#2f5516" stroke-width="3.0" opacity="0.55" fill="none"/>
<path d="M681.9,608.1C672.7,569.1 705.2,542 748.1,541.9C748,584.8 720.9,617.3 681.9,608.1Z" fill="#4f7a2c" stroke="#2f5516" stroke-width="5" stroke-linejoin="round"/><path d="M685.2,604.8L741.5,548.5" stroke="#2f5516" stroke-width="3.0" opacity="0.55" fill="none"/>
<path d="M740.5,685.3C713.9,653.6 732.6,623.6 773.5,614.7C792.9,651.7 781.9,685.3 740.5,685.3Z" fill="#4f7a2c" stroke="#2f5516" stroke-width="5" stroke-linejoin="round"/><path d="M742.2,681.8L770.2,621.7" stroke="#2f5516" stroke-width="3.0" opacity="0.55" fill="none"/>
<path d="M1146.2,885.1C1139.7,828.2 1191.6,791.8 1253.8,794.9C1246,856.6 1201.1,901.4 1146.2,885.1Z" fill="#4f7a2c" stroke="#2f5516" stroke-width="5" stroke-linejoin="round"/><path d="M1151.6,880.6L1243,803.9" stroke="#2f5516" stroke-width="3.0" opacity="0.55" fill="none"/>
<path d="M1105.2,917.7C1131.7,884.5 1190.3,882.9 1234.8,906.3C1195,937.1 1137.1,945.7 1105.2,917.7Z" fill="#4f7a2c" stroke="#2f5516" stroke-width="5" stroke-linejoin="round"/><path d="M1111.7,917.1L1221.8,907.5" stroke="#2f5516" stroke-width="3.0" opacity="0.55" fill="none"/>
<path d="M911.6,895.8C905.3,855.5 942.6,816.5 988.4,804.2C984.3,851.5 952.4,894.9 911.6,895.8Z" fill="#4f7a2c" stroke="#2f5516" stroke-width="5" stroke-linejoin="round"/><path d="M915.4,891.2L980.8,813.4" stroke="#2f5516" stroke-width="3.0" opacity="0.55" fill="none"/>
<path d="M928.1,906.6C963.1,895.9 991.4,924.1 995.9,963.4C956.4,965.8 923.7,942.9 928.1,906.6Z" fill="#4f7a2c" stroke="#2f5516" stroke-width="5" stroke-linejoin="round"/><path d="M931.5,909.4L989.1,957.7" stroke="#2f5516" stroke-width="3.0" opacity="0.55" fill="none"/>
<path d="M1012.7,867.7C1066.3,865.1 1086.2,910.4 1067.3,962.3C1012.9,952.7 983.6,912.9 1012.7,867.7Z" fill="#4f7a2c" stroke="#2f5516" stroke-width="5" stroke-linejoin="round"/><path d="M1015.4,872.4L1061.8,952.8" stroke="#2f5516" stroke-width="3.0" opacity="0.55" fill="none"/>
<circle cx="470" cy="690" r="30" fill="#da4528" stroke="#b5301a" stroke-width="2.5"/><circle cx="461" cy="681" r="10.5" fill="#e8664a" opacity="0.7"/>
<circle cx="455" cy="750" r="38" fill="#da4528" stroke="#b5301a" stroke-width="2.5"/><circle cx="443.6" cy="738.6" r="13.3" fill="#e8664a" opacity="0.7"/>
<circle cx="525" cy="775" r="32" fill="#da4528" stroke="#b5301a" stroke-width="2.5"/><circle cx="515.4" cy="765.4" r="11.2" fill="#e8664a" opacity="0.7"/>
<circle cx="470" cy="825" r="35" fill="#da4528" stroke="#b5301a" stroke-width="2.5"/><circle cx="459.5" cy="814.5" r="12.2" fill="#e8664a" opacity="0.7"/>
<circle cx="530" cy="855" r="32" fill="#da4528" stroke="#b5301a" stroke-width="2.5"/><circle cx="520.4" cy="845.4" r="11.2" fill="#e8664a" opacity="0.7"/>
<circle cx="485" cy="895" r="30" fill="#da4528" stroke="#b5301a" stroke-width="2.5"/><circle cx="476" cy="886" r="10.5" fill="#e8664a" opacity="0.7"/>
<circle cx="510" cy="940" r="28" fill="#da4528" stroke="#b5301a" stroke-width="2.5"/><circle cx="501.6" cy="931.6" r="9.8" fill="#e8664a" opacity="0.7"/>
<path d="M485,670Q470,800 510,945" fill="none" stroke="#4f7d2a" stroke-width="7" stroke-linecap="round"/>
<polygon points="502,688.5 487.6,686.7 483.8,700.7 481,686.5 466.6,687.2 479.2,680.2 474.1,666.7 484.7,676.5 495.9,667.4 489.8,680.6" fill="#4f7d2a"/>
<path d="M478.2,690L488.3,676" stroke="#4f7d2a" stroke-width="5" stroke-linecap="round"/>
<polygon points="497.2,752.1 479,749.9 474.2,767.5 470.7,749.6 452.4,750.5 468.4,741.6 461.8,724.5 475.3,736.9 489.5,725.4 481.8,742" fill="#4f7d2a"/>
<path d="M470,750L488.3,736" stroke="#4f7d2a" stroke-width="5" stroke-linecap="round"/>
<polygon points="526.7,777.2 511.3,775.3 507.3,790.2 504.4,775.1 488.9,775.8 502.4,768.3 496.9,753.9 508.2,764.4 520.2,754.7 513.7,768.7" fill="#4f7d2a"/>
<path d="M508.5,775L488.3,761" stroke="#4f7d2a" stroke-width="5" stroke-linecap="round"/>
<polygon points="507.3,823.2 490.5,821.2 486.1,837.5 482.9,820.9 466,821.8 480.8,813.6 474.8,797.8 487.1,809.3 500.3,798.7 493.2,814" fill="#4f7d2a"/>
<path d="M478.2,825L488.3,811" stroke="#4f7d2a" stroke-width="5" stroke-linecap="round"/>
<polygon points="531.5,857.7 516.2,855.8 512.2,870.7 509.2,855.6 493.8,856.4 507.3,848.9 501.8,834.4 513.1,844.9 525.1,835.3 518.6,849.3" fill="#4f7d2a"/>
<path d="M511.2,855L488.3,841" stroke="#4f7d2a" stroke-width="5" stroke-linecap="round"/>
<polygon points="507.7,885.7 493.3,884 489.6,897.9 486.8,883.7 472.3,884.5 485,877.4 479.8,863.9 490.4,873.8 501.7,864.7 495.6,877.8" fill="#4f7d2a"/>
<path d="M486.5,895L488.3,881" stroke="#4f7d2a" stroke-width="5" stroke-linecap="round"/>
<polygon points="512.3,939.5 498.9,937.9 495.4,950.9 492.8,937.7 479.3,938.3 491.1,931.8 486.3,919.2 496.2,928.3 506.7,919.9 501,932.1" fill="#4f7d2a"/>
<path d="M500.2,940L488.3,926" stroke="#4f7d2a" stroke-width="5" stroke-linecap="round"/>
<circle cx="600" cy="1140" r="36" fill="#da4528" stroke="#b5301a" stroke-width="2.5"/><circle cx="589.2" cy="1129.2" r="12.6" fill="#e8664a" opacity="0.7"/>
<circle cx="505" cy="1180" r="38" fill="#da4528" stroke="#b5301a" stroke-width="2.5"/><circle cx="493.6" cy="1168.6" r="13.3" fill="#e8664a" opacity="0.7"/>
<circle cx="580" cy="1225" r="35" fill="#da4528" stroke="#b5301a" stroke-width="2.5"/><circle cx="569.5" cy="1214.5" r="12.2" fill="#e8664a" opacity="0.7"/>
<circle cx="500" cy="1280" r="38" fill="#da4528" stroke="#b5301a" stroke-width="2.5"/><circle cx="488.6" cy="1268.6" r="13.3" fill="#e8664a" opacity="0.7"/>
<circle cx="565" cy="1300" r="32" fill="#da4528" stroke="#b5301a" stroke-width="2.5"/><circle cx="555.4" cy="1290.4" r="11.2" fill="#e8664a" opacity="0.7"/>
<circle cx="505" cy="1370" r="32" fill="#da4528" stroke="#b5301a" stroke-width="2.5"/><circle cx="495.4" cy="1360.4" r="11.2" fill="#e8664a" opacity="0.7"/>
<circle cx="570" cy="1395" r="30" fill="#da4528" stroke="#b5301a" stroke-width="2.5"/><circle cx="561" cy="1386" r="10.5" fill="#e8664a" opacity="0.7"/>
<circle cx="510" cy="1440" r="28" fill="#da4528" stroke="#b5301a" stroke-width="2.5"/><circle cx="501.6" cy="1431.6" r="9.8" fill="#e8664a" opacity="0.7"/>
<circle cx="562" cy="1470" r="27" fill="#da4528" stroke="#b5301a" stroke-width="2.5"/><circle cx="553.9" cy="1461.9" r="9.4" fill="#e8664a" opacity="0.7"/>
<path d="M585,1120Q530,1280 552,1480" fill="none" stroke="#4f7d2a" stroke-width="7" stroke-linecap="round"/>
<polygon points="601.7,1143.3 584.4,1141.2 579.9,1157.9 576.6,1140.9 559.2,1141.8 574.4,1133.4 568.2,1117.1 580.9,1129 594.4,1118.1 587.1,1133.8" fill="#4f7d2a"/>
<path d="M580,1140L555.7,1126" stroke="#4f7d2a" stroke-width="5" stroke-linecap="round"/>
<polygon points="547.6,1184 529.5,1181.8 524.7,1199.5 521.2,1181.5 502.9,1182.4 518.9,1173.5 512.3,1156.4 525.8,1168.9 540,1157.4 532.3,1174" fill="#4f7d2a"/>
<path d="M527.8,1180L555.7,1166" stroke="#4f7d2a" stroke-width="5" stroke-linecap="round"/>
<polygon points="582.6,1225.1 565.8,1223.1 561.4,1239.4 558.2,1222.8 541.3,1223.7 556.1,1215.5 550.1,1199.7 562.4,1211.2 575.6,1200.6 568.5,1215.9" fill="#4f7d2a"/>
<path d="M569,1225L555.7,1211" stroke="#4f7d2a" stroke-width="5" stroke-linecap="round"/>
<polygon points="542.7,1284.4 524.5,1282.2 519.7,1299.9 516.2,1281.9 497.9,1282.8 513.9,1273.9 507.4,1256.8 520.8,1269.2 535.1,1257.7 527.4,1274.4" fill="#4f7d2a"/>
<path d="M525,1280L555.7,1266" stroke="#4f7d2a" stroke-width="5" stroke-linecap="round"/>
<polygon points="571.6,1293.9 556.3,1292.1 552.3,1307 549.3,1291.8 533.9,1292.6 547.4,1285.1 541.9,1270.7 553.2,1281.2 565.2,1271.5 558.7,1285.5" fill="#4f7d2a"/>
<path d="M560.8,1300L555.7,1286" stroke="#4f7d2a" stroke-width="5" stroke-linecap="round"/>
<polygon points="540.9,1373.4 525.6,1371.5 521.6,1386.4 518.6,1371.3 503.2,1372.1 516.7,1364.6 511.2,1350.1 522.5,1360.6 534.5,1351 528,1365" fill="#4f7d2a"/>
<path d="M527.8,1370L555.7,1356" stroke="#4f7d2a" stroke-width="5" stroke-linecap="round"/>
<polygon points="573.9,1391.9 559.6,1390.2 555.8,1404.1 553,1390 538.6,1390.7 551.2,1383.7 546.1,1370.1 556.7,1380 567.9,1370.9 561.8,1384" fill="#4f7d2a"/>
<path d="M563.5,1395L555.7,1381" stroke="#4f7d2a" stroke-width="5" stroke-linecap="round"/>
<polygon points="541.4,1442.6 528,1441 524.4,1454.1 521.8,1440.8 508.4,1441.5 520.1,1434.9 515.3,1422.3 525.2,1431.5 535.7,1423 530,1435.3" fill="#4f7d2a"/>
<path d="M530.5,1440L555.7,1426" stroke="#4f7d2a" stroke-width="5" stroke-linecap="round"/>
<polygon points="569.8,1463.2 556.9,1461.6 553.5,1474.2 551,1461.4 538,1462.1 549.3,1455.7 544.7,1443.6 554.2,1452.4 564.4,1444.3 558.9,1456.1" fill="#4f7d2a"/>
<path d="M559.1,1470L555.7,1456" stroke="#4f7d2a" stroke-width="5" stroke-linecap="round"/>
<circle cx="905" cy="985" r="38" fill="#da4528" stroke="#b5301a" stroke-width="2.5"/><circle cx="893.6" cy="973.6" r="13.3" fill="#e8664a" opacity="0.7"/>
<circle cx="865" cy="1035" r="32" fill="#da4528" stroke="#b5301a" stroke-width="2.5"/><circle cx="855.4" cy="1025.4" r="11.2" fill="#e8664a" opacity="0.7"/>
<circle cx="912" cy="1060" r="32" fill="#da4528" stroke="#b5301a" stroke-width="2.5"/><circle cx="902.4" cy="1050.4" r="11.2" fill="#e8664a" opacity="0.7"/>
<circle cx="860" cy="1100" r="32" fill="#da4528" stroke="#b5301a" stroke-width="2.5"/><circle cx="850.4" cy="1090.4" r="11.2" fill="#e8664a" opacity="0.7"/>
<circle cx="905" cy="1125" r="30" fill="#da4528" stroke="#b5301a" stroke-width="2.5"/><circle cx="896" cy="1116" r="10.5" fill="#e8664a" opacity="0.7"/>
<circle cx="855" cy="1180" r="27" fill="#da4528" stroke="#b5301a" stroke-width="2.5"/><circle cx="846.9" cy="1171.9" r="9.4" fill="#e8664a" opacity="0.7"/>
<circle cx="900" cy="1240" r="25" fill="#da4528" stroke="#b5301a" stroke-width="2.5"/><circle cx="892.5" cy="1232.5" r="8.8" fill="#e8664a" opacity="0.7"/>
<circle cx="880" cy="1310" r="22" fill="#da4528" stroke="#b5301a" stroke-width="2.5"/><circle cx="873.4" cy="1303.4" r="7.7" fill="#e8664a" opacity="0.7"/>
<path d="M870,930Q860,1100 890,1310" fill="none" stroke="#4f7d2a" stroke-width="7" stroke-linecap="round"/>
<polygon points="907.2,986.8 889,984.6 884.2,1002.3 880.7,984.3 862.4,985.2 878.4,976.3 871.9,959.2 885.3,971.6 899.6,960.1 891.9,976.8" fill="#4f7d2a"/>
<path d="M890.8,985L873.3,971" stroke="#4f7d2a" stroke-width="5" stroke-linecap="round"/>
<polygon points="894.9,1028.3 879.6,1026.4 875.6,1041.3 872.6,1026.2 857.2,1026.9 870.7,1019.4 865.2,1005 876.5,1015.5 888.5,1005.8 882,1019.8" fill="#4f7d2a"/>
<path d="M868.8,1035L873.3,1021" stroke="#4f7d2a" stroke-width="5" stroke-linecap="round"/>
<polygon points="913.6,1062.4 898.3,1060.5 894.3,1075.4 891.3,1060.3 875.9,1061.1 889.4,1053.6 883.9,1039.1 895.2,1049.6 907.2,1040 900.7,1054" fill="#4f7d2a"/>
<path d="M894.6,1060L873.3,1046" stroke="#4f7d2a" stroke-width="5" stroke-linecap="round"/>
<polygon points="892.7,1096.2 877.4,1094.4 873.4,1109.3 870.4,1094.1 855,1094.9 868.5,1087.4 863,1073 874.3,1083.5 886.3,1073.8 879.8,1087.8" fill="#4f7d2a"/>
<path d="M866,1100L873.3,1086" stroke="#4f7d2a" stroke-width="5" stroke-linecap="round"/>
<polygon points="906.7,1126.4 892.4,1124.7 888.6,1138.6 885.8,1124.4 871.4,1125.2 884,1118.1 878.9,1104.6 889.5,1114.5 900.7,1105.4 894.6,1118.5" fill="#4f7d2a"/>
<path d="M890.8,1125L873.3,1111" stroke="#4f7d2a" stroke-width="5" stroke-linecap="round"/>
<polygon points="883.8,1178.6 870.8,1177.1 867.5,1189.6 864.9,1176.8 851.9,1177.5 863.3,1171.2 858.7,1159 868.2,1167.9 878.3,1159.7 872.9,1171.5" fill="#4f7d2a"/>
<path d="M863.2,1180L873.3,1166" stroke="#4f7d2a" stroke-width="5" stroke-linecap="round"/>
<polygon points="901.7,1240.5 889.7,1239 886.6,1250.7 884.3,1238.8 872.2,1239.4 882.8,1233.6 878.5,1222.3 887.3,1230.5 896.7,1223 891.6,1233.9" fill="#4f7d2a"/>
<path d="M888,1240L873.3,1226" stroke="#4f7d2a" stroke-width="5" stroke-linecap="round"/>
<polygon points="886.1,1304.6 875.6,1303.3 872.8,1313.6 870.8,1303.2 860.2,1303.7 869.4,1298.5 865.7,1288.6 873.4,1295.8 881.7,1289.2 877.2,1298.8" fill="#4f7d2a"/>
<path d="M877,1310L873.3,1296" stroke="#4f7d2a" stroke-width="5" stroke-linecap="round"/>
<circle cx="985" cy="735" r="38" fill="#da4528" stroke="#b5301a" stroke-width="2.5"/><circle cx="973.6" cy="723.6" r="13.3" fill="#e8664a" opacity="0.7"/>
<circle cx="1060" cy="715" r="38" fill="#da4528" stroke="#b5301a" stroke-width="2.5"/><circle cx="1048.6" cy="703.6" r="13.3" fill="#e8664a" opacity="0.7"/>
<circle cx="1125" cy="760" r="38" fill="#da4528" stroke="#b5301a" stroke-width="2.5"/><circle cx="1113.6" cy="748.6" r="13.3" fill="#e8664a" opacity="0.7"/>
<circle cx="1040" cy="795" r="42" fill="#da4528" stroke="#b5301a" stroke-width="2.5"/><circle cx="1027.4" cy="782.4" r="14.7" fill="#e8664a" opacity="0.7"/>
<circle cx="1145" cy="855" r="38" fill="#da4528" stroke="#b5301a" stroke-width="2.5"/><circle cx="1133.6" cy="843.6" r="13.3" fill="#e8664a" opacity="0.7"/>
<circle cx="1060" cy="880" r="38" fill="#da4528" stroke="#b5301a" stroke-width="2.5"/><circle cx="1048.6" cy="868.6" r="13.3" fill="#e8664a" opacity="0.7"/>
<circle cx="1140" cy="955" r="38" fill="#da4528" stroke="#b5301a" stroke-width="2.5"/><circle cx="1128.6" cy="943.6" r="13.3" fill="#e8664a" opacity="0.7"/>
<circle cx="1050" cy="975" r="35" fill="#da4528" stroke="#b5301a" stroke-width="2.5"/><circle cx="1039.5" cy="964.5" r="12.2" fill="#e8664a" opacity="0.7"/>
<circle cx="1135" cy="1035" r="32" fill="#da4528" stroke="#b5301a" stroke-width="2.5"/><circle cx="1125.4" cy="1025.4" r="11.2" fill="#e8664a" opacity="0.7"/>
<circle cx="1070" cy="1075" r="27" fill="#da4528" stroke="#b5301a" stroke-width="2.5"/><circle cx="1061.9" cy="1066.9" r="9.4" fill="#e8664a" opacity="0.7"/>
<circle cx="1130" cy="1125" r="27" fill="#da4528" stroke="#b5301a" stroke-width="2.5"/><circle cx="1121.9" cy="1116.9" r="9.4" fill="#e8664a" opacity="0.7"/>
<path d="M1040,700Q1110,850 1100,1000Q1100,1080 1130,1130" fill="none" stroke="#4f7d2a" stroke-width="7" stroke-linecap="round"/>
<polygon points="1028,741.2 1009.8,739 1005,756.7 1001.5,738.7 983.2,739.6 999.2,730.7 992.6,713.6 1006.1,726.1 1020.3,714.6 1012.6,731.2" fill="#4f7d2a"/>
<path d="M1035,735L1096,721" stroke="#4f7d2a" stroke-width="5" stroke-linecap="round"/>
<polygon points="1102.3,717.5 1084.1,715.3 1079.3,733 1075.8,715 1057.5,715.9 1073.5,707 1067,689.9 1080.4,702.3 1094.6,690.8 1086.9,707.5" fill="#4f7d2a"/>
<path d="M1076.2,715L1096,701" stroke="#4f7d2a" stroke-width="5" stroke-linecap="round"/>
<polygon points="1127.4,761.2 1109.2,759 1104.4,776.7 1100.9,758.8 1082.6,759.7 1098.6,750.8 1092.1,733.7 1105.5,746.1 1119.7,734.6 1112,751.2" fill="#4f7d2a"/>
<path d="M1112,760L1096,746" stroke="#4f7d2a" stroke-width="5" stroke-linecap="round"/>
<polygon points="1087.2,799.8 1067.1,797.4 1061.8,817 1057.9,797.1 1037.7,798.1 1055.4,788.3 1048.2,769.4 1063,783.1 1078.8,770.4 1070.2,788.8" fill="#4f7d2a"/>
<path d="M1065.2,795L1096,781" stroke="#4f7d2a" stroke-width="5" stroke-linecap="round"/>
<polygon points="1146.7,858.9 1128.5,856.7 1123.7,874.4 1120.2,856.4 1101.9,857.3 1117.9,848.4 1111.3,831.3 1124.8,843.8 1139,832.3 1131.3,848.9" fill="#4f7d2a"/>
<path d="M1123,855L1096,841" stroke="#4f7d2a" stroke-width="5" stroke-linecap="round"/>
<polygon points="1102.3,882.5 1084.1,880.3 1079.3,898 1075.8,880 1057.5,880.9 1073.5,872 1067,854.9 1080.4,867.3 1094.6,855.8 1086.9,872.5" fill="#4f7d2a"/>
<path d="M1076.2,880L1096,866" stroke="#4f7d2a" stroke-width="5" stroke-linecap="round"/>
<polygon points="1141.8,958.4 1123.6,956.2 1118.8,973.9 1115.3,955.9 1097,956.9 1113,948 1106.4,930.8 1119.9,943.3 1134.1,931.8 1126.4,948.4" fill="#4f7d2a"/>
<path d="M1120.2,955L1096,941" stroke="#4f7d2a" stroke-width="5" stroke-linecap="round"/>
<polygon points="1089.2,978.3 1072.5,976.3 1068.1,992.6 1064.8,976 1048,976.9 1062.7,968.7 1056.7,952.9 1069,964.4 1082.2,953.8 1075.1,969.1" fill="#4f7d2a"/>
<path d="M1070.7,975L1096,961" stroke="#4f7d2a" stroke-width="5" stroke-linecap="round"/>
<polygon points="1136.6,1037.4 1121.3,1035.6 1117.3,1050.5 1114.3,1035.3 1098.9,1036.1 1112.4,1028.6 1106.9,1014.2 1118.2,1024.7 1130.2,1015 1123.7,1029" fill="#4f7d2a"/>
<path d="M1117.5,1035L1096,1021" stroke="#4f7d2a" stroke-width="5" stroke-linecap="round"/>
<polygon points="1099.6,1075.4 1086.7,1073.8 1083.3,1086.4 1080.8,1073.6 1067.8,1074.3 1079.1,1068 1074.5,1055.8 1084,1064.7 1094.2,1056.5 1088.7,1068.3" fill="#4f7d2a"/>
<path d="M1081.7,1075L1096,1061" stroke="#4f7d2a" stroke-width="5" stroke-linecap="round"/>
<polygon points="1131.5,1126.5 1118.6,1125 1115.2,1137.5 1112.7,1124.8 1099.7,1125.4 1111,1119.1 1106.4,1106.9 1115.9,1115.8 1126.1,1107.6 1120.6,1119.4" fill="#4f7d2a"/>
<path d="M1114.7,1125L1096,1111" stroke="#4f7d2a" stroke-width="5" stroke-linecap="round"/>
<path d="M755,1100Q790,980 860,935Q930,895 1010,880" fill="none" stroke="#356019" stroke-width="15" stroke-linecap="round"/><path d="M755,1100Q790,980 860,935Q930,895 1010,880" fill="none" stroke="#6a9630" stroke-width="7" stroke-linecap="round"/>
<path d="M745,965Q640,830 500,655Q420,585 200,535" fill="none" stroke="#356019" stroke-width="22" stroke-linecap="round"/><path d="M745,965Q640,830 500,655Q420,585 200,535" fill="none" stroke="#6a9630" stroke-width="14" stroke-linecap="round"/>
<path d="M620,1003Q450,992 130,945" fill="none" stroke="#356019" stroke-width="17" stroke-linecap="round"/><path d="M620,1003Q450,992 130,945" fill="none" stroke="#6a9630" stroke-width="9" stroke-linecap="round"/>
<path d="M735,1210Q715,1110 680,1080" fill="none" stroke="#356019" stroke-width="26" stroke-linecap="round"/><path d="M735,1210Q715,1110 680,1080" fill="none" stroke="#6a9630" stroke-width="18" stroke-linecap="round"/>
<path d="M752,1400Q800,1310 950,1262Q1150,1235 1300,1232" fill="none" stroke="#356019" stroke-width="22" stroke-linecap="round"/><path d="M752,1400Q800,1310 950,1262Q1150,1235 1300,1232" fill="none" stroke="#6a9630" stroke-width="14" stroke-linecap="round"/>
<path d="M790,640Q775,480 700,300" fill="none" stroke="#356019" stroke-width="17" stroke-linecap="round"/><path d="M790,640Q775,480 700,300" fill="none" stroke="#6a9630" stroke-width="9" stroke-linecap="round"/>
<path d="M790,735Q900,600 1060,540" fill="none" stroke="#356019" stroke-width="20" stroke-linecap="round"/><path d="M790,735Q900,600 1060,540" fill="none" stroke="#6a9630" stroke-width="12" stroke-linecap="round"/>
<path d="M880,450Q960,320 1085,205" fill="none" stroke="#356019" stroke-width="17" stroke-linecap="round"/><path d="M880,450Q960,320 1085,205" fill="none" stroke="#6a9630" stroke-width="9" stroke-linecap="round"/>
<path d="M760,860Q850,720 1010,672Q1200,635 1400,672Q1500,700 1565,745" fill="none" stroke="#356019" stroke-width="26" stroke-linecap="round"/><path d="M760,860Q850,720 1010,672Q1200,635 1400,672Q1500,700 1565,745" fill="none" stroke="#6a9630" stroke-width="18" stroke-linecap="round"/>
<path d="M716,1520L722,1100Q728,900 760,790Q820,600 890,420Q905,340 905,262L915,262Q918,345 905,425Q850,620 790,800Q762,920 760,1100L758,1520Q737,1540 716,1520Z" fill="#6a9630" stroke="#356019" stroke-width="5" stroke-linejoin="round"/>
<path d="M846.8,179.9C803,201.9 758.7,171 743.2,120.1C795,108.1 843.9,131 846.8,179.9Z" fill="#74a243" stroke="#356019" stroke-width="5" stroke-linejoin="round"/><path d="M841.6,176.9L753.6,126.1" stroke="#356019" stroke-width="3.0" opacity="0.55" fill="none"/>
<path d="M878,189C850.7,171.4 853.8,136.3 878,111C902.2,136.3 905.3,171.4 878,189Z" fill="#74a243" stroke="#356019" stroke-width="5" stroke-linejoin="round"/><path d="M878,185.1L878,118.8" stroke="#356019" stroke-width="3.0" opacity="0.55" fill="none"/>
<path d="M848.9,218.1C830.7,248.2 786.2,251.4 751.1,231.9C779.5,203.4 823.1,194.2 848.9,218.1Z" fill="#74a243" stroke="#356019" stroke-width="5" stroke-linejoin="round"/><path d="M844,218.8L760.9,230.5" stroke="#356019" stroke-width="3.0" opacity="0.55" fill="none"/>
<path d="M893.5,267.3C877.5,290.9 837.9,295.6 806.5,282.7C831.6,259.8 870.4,250.6 893.5,267.3Z" fill="#74a243" stroke="#356019" stroke-width="5" stroke-linejoin="round"/><path d="M889.2,268.1L815.2,281.1" stroke="#356019" stroke-width="3.0" opacity="0.55" fill="none"/>
<path d="M1032.5,223.9C1017.1,184.4 1044.9,132.9 1087.5,106.1C1094.3,155.9 1072.7,210.4 1032.5,223.9Z" fill="#74a243" stroke="#356019" stroke-width="5" stroke-linejoin="round"/><path d="M1035.3,218L1082,117.9" stroke="#356019" stroke-width="3.0" opacity="0.55" fill="none"/>
<path d="M1068.4,225.4C1079.2,173.3 1141.3,145.6 1201.6,154.6C1175.3,209.7 1117.6,245.6 1068.4,225.4Z" fill="#74a243" stroke="#356019" stroke-width="5" stroke-linejoin="round"/><path d="M1075.1,221.9L1188.3,161.7" stroke="#356019" stroke-width="3.0" opacity="0.55" fill="none"/>
<path d="M1034.6,265C1068.5,230.9 1136.4,234.8 1185.4,265C1136.4,295.2 1068.5,299.1 1034.6,265Z" fill="#74a243" stroke="#356019" stroke-width="5" stroke-linejoin="round"/><path d="M1042.1,265L1170.3,265" stroke="#356019" stroke-width="3.0" opacity="0.55" fill="none"/>
<path d="M985.6,315.2C1012.5,290.2 1061.1,297.6 1094.4,324.8C1056.9,345.8 1007.7,344.6 985.6,315.2Z" fill="#74a243" stroke="#356019" stroke-width="5" stroke-linejoin="round"/><path d="M991,315.7L1083.5,323.8" stroke="#356019" stroke-width="3.0" opacity="0.55" fill="none"/>
<path d="M958.2,288.4C941.1,267.6 949.5,233.4 971.8,211.6C985.2,239.7 981.4,274.7 958.2,288.4Z" fill="#74a243" stroke="#356019" stroke-width="5" stroke-linejoin="round"/><path d="M958.9,284.6L970.4,219.3" stroke="#356019" stroke-width="3.0" opacity="0.55" fill="none"/>
<path d="M720.3,327.5C665.8,327.1 633.7,272.4 639.7,212.5C698.1,227.3 738.5,276.2 720.3,327.5Z" fill="#74a243" stroke="#356019" stroke-width="5" stroke-linejoin="round"/><path d="M716.2,321.8L647.8,224" stroke="#356019" stroke-width="3.0" opacity="0.55" fill="none"/>
<path d="M738.1,346.4C720.1,316.2 738.2,275.5 771.9,253.6C783.7,292 771.3,334.9 738.1,346.4Z" fill="#74a243" stroke="#356019" stroke-width="5" stroke-linejoin="round"/><path d="M739.8,341.8L768.5,262.9" stroke="#356019" stroke-width="3.0" opacity="0.55" fill="none"/>
<path d="M711.5,350.1C682.3,372.2 646.2,355.3 628.5,319.9C664.8,304.1 703.3,314.5 711.5,350.1Z" fill="#74a243" stroke="#356019" stroke-width="5" stroke-linejoin="round"/><path d="M707.4,348.6L636.8,322.9" stroke="#356019" stroke-width="3.0" opacity="0.55" fill="none"/>
<path d="M734.1,392.4C714.5,429.6 665.3,432.6 625.9,407.6C656.9,372.7 705,362.1 734.1,392.4Z" fill="#74a243" stroke="#356019" stroke-width="5" stroke-linejoin="round"/><path d="M728.7,393.2L636.7,406.1" stroke="#356019" stroke-width="3.0" opacity="0.55" fill="none"/>
<path d="M782.3,393.5C762.3,369.8 771.8,331.1 797.7,306.5C813.5,338.4 809.3,378.1 782.3,393.5Z" fill="#74a243" stroke="#356019" stroke-width="5" stroke-linejoin="round"/><path d="M783.1,389.2L796.1,315.2" stroke="#356019" stroke-width="3.0" opacity="0.55" fill="none"/>
<path d="M743.5,457.3C727.5,480.9 687.9,485.6 656.5,472.7C681.6,449.8 720.4,440.6 743.5,457.3Z" fill="#74a243" stroke="#356019" stroke-width="5" stroke-linejoin="round"/><path d="M739.2,458.1L665.2,471.1" stroke="#356019" stroke-width="3.0" opacity="0.55" fill="none"/>
<path d="M796.3,419.2C817,439.4 808.6,471.2 783.7,490.8C766.9,463.9 770,431.1 796.3,419.2Z" fill="#74a243" stroke="#356019" stroke-width="5" stroke-linejoin="round"/><path d="M795.7,422.7L784.9,483.7" stroke="#356019" stroke-width="3.0" opacity="0.55" fill="none"/>
<path d="M990,554.1C932.3,497.6 957.8,414.5 1030,365.9C1076.2,439.6 1065.7,525.9 990,554.1Z" fill="#74a243" stroke="#356019" stroke-width="5" stroke-linejoin="round"/><path d="M992,544.7L1026,384.7" stroke="#356019" stroke-width="3.0" opacity="0.55" fill="none"/>
<path d="M1071.2,525.2C1071.5,450.1 1146.3,406.1 1228.8,414.8C1208.8,495.3 1141.9,550.6 1071.2,525.2Z" fill="#74a243" stroke="#356019" stroke-width="5" stroke-linejoin="round"/><path d="M1079.1,519.7L1213,425.9" stroke="#356019" stroke-width="3.0" opacity="0.55" fill="none"/>
<path d="M1009.9,577.3C1057.1,535.8 1137.4,552.5 1190.1,602.7C1125.6,636.4 1043.8,630.3 1009.9,577.3Z" fill="#74a243" stroke="#356019" stroke-width="5" stroke-linejoin="round"/><path d="M1018.9,578.6L1172.1,600.1" stroke="#356019" stroke-width="3.0" opacity="0.55" fill="none"/>
<path d="M934.2,599.9C985.4,574.4 1037.5,610.6 1055.8,670.1C995.1,684 937.7,657 934.2,599.9Z" fill="#74a243" stroke="#356019" stroke-width="5" stroke-linejoin="round"/><path d="M940.3,603.4L1043.6,663.1" stroke="#356019" stroke-width="3.0" opacity="0.55" fill="none"/>
<path d="M937.2,614.1C894.8,589.5 888,526.6 912.8,475.9C953.5,515 968.6,576.5 937.2,614.1Z" fill="#74a243" stroke="#356019" stroke-width="5" stroke-linejoin="round"/><path d="M936,607.2L915.2,489.7" stroke="#356019" stroke-width="3.0" opacity="0.55" fill="none"/>
<path d="M316.6,540C268.6,587.7 172.7,582.4 103.4,540C172.7,497.6 268.6,492.3 316.6,540Z" fill="#74a243" stroke="#356019" stroke-width="5" stroke-linejoin="round"/><path d="M305.9,540L124.7,540" stroke="#356019" stroke-width="3.0" opacity="0.55" fill="none"/>
<path d="M366.9,564.3C322.4,522 339.9,456.1 393.1,415.7C429.3,471.9 423.2,539.7 366.9,564.3Z" fill="#74a243" stroke="#356019" stroke-width="5" stroke-linejoin="round"/><path d="M368.2,556.8L390.5,430.6" stroke="#356019" stroke-width="3.0" opacity="0.55" fill="none"/>
<path d="M352.9,607.8C326.2,657.3 250.4,672.8 187.1,652.2C231.6,602.7 305,578.3 352.9,607.8Z" fill="#74a243" stroke="#356019" stroke-width="5" stroke-linejoin="round"/><path d="M344.6,610L203.7,647.8" stroke="#356019" stroke-width="3.0" opacity="0.55" fill="none"/>
<path d="M439.5,607.8C410.3,572.1 428.3,521.2 470.5,492.2C492.6,538.4 482.7,591.5 439.5,607.8Z" fill="#74a243" stroke="#356019" stroke-width="5" stroke-linejoin="round"/><path d="M441.1,602L467.4,503.8" stroke="#356019" stroke-width="3.0" opacity="0.55" fill="none"/>
<path d="M457.8,660.5C434.8,705.5 368.1,719 312.2,699.5C350.9,654.7 415.3,633 457.8,660.5Z" fill="#74a243" stroke="#356019" stroke-width="5" stroke-linejoin="round"/><path d="M450.5,662.4L326.7,695.6" stroke="#356019" stroke-width="3.0" opacity="0.55" fill="none"/>
<path d="M501.4,663.6C475.1,636.4 486.2,593.2 518.6,566.4C539.8,602.7 535.5,647.1 501.4,663.6Z" fill="#74a243" stroke="#356019" stroke-width="5" stroke-linejoin="round"/><path d="M502.3,658.8L516.9,576.1" stroke="#356019" stroke-width="3.0" opacity="0.55" fill="none"/>
<path d="M1259.9,641.8C1252.2,603.3 1286.4,567.9 1330.1,558.2C1328.1,602.9 1299.2,642.7 1259.9,641.8Z" fill="#74a243" stroke="#356019" stroke-width="5" stroke-linejoin="round"/><path d="M1263.4,637.6L1323.1,566.5" stroke="#356019" stroke-width="3.0" opacity="0.55" fill="none"/>
<path d="M1342.5,650.3C1346.9,601.4 1401,568.6 1457.5,569.7C1439.2,623.2 1389.9,662.9 1342.5,650.3Z" fill="#74a243" stroke="#356019" stroke-width="5" stroke-linejoin="round"/><path d="M1348.2,646.2L1446,577.8" stroke="#356019" stroke-width="3.0" opacity="0.55" fill="none"/>
<path d="M1425.2,670.3C1436.1,616.7 1501.3,584.5 1564.8,589.7C1537.6,647.3 1477.1,687.6 1425.2,670.3Z" fill="#74a243" stroke="#356019" stroke-width="5" stroke-linejoin="round"/><path d="M1432.2,666.3L1550.8,597.8" stroke="#356019" stroke-width="3.0" opacity="0.55" fill="none"/>
<path d="M1481.5,698.3C1564.6,691.2 1620.3,769.7 1618.5,861.7C1527.6,847.5 1460.1,778.9 1481.5,698.3Z" fill="#74a243" stroke="#356019" stroke-width="5" stroke-linejoin="round"/><path d="M1488.3,706.5L1604.8,845.3" stroke="#356019" stroke-width="3.0" opacity="0.55" fill="none"/>
<path d="M1400.9,717C1456.4,731.1 1482.6,798.9 1469.1,863C1411.3,832.2 1376.1,768.6 1400.9,717Z" fill="#74a243" stroke="#356019" stroke-width="5" stroke-linejoin="round"/><path d="M1404.3,724.3L1462.3,848.4" stroke="#356019" stroke-width="3.0" opacity="0.55" fill="none"/>
<path d="M1305.1,685.5C1358.8,715.2 1366.9,792.2 1334.9,854.5C1283.5,806.9 1264.8,731.8 1305.1,685.5Z" fill="#74a243" stroke="#356019" stroke-width="5" stroke-linejoin="round"/><path d="M1306.6,694L1331.9,837.6" stroke="#356019" stroke-width="3.0" opacity="0.55" fill="none"/>
<path d="M1244.3,665.8C1266.1,690 1259.6,734.1 1235.7,764.2C1217.4,730.4 1218.6,685.9 1244.3,665.8Z" fill="#74a243" stroke="#356019" stroke-width="5" stroke-linejoin="round"/><path d="M1243.9,670.7L1236.6,754.4" stroke="#356019" stroke-width="3.0" opacity="0.55" fill="none"/>
<path d="M269.4,979C228.3,1002.9 157.5,986.9 110.6,951C166.9,933.3 239,942.5 269.4,979Z" fill="#74a243" stroke="#356019" stroke-width="5" stroke-linejoin="round"/><path d="M261.4,977.6L126.5,953.8" stroke="#356019" stroke-width="3.0" opacity="0.55" fill="none"/>
<path d="M403.8,969.5C375.4,988.7 327.5,977.5 296.2,950.5C334.9,935.8 383.7,941.7 403.8,969.5Z" fill="#74a243" stroke="#356019" stroke-width="5" stroke-linejoin="round"/><path d="M398.4,968.5L307,952.4" stroke="#356019" stroke-width="3.0" opacity="0.55" fill="none"/>
<path d="M325.8,994.9C315.5,1040.2 258.8,1068.5 204.2,1065.1C228.6,1016.1 281.4,981.2 325.8,994.9Z" fill="#74a243" stroke="#356019" stroke-width="5" stroke-linejoin="round"/><path d="M319.7,998.4L216.4,1058.1" stroke="#356019" stroke-width="3.0" opacity="0.55" fill="none"/>
<path d="M452.5,978.9C406.1,968.3 385.2,913.4 397.5,861.1C445.5,885.3 474.1,936.5 452.5,978.9Z" fill="#74a243" stroke="#356019" stroke-width="5" stroke-linejoin="round"/><path d="M449.7,973L403,872.9" stroke="#356019" stroke-width="3.0" opacity="0.55" fill="none"/>
<path d="M428.8,1004.9C428.7,1053.9 377.6,1091.3 321.2,1095.1C334.8,1040.3 380.5,996.4 428.8,1004.9Z" fill="#74a243" stroke="#356019" stroke-width="5" stroke-linejoin="round"/><path d="M423.4,1009.4L332,1086.1" stroke="#356019" stroke-width="3.0" opacity="0.55" fill="none"/>
<path d="M462.1,1014.9C492.4,960.9 577.3,943.3 647.9,965.1C597.7,1019.3 515.4,1046.5 462.1,1014.9Z" fill="#74a243" stroke="#356019" stroke-width="5" stroke-linejoin="round"/><path d="M471.4,1012.4L629.3,970.1" stroke="#356019" stroke-width="3.0" opacity="0.55" fill="none"/>
<path d="M480.1,1105C506.2,1022.9 607.8,994.1 699.9,1025C649.2,1107.8 552.9,1151.1 480.1,1105Z" fill="#74a243" stroke="#356019" stroke-width="5" stroke-linejoin="round"/><path d="M491.1,1101L678,1033" stroke="#356019" stroke-width="3.0" opacity="0.55" fill="none"/>
<path d="M913.1,1266.4C898.3,1237.4 916,1196.5 946.9,1173.6C955.8,1211 943.1,1253.7 913.1,1266.4Z" fill="#74a243" stroke="#356019" stroke-width="5" stroke-linejoin="round"/><path d="M914.8,1261.8L943.5,1182.9" stroke="#356019" stroke-width="3.0" opacity="0.55" fill="none"/>
<path d="M978.7,1254C950.2,1219.3 964.2,1162.3 1001.3,1126C1023.7,1172.8 1017.4,1231.1 978.7,1254Z" fill="#74a243" stroke="#356019" stroke-width="5" stroke-linejoin="round"/><path d="M979.8,1247.6L999,1138.8" stroke="#356019" stroke-width="3.0" opacity="0.55" fill="none"/>
<path d="M1030.1,1251.8C1014,1211.4 1044.3,1166.7 1089.9,1148.2C1096.7,1197 1073.1,1245.5 1030.1,1251.8Z" fill="#74a243" stroke="#356019" stroke-width="5" stroke-linejoin="round"/><path d="M1033.1,1246.6L1083.9,1158.6" stroke="#356019" stroke-width="3.0" opacity="0.55" fill="none"/>
<path d="M1136.6,1233.9C1128.5,1201.1 1156.4,1172.6 1193.4,1166.1C1193.5,1203.7 1170.3,1236.2 1136.6,1233.9Z" fill="#74a243" stroke="#356019" stroke-width="5" stroke-linejoin="round"/><path d="M1139.4,1230.5L1187.7,1172.9" stroke="#356019" stroke-width="3.0" opacity="0.55" fill="none"/>
<path d="M1148.8,1249.3C1192.1,1194.2 1288.2,1191.5 1361.2,1230.7C1296.1,1282 1201.1,1296.1 1148.8,1249.3Z" fill="#74a243" stroke="#356019" stroke-width="5" stroke-linejoin="round"/><path d="M1159.4,1248.4L1340,1232.6" stroke="#356019" stroke-width="3.0" opacity="0.55" fill="none"/>
<path d="M1069.8,1231.2C1147.7,1229.5 1191.4,1304.6 1180.2,1388.8C1097.2,1370.5 1041.6,1303.8 1069.8,1231.2Z" fill="#74a243" stroke="#356019" stroke-width="5" stroke-linejoin="round"/><path d="M1075.3,1239.1L1169.1,1373" stroke="#356019" stroke-width="3.0" opacity="0.55" fill="none"/>
<path d="M1003,1264.7C1063.9,1295.8 1063.7,1368.6 1017,1425.3C961.2,1377.6 948.4,1305.9 1003,1264.7Z" fill="#74a243" stroke="#356019" stroke-width="5" stroke-linejoin="round"/><path d="M1003.7,1272.7L1015.6,1409.2" stroke="#356019" stroke-width="3.0" opacity="0.55" fill="none"/>
<path d="M896.6,1294.2C937.4,1295.1 969.3,1338.5 973.4,1385.8C927.6,1373.5 890.3,1334.5 896.6,1294.2Z" fill="#74a243" stroke="#356019" stroke-width="5" stroke-linejoin="round"/><path d="M900.4,1298.8L965.8,1376.6" stroke="#356019" stroke-width="3.0" opacity="0.55" fill="none"/>
<polygon points="856.9,160.6 862.1,188.3 889.6,194.4 864.8,207.9 867.5,236 847.1,216.5 821.2,227.8 833.4,202.3 814.7,181.2 842.6,184.9" fill="#f4c552" stroke="#d9961c" stroke-width="2.5" stroke-linejoin="round"/><circle cx="850" cy="200" r="7.2" fill="#d9961c"/>
<polygon points="931.5,205.2 943.7,230.6 971.8,229.4 951.4,248.8 961.2,275.2 936.5,261.7 914.4,279.3 919.5,251.6 896,236 924,232.3" fill="#f4c552" stroke="#d9961c" stroke-width="2.5" stroke-linejoin="round"/><circle cx="935" cy="245" r="7.2" fill="#d9961c"/>
<polygon points="780,344 783.9,384.7 822.9,397 785.4,413.3 785.8,454.1 758.7,423.5 719.9,436.5 740.7,401.3 716.4,368.4 756.3,377.3" fill="#f4c552" stroke="#d9961c" stroke-width="2.5" stroke-linejoin="round"/><circle cx="765" cy="400" r="10.4" fill="#d9961c"/>
<polygon points="1074.4,445.2 1083.8,479.2 1118.7,483.8 1089.3,503.2 1095.8,537.9 1068.2,515.9 1037.2,532.7 1049.5,499.7 1024,475.5 1059.2,477" fill="#f4c552" stroke="#d9961c" stroke-width="2.5" stroke-linejoin="round"/><circle cx="1070" cy="495" r="9" fill="#d9961c"/></g>
<g id="flw" transform="scale(0.10453) translate(-1114,-133)"><path d="M1040,850C1005,809.3 1025,832 945,838C865,844 881.7,840.7 800,868C718.3,895.3 753.3,872.7 700,920C646.7,967.3 686.7,950 640,1010C593.3,1070 620,1030 560,1100C500,1170 527.3,1152.7 460,1220C392.7,1287.3 324.7,1278 358,1302C391.3,1326 446,1322 560,1292C674,1262 603.3,1258.7 700,1212C796.7,1165.3 781.7,1195.3 850,1152C918.3,1108.7 867.7,1128.7 905,1082C942.3,1035.3 928.7,1042.7 962,1012C995.3,981.3 975.7,1007.3 1005,990C1034.3,972.7 1038.3,1006.7 1050,960C1061.7,913.3 1075,890.7 1040,850Z" fill="#f5bf3c" stroke="#d7981c" stroke-width="3"/>
<path d="M1188,850C1223,809.3 1203,832 1283,838C1363,844 1346.3,840.7 1428,868C1509.7,895.3 1474.7,872.7 1528,920C1581.3,967.3 1541.3,950 1588,1010C1634.7,1070 1608,1030 1668,1100C1728,1170 1700.7,1152.7 1768,1220C1835.3,1287.3 1903.3,1278 1870,1302C1836.7,1326 1782,1322 1668,1292C1554,1262 1624.7,1258.7 1528,1212C1431.3,1165.3 1446.3,1195.3 1378,1152C1309.7,1108.7 1360.3,1128.7 1323,1082C1285.7,1035.3 1299.3,1042.7 1266,1012C1232.7,981.3 1252.3,1007.3 1223,990C1193.7,972.7 1189.7,1006.7 1178,960C1166.3,913.3 1153,890.7 1188,850Z" fill="#f5bf3c" stroke="#d7981c" stroke-width="3"/>
<path d="M900,900C853.3,903.3 833.3,906.7 760,960C686.7,1013.3 746.7,986.7 680,1060C613.3,1133.3 553.3,1156.7 560,1180C566.7,1203.3 620,1180 700,1130C780,1080 733.3,1090 800,1030C866.7,970 866.7,993.3 900,950C933.3,906.7 946.7,896.7 900,900Z" fill="#ffd262"/>
<path d="M1328,900C1374.7,903.3 1394.7,906.7 1468,960C1541.3,1013.3 1481.3,986.7 1548,1060C1614.7,1133.3 1674.7,1156.7 1668,1180C1661.3,1203.3 1608,1180 1528,1130C1448,1080 1494.7,1090 1428,1030C1361.3,970 1361.3,993.3 1328,950C1294.7,906.7 1281.3,896.7 1328,900Z" fill="#ffd262"/>
<path d="M1000,700C968.3,650 965,685 905,690C845,695 905,709 820,715C735,721 736.7,693.7 650,708C563.3,722.3 633.3,714.7 560,758C486.7,801.3 523.3,804 430,838C336.7,872 373.3,863.3 280,860C186.7,856.7 220,868.7 150,828C80,787.3 87.3,721.3 70,738C52.7,754.7 38,804 98,878C158,952 142.7,932 250,960C357.3,988 303.3,981.3 420,962C536.7,942.7 480,938.7 600,902C720,865.3 678.3,874.3 780,852C881.7,829.7 831.7,839 905,835C978.3,831 968.3,885 1000,840C1031.7,795 1031.7,750 1000,700Z" fill="#f5bf3c" stroke="#d7981c" stroke-width="3"/>
<path d="M1228,700C1259.7,650 1263,685 1323,690C1383,695 1323,709 1408,715C1493,721 1491.3,693.7 1578,708C1664.7,722.3 1594.7,714.7 1668,758C1741.3,801.3 1704.7,804 1798,838C1891.3,872 1854.7,863.3 1948,860C2041.3,856.7 2008,868.7 2078,828C2148,787.3 2140.7,721.3 2158,738C2175.3,754.7 2190,804 2130,878C2070,952 2085.3,932 1978,960C1870.7,988 1924.7,981.3 1808,962C1691.3,942.7 1748,938.7 1628,902C1508,865.3 1549.7,874.3 1448,852C1346.3,829.7 1396.3,839 1323,835C1249.7,831 1259.7,885 1228,840C1196.3,795 1196.3,750 1228,700Z" fill="#f5bf3c" stroke="#d7981c" stroke-width="3"/>
<path d="M880,760C853.3,741.7 806.7,740 700,760C593.3,780 660,773.3 560,820C460,866.7 503.3,871.7 400,900C296.7,928.3 250,893.3 250,905C250,916.7 283.3,946.7 400,935C516.7,923.3 473.3,910 600,870C726.7,830 686.7,851.7 780,815C873.3,778.3 906.7,778.3 880,760Z" fill="#ffd262"/>
<path d="M1348,760C1374.7,741.7 1421.3,740 1528,760C1634.7,780 1568,773.3 1668,820C1768,866.7 1724.7,871.7 1828,900C1931.3,928.3 1978,893.3 1978,905C1978,916.7 1944.7,946.7 1828,935C1711.3,923.3 1754.7,910 1628,870C1501.3,830 1541.3,851.7 1448,815C1354.7,778.3 1321.3,778.3 1348,760Z" fill="#ffd262"/>
<path d="M1000,300C1025,228.3 1000,243.3 1060,215C1120,186.7 1124,186.7 1180,215C1236,243.3 1204.7,228.3 1228,300C1251.3,371.7 1236,348.3 1250,430C1264,511.7 1316.7,488.3 1270,545C1223.3,601.7 1215,599 1110,600C1005,601 996.7,604.7 955,548C913.3,491.3 970,512.7 985,430C1000,347.3 975,371.7 1000,300Z" fill="#5c6e2e"/>
<path d="M440,196C426.7,174.7 476.7,145.7 560,112C643.3,78.3 610,90.7 690,95C770,99.3 730,93.3 800,125C870,156.7 838.3,135 900,190C961.7,245 948.3,213.3 985,290C1021.7,366.7 1025,383.3 1010,420C995,456.7 1000,440 940,400C880,360 903.3,362.7 830,300C756.7,237.3 796.7,253.3 720,212C643.3,170.7 693.3,181.3 600,176C506.7,170.7 453.3,217.3 440,196Z" fill="#5c6e2e"/>
<path d="M770,308C754.3,305.3 744.3,328 745,372C745.7,416 737,400 772,440C807,480 785.7,457 850,492C914.3,527 918.3,552.3 965,545C1011.7,537.7 998.3,497.7 990,470C981.7,442.3 986.7,475.3 940,462C893.3,448.7 899.3,457.3 850,430C800.7,402.7 818.7,420.7 792,380C765.3,339.3 785.7,310.7 770,308Z" fill="#5c6e2e"/>
<path d="M1225,278C1268.3,193 1255,234 1330,190C1405,146 1373.3,159.3 1450,146C1526.7,132.7 1498,131.3 1560,150C1622,168.7 1642.7,180 1636,202C1629.3,224 1618.7,186.7 1540,216C1461.3,245.3 1485,244.7 1400,290C1315,335.3 1351.7,300.3 1285,352C1218.3,403.7 1220,469.7 1200,445C1180,420.3 1181.7,363 1225,278Z" fill="#5c6e2e"/>
<path d="M1195,468C1233.3,426.3 1231.7,467.3 1300,440C1368.3,412.7 1357.7,402 1400,386C1442.3,370 1433,367.3 1427,392C1421,416.7 1427.7,416.7 1382,460C1336.3,503.3 1355.7,487 1290,522C1224.3,557 1216.7,583 1185,565C1153.3,547 1156.7,509.7 1195,468Z" fill="#5c6e2e"/>
<path d="M560,150C563.3,138.3 610,120 700,130C790,140 753.3,130 830,180C906.7,230 906.7,240 930,280C953.3,320 943.3,321.7 900,300C856.7,278.3 870,260 800,215C730,170 770,186.7 690,165C610,143.3 556.7,161.7 560,150Z" fill="#74863f" opacity="0.8"/>
<path d="M1290,300C1323.3,261.7 1323.3,256.7 1400,215C1476.7,173.3 1513.3,163.3 1520,175C1526.7,186.7 1493.3,198.3 1420,250C1346.7,301.7 1343.3,313.3 1300,330C1256.7,346.7 1256.7,338.3 1290,300Z" fill="#74863f" opacity="0.8"/>
<path d="M945,560C875.3,566.7 916,580 905,640C894,700 893.7,676.7 912,740C930.3,803.3 920.7,770 960,830C999.3,890 950.7,890 1030,920C1109.3,950 1118.7,950 1198,920C1277.3,890 1228.7,890 1268,830C1307.3,770 1297.7,803.3 1316,740C1334.3,676.7 1334,700 1323,640C1312,580 1319,573.3 1283,560C1247,546.7 1271.3,580 1215,600C1158.7,620 1204,633.3 1114,620C1024,606.7 1014.7,553.3 945,560Z" fill="#f5bf3c"/>
<path d="M945,560C926.7,533.3 916,580 905,640C894,700 893.7,676.7 912,740C930.3,803.3 920.7,770 960,830C999.3,890 1002.7,860 1030,920C1057.3,980 1054.7,953.3 1042,1010C1029.3,1066.7 1025.3,1026.7 992,1090C958.7,1153.3 962.7,1130 942,1200C921.3,1270 924,1233.3 930,1300C936,1366.7 926.7,1340 960,1400C993.3,1460 989.3,1436 1030,1480C1070.7,1524 1058,1523.7 1082,1532C1106,1540.3 1098.7,1535.7 1102,1505C1105.3,1474.3 1095.3,1575 1092,1440C1088.7,1305 1094.3,1280 1092,1100C1089.7,920 1102.3,993.3 1085,900C1067.7,806.7 1081.7,880 1040,820C998.3,760 991.7,806.7 960,720C928.3,633.3 963.3,586.7 945,560Z" fill="#f5bf3c" stroke="#d7981c" stroke-width="3"/>
<path d="M1283,560C1301.3,533.3 1312,580 1323,640C1334,700 1334.3,676.7 1316,740C1297.7,803.3 1307.3,770 1268,830C1228.7,890 1225.3,860 1198,920C1170.7,980 1173.3,953.3 1186,1010C1198.7,1066.7 1202.7,1026.7 1236,1090C1269.3,1153.3 1265.3,1130 1286,1200C1306.7,1270 1304,1233.3 1298,1300C1292,1366.7 1301.3,1340 1268,1400C1234.7,1460 1238.7,1436 1198,1480C1157.3,1524 1170,1523.7 1146,1532C1122,1540.3 1129.3,1535.7 1126,1505C1122.7,1474.3 1132.7,1575 1136,1440C1139.3,1305 1133.7,1280 1136,1100C1138.3,920 1125.7,993.3 1143,900C1160.3,806.7 1146.3,880 1188,820C1229.7,760 1236.3,806.7 1268,720C1299.7,633.3 1264.7,586.7 1283,560Z" fill="#f5bf3c" stroke="#d7981c" stroke-width="3"/>
<path d="M925,600C917.7,606.7 901.3,656.7 918,740C934.7,823.3 932.7,783.3 975,850C1017.3,916.7 1018.3,883.3 1045,940C1071.7,996.7 1070,963.3 1055,1020C1040,1076.7 1031,1046.7 1000,1110C969,1173.3 977,1146.7 962,1210C947,1273.3 947.3,1238.3 955,1300C962.7,1361.7 970,1395 985,1395C1000,1395 991.7,1365 1000,1300C1008.3,1235 993.3,1263.3 1010,1200C1026.7,1136.7 1025,1170 1050,1110C1075,1050 1078.3,1083.3 1085,1020C1091.7,956.7 1101.7,986.7 1070,920C1038.3,853.3 1033.3,886.7 990,820C946.7,753.3 961.7,793.3 940,720C918.3,646.7 932.3,593.3 925,600Z" fill="#ffd262"/>
<path d="M1303,600C1310.3,606.7 1326.7,656.7 1310,740C1293.3,823.3 1295.3,783.3 1253,850C1210.7,916.7 1209.7,883.3 1183,940C1156.3,996.7 1158,963.3 1173,1020C1188,1076.7 1197,1046.7 1228,1110C1259,1173.3 1251,1146.7 1266,1210C1281,1273.3 1280.7,1238.3 1273,1300C1265.3,1361.7 1258,1395 1243,1395C1228,1395 1236.3,1365 1228,1300C1219.7,1235 1234.7,1263.3 1218,1200C1201.3,1136.7 1203,1170 1178,1110C1153,1050 1149.7,1083.3 1143,1020C1136.3,956.7 1126.3,986.7 1158,920C1189.7,853.3 1194.7,886.7 1238,820C1281.3,753.3 1266.3,793.3 1288,720C1309.7,646.7 1295.7,593.3 1303,600Z" fill="#ffd262"/>
<path d="M1030,845C1030.7,820 1062,820 1082,905C1102,990 1087.3,921.7 1090,1100C1092.7,1278.3 1103.3,1346.7 1090,1440C1076.7,1533.3 1070,1430 1050,1380C1030,1330 1031.7,1350 1030,1290C1028.3,1230 1026.7,1263.3 1045,1200C1063.3,1136.7 1073.3,1173.3 1085,1100C1096.7,1026.7 1098.3,1065 1080,980C1061.7,895 1029.3,870 1030,845Z" fill="#c3901c"/>
<path d="M1198,845C1197.3,820 1166,820 1146,905C1126,990 1140.7,921.7 1138,1100C1135.3,1278.3 1124.7,1346.7 1138,1440C1151.3,1533.3 1158,1430 1178,1380C1198,1330 1196.3,1350 1198,1290C1199.7,1230 1201.3,1263.3 1183,1200C1164.7,1136.7 1154.7,1173.3 1143,1100C1131.3,1026.7 1129.7,1065 1148,980C1166.3,895 1198.7,870 1198,845Z" fill="#c3901c"/>
<path d="M1225,600C1218.3,633.3 1258.3,633.3 1250,700C1241.7,766.7 1233.3,740 1200,800C1166.7,860 1136.7,880 1150,880C1163.3,880 1195,860 1240,800C1285,740 1275,766.7 1285,700C1295,633.3 1290,633.3 1270,600C1250,566.7 1231.7,566.7 1225,600Z" fill="#c3901c"/>
<path d="M1120,133C1090,133 1094.3,131 1075,150C1055.7,169 1058.7,140 1062,190C1065.3,240 1092.3,223.3 1085,300C1077.7,376.7 1073.3,346.7 1040,420C1006.7,493.3 1016.7,453.3 985,520C953.3,586.7 953.3,553.3 945,620C936.7,686.7 928.3,653.3 960,720C991.7,786.7 998.3,760 1040,820C1081.7,880 1066.7,740 1085,900C1103.3,1060 1093.3,1120 1095,1300C1096.7,1480 1083.7,1382.7 1090,1440C1096.3,1497.3 1097.3,1472 1114,1472C1130.7,1472 1134.7,1497.3 1140,1440C1145.3,1382.7 1131.7,1490 1130,1300C1128.3,1110 1125,1036.7 1135,870C1145,703.3 1135,850 1160,800C1185,750 1191.7,786.7 1210,720C1228.3,653.3 1235,673.3 1215,600C1195,526.7 1178.3,560 1150,500C1121.7,440 1126.7,486.7 1130,420C1133.3,353.3 1143.3,376.7 1160,300C1176.7,223.3 1178.3,240 1180,190C1181.7,140 1185,169 1165,150C1145,131 1150,133 1120,133Z" fill="#8a9642" stroke="#5c6e2e" stroke-width="4"/>
<ellipse cx="1040" cy="650" rx="40" ry="92" transform="rotate(-8 1040 650)" fill="#5f7332"/>
<ellipse cx="1137" cy="640" rx="36" ry="92" transform="rotate(8 1137 640)" fill="#5f7332"/></g>
<g id="seed" transform="scale(0.27382)"><path d="M97,0C103,-0.7 109.2,1 118,6C126.8,11 136.3,16.8 150,30C163.7,43.2 185.8,65 200,85C214.2,105 227.8,129.2 235,150C242.2,170.8 244.7,190 243,210C241.3,230 235.5,253 225,270C214.5,287 196.7,302.8 180,312C163.3,321.2 144.2,325.3 125,325C105.8,324.7 82.5,320 65,310C47.5,300 30.8,283.3 20,265C9.2,246.7 2,220.8 0,200C-2,179.2 2.2,159.2 8,140C13.8,120.8 25.5,101.7 35,85C44.5,68.3 57.2,52.5 65,40C72.8,27.5 76.7,16.7 82,10C87.3,3.3 91,0.7 97,0Z" fill="#eac9a0" stroke="#c98f5e" stroke-width="4"/>
<path d="M98.9,15.9C104.3,15.3 109.9,17.1 117.7,22C125.5,26.9 134,33.2 145.7,45.4C157.3,57.6 175.3,77.5 187.5,95C199.7,112.5 212.2,132.2 219,150.3C225.8,168.4 229.2,185.4 228.4,203.4C227.6,221.4 223.2,242.7 214.1,258.3C205,273.9 189,288.7 174,297.2C159,305.6 141.5,309.4 124.1,309C106.8,308.6 85.5,304.1 69.9,294.8C54.3,285.4 39.5,269.6 30.3,252.8C21.2,236 15.9,212.4 14.8,193.9C13.7,175.4 18.5,158.3 23.9,141.8C29.3,125.4 39.3,109.8 47.3,95.3C55.2,80.7 65.2,66.2 71.6,54.6C78,43 81.1,32 85.7,25.6C90.2,19.1 93.6,16.5 98.9,15.9Z" fill="none" stroke="#e2bb8c" stroke-width="9" opacity="0.8"/>
<path d="M45,250Q20,170 70,110Q110,75 150,110" fill="none" stroke="#f1d9b8" stroke-width="10" stroke-linecap="round" opacity="0.8"/>
<path d="M150,250Q185,190 150,140" fill="none" stroke="#f1d9b8" stroke-width="8" stroke-linecap="round" opacity="0.8"/>
<path d="M100,150Q85,185 100,225" fill="none" stroke="#f1d9b8" stroke-width="7" stroke-linecap="round" opacity="0.8"/>
<path d="M112,45Q122,60 118,80" fill="none" stroke="#f1d9b8" stroke-width="7" stroke-linecap="round" opacity="0.8"/></g>
<radialGradient id="glowB"><stop offset="0.35" stop-color="#3f6cf7" stop-opacity="0.75"/><stop offset="0.6" stop-color="#3f6cf7" stop-opacity="0.32"/><stop offset="0.85" stop-color="#3f6cf7" stop-opacity="0.06"/><stop offset="1" stop-color="#3f6cf7" stop-opacity="0"/></radialGradient>
<radialGradient id="glowR"><stop offset="0.35" stop-color="#f25555" stop-opacity="0.75"/><stop offset="0.6" stop-color="#f25555" stop-opacity="0.32"/><stop offset="0.85" stop-color="#f25555" stop-opacity="0.06"/><stop offset="1" stop-color="#f25555" stop-opacity="0"/></radialGradient>
<radialGradient id="glowG"><stop offset="0.35" stop-color="#bdbdbd" stop-opacity="0.75"/><stop offset="0.6" stop-color="#bdbdbd" stop-opacity="0.32"/><stop offset="0.85" stop-color="#bdbdbd" stop-opacity="0.06"/><stop offset="1" stop-color="#bdbdbd" stop-opacity="0"/></radialGradient>
<g id="bulbB" transform="scale(0.06533) translate(-600,-335)"><ellipse cx="600" cy="860" rx="400" ry="440" fill="url(#glowB)" opacity="1"/>
<path d="M512,545L690,545L700,620Q720,680 770,750Q812,820 812,885Q805,1000 720,1062Q600,1130 480,1062Q395,1000 390,885Q390,820 430,750Q482,680 500,620Z" fill="#7189e7"/>
<path d="M512,545L690,545L696,590L505,590Z" fill="#4c64da"/>
<path d="M512,548L512,400Q515,350 565,340L635,340Q685,350 688,400L688,548Z" fill="#b9b4b1"/>
<path d="M565,345Q600,320 635,345Z" fill="#6e6a68"/>
<rect x="510" y="392" width="180" height="13" fill="#8e8987"/>
<rect x="510" y="440" width="180" height="13" fill="#8e8987"/>
<rect x="510" y="488" width="180" height="13" fill="#8e8987"/>
<rect x="510" y="532" width="180" height="13" fill="#8e8987"/>
<path d="M560,590L556,790M636,590L650,790M515,805q12,-18 24,0q12,18 24,0q12,-18 24,0q12,18 24,0q12,-18 24,0q12,18 24,0q12,-18 26,0" fill="none" stroke="#fff" stroke-width="5" opacity="0.55"/>
<path d="M742,910L668,1008" stroke="#fff" stroke-width="24" stroke-linecap="round" opacity="0.42"/></g>
<g id="bulbR" transform="scale(0.06533) translate(-600,-335)"><ellipse cx="600" cy="860" rx="400" ry="440" fill="url(#glowR)" opacity="1"/>
<path d="M512,545L690,545L700,620Q720,680 770,750Q812,820 812,885Q805,1000 720,1062Q600,1130 480,1062Q395,1000 390,885Q390,820 430,750Q482,680 500,620Z" fill="#de6c6c"/>
<path d="M512,545L690,545L696,590L505,590Z" fill="#c73a3a"/>
<path d="M512,548L512,400Q515,350 565,340L635,340Q685,350 688,400L688,548Z" fill="#b9b4b1"/>
<path d="M565,345Q600,320 635,345Z" fill="#6e6a68"/>
<rect x="510" y="392" width="180" height="13" fill="#8e8987"/>
<rect x="510" y="440" width="180" height="13" fill="#8e8987"/>
<rect x="510" y="488" width="180" height="13" fill="#8e8987"/>
<rect x="510" y="532" width="180" height="13" fill="#8e8987"/>
<path d="M560,590L556,790M636,590L650,790M515,805q12,-18 24,0q12,18 24,0q12,-18 24,0q12,18 24,0q12,-18 24,0q12,18 24,0q12,-18 26,0" fill="none" stroke="#fff" stroke-width="5" opacity="0.55"/>
<path d="M742,910L668,1008" stroke="#fff" stroke-width="24" stroke-linecap="round" opacity="0.42"/></g>
<g id="bulbG" transform="scale(0.06533) translate(-600,-335)"><ellipse cx="600" cy="860" rx="400" ry="440" fill="url(#glowG)" opacity="0.5"/>
<path d="M512,545L690,545L700,620Q720,680 770,750Q812,820 812,885Q805,1000 720,1062Q600,1130 480,1062Q395,1000 390,885Q390,820 430,750Q482,680 500,620Z" fill="#c8c8c8"/>
<path d="M512,545L690,545L696,590L505,590Z" fill="#a9a9a9"/>
<path d="M512,548L512,400Q515,350 565,340L635,340Q685,350 688,400L688,548Z" fill="#b9b4b1"/>
<path d="M565,345Q600,320 635,345Z" fill="#6e6a68"/>
<rect x="510" y="392" width="180" height="13" fill="#8e8987"/>
<rect x="510" y="440" width="180" height="13" fill="#8e8987"/>
<rect x="510" y="488" width="180" height="13" fill="#8e8987"/>
<rect x="510" y="532" width="180" height="13" fill="#8e8987"/>
<path d="M560,590L556,790M636,590L650,790M515,805q12,-18 24,0q12,18 24,0q12,-18 24,0q12,18 24,0q12,-18 24,0q12,18 24,0q12,-18 26,0" fill="none" stroke="#fff" stroke-width="5" opacity="0.55"/>
<path d="M742,910L668,1008" stroke="#fff" stroke-width="24" stroke-linecap="round" opacity="0.42"/></g>
<g id="cp_small" transform="scale(0.5)"><use href="#cp_red"/></g>
<g id="cp_mid" transform="scale(0.61)"><use href="#cp_red"/></g>
<g id="unit"><use href="#bulbG" x="29.2" y="-186.6"/><use href="#bulbR" x="-2.3" y="-186.6"/><use href="#bulbB" x="-33.8" y="-186.6"/><use href="#cp_small"/></g>
<linearGradient id="ptr1" gradientUnits="userSpaceOnUse" x1="2368" y1="1780" x2="2420" y2="1725"><stop offset="0" stop-color="#111" stop-opacity="0"/><stop offset="1" stop-color="#111"/></linearGradient>
<linearGradient id="ptr2" gradientUnits="userSpaceOnUse" x1="2370" y1="1792" x2="2440" y2="1795"><stop offset="0" stop-color="#111" stop-opacity="0"/><stop offset="1" stop-color="#111"/></linearGradient>
</defs>
<rect width="3000" height="2100" fill="#fff"/>
<text transform="translate(227.36,190.30) scale(0.9250,1)" font-size="85.5" font-weight="700" fill="#000">Germplasm collection</text>
<text transform="translate(1828.32,189.40) scale(0.9195,1)" font-size="85.5" font-weight="700" fill="#000">Targeted Crosses</text>
<text transform="translate(404.05,1298.30) scale(0.9141,1)" font-size="85.5" font-weight="700" fill="#000">Speed Breeding</text>
<text transform="translate(494.19,1392.60) scale(0.9658,1)" font-size="85.5" font-weight="700" fill="#000">(1-2 years)</text>
<text transform="translate(2117.61,1298.50) scale(0.9427,1)" font-size="85.5" font-weight="700" fill="#000">Marker Assisted</text>
<text transform="translate(2120.08,1391.70) scale(0.9426,1)" font-size="85.5" font-weight="700" fill="#000">Selection (MAS)</text>
<text transform="translate(131.89,1599.80) scale(0.9257,1)" font-size="76" font-weight="700" fill="#000">Required photoperiod 22h &amp; dark period 2h</text>
<text transform="translate(85.83,629.20) scale(0.9968,1)" font-size="60.5" font-weight="400" fill="#000">Wild accessions</text>
<text transform="translate(109.19,1014.60) scale(0.9875,1)" font-size="60.5" font-weight="400" fill="#000">Selected varieties</text>
<text transform="translate(112.46,1929.50) scale(1.0074,1)" font-size="33.2" font-weight="400" fill="#000">Elite &amp; donor</text>
<text transform="translate(159.19,1967.90) scale(1.0071,1)" font-size="33.2" font-weight="400" fill="#000">variety</text>
<text transform="translate(394.48,1949.10) scale(0.8518,1)" font-size="33.2" font-weight="400" fill="#000">F1</text>
<text transform="translate(623.36,1949.10) scale(1.0043,1)" font-size="33.2" font-weight="400" fill="#000">F2</text>
<text transform="translate(852.61,1949.10) scale(0.9895,1)" font-size="33.2" font-weight="400" fill="#000">F3</text>
<text transform="translate(1081.96,1949.10) scale(1.0072,1)" font-size="33.2" font-weight="400" fill="#000">F4</text>
<text transform="translate(1296.91,1948.80) scale(0.9894,1)" font-size="33.2" font-weight="400" fill="#000">F5-6</text>
<text transform="translate(1513.19,1929.40) scale(1.0328,1)" font-size="33.2" font-weight="400" fill="#000">Field</text>
<text transform="translate(1513.47,1968.00) scale(1.0571,1)" font-size="33.2" font-weight="400" fill="#000">trails</text>
<rect x="1328.9" y="501" width="97" height="24.9" fill="url(#gaR)"/><rect x="1425.5" y="501" width="105" height="24.9" fill="#668536"/><polygon points="1529.8,476.2 1604.3,513.5 1529.8,550.8" fill="#668536"/>
<rect x="2414.1" y="858.9" width="24.9" height="98.6" fill="url(#gaD)"/><rect x="2414.1" y="957" width="24.9" height="105" fill="#668536"/><polygon points="2389.2,1061 2464,1061 2426.5,1136.1" fill="#668536"/>
<rect x="1819" y="1622" width="49.3" height="24.7" fill="url(#gaL)"/><rect x="1774" y="1622" width="45.5" height="24.7" fill="#668536"/><polygon points="1774.9,1596.9 1700.1,1634.3 1774.9,1671.7" fill="#668536"/>
<rect x="2003" y="500.3" width="22" height="24.4" fill="url(#gaB)"/><rect x="2024.5" y="500.3" width="23" height="24.4" fill="#8d9cbd"/><polygon points="2047,475.3 2121.4,512.5 2047,549.7" fill="#8d9cbd"/>
<rect x="2514" y="486.6" width="22" height="24.4" fill="url(#gaB)"/><rect x="2535.5" y="486.6" width="23" height="24.4" fill="#8d9cbd"/><polygon points="2558,461.6 2632.8,498.8 2558,536.0" fill="#8d9cbd"/>
<rect x="87.2" y="1653.8" width="1537.8" height="350.2" rx="9.6" ry="9.6" fill="none" stroke="#71bbb4" stroke-width="5.2"/>
<rect x="265.8" y="1825.4" width="22" height="5.2" fill="url(#gaK)"/><rect x="287.3" y="1825.4" width="22.0" height="5.2" fill="#222"/><polygon points="308.8,1815.6 333.8,1828 308.8,1840.4" fill="#222"/>
<rect x="495.20000000000005" y="1825.4" width="22" height="5.2" fill="url(#gaK)"/><rect x="516.7" y="1825.4" width="22.0" height="5.2" fill="#222"/><polygon points="538.2,1815.6 563.2,1828 538.2,1840.4" fill="#222"/>
<rect x="724.6" y="1825.4" width="22" height="5.2" fill="url(#gaK)"/><rect x="746.1" y="1825.4" width="22.0" height="5.2" fill="#222"/><polygon points="767.6,1815.6 792.6,1828 767.6,1840.4" fill="#222"/>
<rect x="954" y="1825.4" width="22" height="5.2" fill="url(#gaK)"/><rect x="975.5" y="1825.4" width="22" height="5.2" fill="#222"/><polygon points="997,1815.6 1022,1828 997,1840.4" fill="#222"/>
<rect x="1183.4" y="1825.4" width="22" height="5.2" fill="url(#gaK)"/><rect x="1204.9" y="1825.4" width="22.0" height="5.2" fill="#222"/><polygon points="1226.4,1815.6 1251.4,1828 1226.4,1840.4" fill="#222"/>
<rect x="1412" y="1825.4" width="22" height="5.2" fill="url(#gaK)"/><rect x="1433.5" y="1825.4" width="16" height="5.2" fill="#222"/><polygon points="1449,1815.6 1474,1828 1449,1840.4" fill="#222"/>
<use href="#cp_green" transform="translate(233,923.7) scale(1.013)"/>
<use href="#cp_red" x="503.1" y="920.9"/>
<use href="#cp_yellow" x="771" y="920"/>
<use href="#cp_purple" x="1039.8" y="920"/>
<use href="#wp" x="220.2" y="527.5"/>
<use href="#wp" x="524.6" y="527.5"/>
<use href="#wp" x="792.9" y="531.7"/>
<use href="#wp" x="1061.5" y="531.7"/>
<use href="#flw" x="1876.4" y="308.9"/>
<use href="#flw" transform="translate(1889,718.2) rotate(180)"/>
<g transform="translate(2100,300) scale(0.22406)"><path d="M985,335C1035,332.5 1097.5,290 1150,270C1202.5,250 1255,225.3 1300,215C1345,204.7 1381.7,203 1420,208C1458.3,213 1493.3,224.7 1530,245C1566.7,265.3 1609.2,295.8 1640,330C1670.8,364.2 1695.8,405 1715,450C1734.2,495 1746.2,550 1755,600C1763.8,650 1769.7,700 1768,750C1766.3,800 1758,850 1745,900C1732,950 1714.2,1001.7 1690,1050C1665.8,1098.3 1635,1148.3 1600,1190C1565,1231.7 1525,1269.2 1480,1300C1435,1330.8 1385,1356.7 1330,1375C1275,1393.3 1207.5,1405.3 1150,1410C1092.5,1414.7 1043.3,1402.7 985,1403C926.7,1403.3 855.8,1413.3 800,1412C744.2,1410.7 700,1408.7 650,1395C600,1381.3 545,1357.5 500,1330C455,1302.5 416.7,1270 380,1230C343.3,1190 307.5,1140 280,1090C252.5,1040 231.3,985 215,930C198.7,875 185.3,815 182,760C178.7,705 183.7,651.7 195,600C206.3,548.3 225.8,495 250,450C274.2,405 306.7,363.3 340,330C373.3,296.7 410,269.7 450,250C490,230.3 538.3,216.2 580,212C621.7,207.8 655,212.8 700,225C745,237.2 802.5,266.7 850,285C897.5,303.3 935,337.5 985,335Z" fill="#d84124" stroke="#b9341b" stroke-width="5"/>
<path d="M985.2,383C1030.4,380.4 1086.2,336.6 1134.6,315.5C1183,294.4 1233.2,268.1 1275.8,256.5C1318.4,244.8 1353.6,242 1390.1,245.5C1426.6,249.1 1460,259.3 1494.9,277.7C1529.8,296.1 1570.4,324.2 1599.7,356C1629,387.8 1652.6,426.1 1670.6,468.3C1688.7,510.6 1699.7,562.3 1707.9,609.3C1716.1,656.2 1721.7,703.1 1720,750.1C1718.3,797 1710.3,843.9 1697.9,890.7C1685.5,937.6 1668.7,986 1645.8,1031.2C1623,1076.4 1594,1123.2 1561,1162C1528,1200.9 1490.3,1235.8 1447.9,1264.3C1405.6,1292.8 1358.5,1316.4 1306.9,1332.9C1255.3,1349.5 1192.1,1359.7 1138.5,1363.4C1084.9,1367.1 1039.4,1354.6 985.2,1355C930.9,1355.4 865.2,1366.2 813.1,1365.8C760.9,1365.4 719.3,1364.6 672.3,1352.5C625.2,1340.4 573.3,1318.6 530.9,1293.3C488.5,1267.9 452.3,1237.6 417.7,1200.3C383.1,1162.9 349.3,1116.1 323.3,1069.3C297.3,1022.4 277.3,970.8 261.8,919.2C246.2,867.5 233.3,811.2 230,759.5C226.7,707.8 231.4,657.5 242.2,609C252.9,560.4 271.4,510.3 294.4,468.1C317.5,426 348.5,387.1 380.2,356.2C412,325.3 447,300.4 485.1,282.7C523.2,265.1 569.3,252.9 608.9,250.3C648.6,247.7 680.6,253.7 723,267.1C765.4,280.6 819.8,311.7 863.6,331C907.3,350.4 940.1,385.6 985.2,383Z" fill="#e15a37"/>
<path d="M985.5,427C1026.2,424.3 1075.8,379.2 1120.5,357.1C1165.2,335.1 1213.3,307.3 1253.6,294.5C1294,281.6 1327.8,277.7 1362.7,279.9C1397.5,282.2 1429.4,291.1 1462.7,307.7C1496,324.4 1534.8,350.3 1562.7,379.9C1590.6,409.4 1613,445.5 1630,485.2C1647,524.8 1657.1,573.6 1664.7,617.8C1672.4,661.9 1677.7,706 1676,750.1C1674.3,794.2 1666.5,838.3 1654.7,882.3C1643,926.2 1626.9,971.6 1605.3,1014C1583.8,1056.3 1556.3,1100.2 1525.2,1136.4C1494.1,1172.7 1458.5,1205.2 1418.5,1231.5C1378.6,1257.9 1334.1,1279.5 1285.7,1294.4C1237.3,1309.2 1178,1317.9 1127.9,1320.7C1077.9,1323.5 1035.8,1310.5 985.3,1311C934.8,1311.5 873.8,1323.1 825.1,1323.5C776.3,1323.9 737,1324.1 692.7,1313.5C648.4,1302.8 599.3,1283 559.2,1259.6C519.2,1236.2 484.9,1207.9 452.2,1173C419.5,1138.1 387.6,1094.2 363,1050.2C338.4,1006.3 319.5,957.8 304.6,909.2C289.8,860.7 277.2,807.6 274,759C270.8,710.3 275.2,662.9 285.4,617.2C295.6,571.5 313.2,524.3 335.2,484.8C357.1,445.3 386.8,408.8 417.1,380.2C447.5,351.5 480.9,328.5 517.3,312.7C553.7,297 597.7,286.6 635.5,285.4C673.3,284.2 704,291.1 744.1,305.7C784.2,320.4 835.7,353 876,373.3C916.2,393.5 944.7,429.7 985.5,427Z" fill="#e8714a"/>
<path d="M880,345C900.8,335.8 1004.2,329.2 1025,345C1045.8,360.8 994.2,419.2 1005,440C1015.8,460.8 1064.2,468 1090,470C1115.8,472 1158.3,437 1160,452C1161.7,467 1118.3,527 1100,560C1081.7,593 1060,610 1050,650C1040,690 1038.3,750 1040,800C1041.7,850 1055,900 1060,950C1065,1000 1066.3,1056.3 1070,1100C1073.7,1143.7 1093.7,1198.3 1082,1212C1070.3,1225.7 1026.2,1182 1000,1182C973.8,1182 935,1225.7 925,1212C915,1198.3 934.2,1143.7 940,1100C945.8,1056.3 968.3,1000 960,950C951.7,900 900,850 890,800C880,750 906.7,693.3 900,650C893.3,606.7 873.3,575 850,540C826.7,505 758.3,458.3 760,440C761.7,421.7 834.2,423 860,430C885.8,437 908.3,487 915,482C921.7,477 905.8,422.8 900,400C894.2,377.2 859.2,354.2 880,345Z" fill="#f28c63"/>
<path d="M640,440C661.7,442.5 693.3,443.3 720,460C746.7,476.7 778.3,510 800,540C821.7,570 838.3,606.7 850,640C861.7,673.3 868.3,713.3 870,740C871.7,766.7 855,776.7 860,800C865,823.3 886.7,850 900,880C913.3,910 932.5,946.7 940,980C947.5,1013.3 951.7,1046.7 945,1080C938.3,1113.3 920.8,1154.7 900,1180C879.2,1205.3 850,1230.3 820,1232C790,1233.7 756.7,1210.3 720,1190C683.3,1169.7 640,1143.3 600,1110C560,1076.7 510.8,1031.7 480,990C449.2,948.3 427.5,901.7 415,860C402.5,818.3 400.8,780 405,740C409.2,700 420.8,660 440,620C459.2,580 495,529.2 520,500C545,470.8 570,455 590,445C610,435 618.3,437.5 640,440Z" fill="#a52c16"/>
<path d="M644.5,465.6C664.7,468.3 694.5,469.5 719,486C743.5,502.5 772.5,535.6 791.5,564.6C810.6,593.6 824.2,629 833.3,659.9C842.4,690.9 846.1,726.8 846.2,750.4C846.3,774.1 829.2,781.9 834.1,802C839,822.2 861.3,844.3 875.5,871.4C889.6,898.5 910.2,933.3 918.9,964.8C927.6,996.4 932.9,1028.6 927.7,1060.6C922.5,1092.6 907,1132.6 887.9,1157C868.8,1181.4 841.3,1205.7 813.2,1206.9C785.1,1208.1 753.1,1184.3 719,1164C685,1143.8 645.2,1117.2 608.7,1085.5C572.3,1053.8 528.4,1012.2 500.4,973.9C472.4,935.6 452.3,893.7 440.7,855.8C429,817.8 426.9,782.8 430.3,746C433.7,709.3 443.9,672.5 461.1,635.2C478.3,597.9 510.5,549.9 533.3,522.3C556.1,494.8 579.3,479.2 597.8,469.8C616.4,460.3 624.4,462.9 644.5,465.6Z" fill="#8e1a08"/>
<path d="M1300,430C1331.7,431.7 1371.7,448.3 1400,470C1428.3,491.7 1451.7,525 1470,560C1488.3,595 1501.3,640 1510,680C1518.7,720 1523.7,760 1522,800C1520.3,840 1512,880 1500,920C1488,960 1475,1005 1450,1040C1425,1075 1386.7,1103.3 1350,1130C1313.3,1156.7 1263.3,1185.7 1230,1200C1196.7,1214.3 1173.3,1219.3 1150,1216C1126.7,1212.7 1104.2,1202.7 1090,1180C1075.8,1157.3 1066.7,1116.7 1065,1080C1063.3,1043.3 1072.5,993.3 1080,960C1087.5,926.7 1106.7,906.7 1110,880C1113.3,853.3 1101.7,838.3 1100,800C1098.3,761.7 1093.3,693.3 1100,650C1106.7,606.7 1121.7,571.7 1140,540C1158.3,508.3 1183.3,478.3 1210,460C1236.7,441.7 1268.3,428.3 1300,430Z" fill="#a52c16"/>
<path d="M1297.8,455.9C1327.3,457.3 1364.9,473.6 1391,494.4C1417.1,515.2 1438.2,547.6 1454.4,580.8C1470.6,614 1481,656.7 1488,693.8C1494.9,730.9 1498.3,767.1 1496.2,803.3C1494.2,839.5 1486.2,874.8 1475.6,911C1465,947.2 1454.8,988.3 1432.7,1020.6C1410.6,1052.9 1376.2,1079.4 1342.9,1105C1309.5,1130.6 1263.4,1159.8 1232.5,1174.1C1201.6,1188.5 1179.3,1194 1157.5,1191.1C1135.7,1188.2 1114.4,1178.7 1101.7,1156.8C1089,1134.9 1081.4,1095.1 1081.4,1059.8C1081.3,1024.6 1092.5,976.5 1101.5,945.3C1110.4,914.1 1130.9,895.9 1134.9,872.5C1138.9,849.1 1128.4,839 1125.5,805.1C1122.6,771.2 1113.3,709.5 1117.4,669.3C1121.5,629.1 1134.2,594.5 1150.2,563.9C1166.3,533.3 1189.2,503.7 1213.8,485.7C1238.4,467.7 1268.3,454.5 1297.8,455.9Z" fill="#8e1a08"/>
<path d="M691.7,688.7C700.3,676.7 724,672 740.2,679.8C756.5,687.7 770.5,715.2 789.3,736C808.1,756.9 832.3,787.3 853,804.9C873.8,822.5 904.2,824.4 913.9,841.6C923.7,858.7 920.9,895.4 911.6,907.8C902.3,920.3 870.8,907.1 858.3,916.3C845.7,925.6 847.6,958.7 836.2,963.4C824.7,968 805.3,956.1 789.5,944C773.6,931.9 753.2,911.6 740.9,890.7C728.7,869.7 724.8,841.4 716.1,818.2C707.4,795.1 692.7,773.4 688.7,751.8C684.6,730.2 683.1,700.7 691.7,688.7Z" fill="#a8301a"/>
<path d="M700,700C707.5,688.8 730,684.7 745,693C760,701.3 774.2,730.5 790,750C805.8,769.5 821.7,795 840,810C858.3,825 890,825 900,840C910,855 908.3,889.2 900,900C891.7,910.8 861.3,896.7 850,905C838.7,913.3 842,945.8 832,950C822,954.2 803.7,941.7 790,930C776.3,918.3 760,898.3 750,880C740,861.7 738.3,840 730,820C721.7,800 705,780 700,760C695,740 692.5,711.2 700,700Z" fill="#e8714a"/>
<path d="M708.3,711.3C714.7,700.9 736,697.4 749.8,706.2C763.5,714.9 777.8,745.8 790.7,764C803.6,782.1 811.1,802.7 827,815.1C842.9,827.5 875.8,825.6 886.1,838.4C896.3,851.3 895.8,882.9 888.4,892.2C881,901.4 851.8,886.3 841.7,893.7C831.6,901.1 836.4,932.9 827.8,936.6C819.3,940.4 802,927.2 790.5,916C779.1,904.8 766.8,885 759.1,869.3C751.3,853.6 751.8,838.6 743.9,821.8C735.9,804.9 717.3,786.6 711.3,768.2C705.4,749.8 701.9,721.6 708.3,711.3Z" fill="#f4956c"/>
<path d="M1258.4,728.8C1263.2,739.3 1249,769 1243.4,791.8C1237.8,814.7 1233.2,841.8 1224.8,865.8C1216.4,889.7 1205.9,920.7 1192.9,935.7C1180,950.7 1161,959.9 1146.9,955.6C1132.8,951.4 1119.9,921.8 1108.3,910.1C1096.7,898.5 1081,897.6 1077.3,885.8C1073.5,874 1074.2,844.3 1086,839.5C1097.8,834.8 1129.9,867.6 1148,857.1C1166,846.7 1183.2,798.1 1194.3,776.7C1205.5,755.3 1204.2,736.8 1214.9,728.9C1225.5,720.9 1253.7,718.3 1258.4,728.8Z" fill="#a8301a"/>
<path d="M1250,740C1253.7,749.7 1238.3,780 1232,800C1225.7,820 1219,839.7 1212,860C1205,880.3 1200.3,908.3 1190,922C1179.7,935.7 1162,945.7 1150,942C1138,938.3 1128,910.3 1118,900C1108,889.7 1093,890 1090,880C1087,870 1088.3,845 1100,840C1111.7,835 1145,858.3 1160,850C1175,841.7 1181.7,808 1190,790C1198.3,772 1200,750.3 1210,742C1220,733.7 1246.3,730.3 1250,740Z" fill="#e8714a"/>
<path d="M1241.6,751.2C1244.2,760 1227.7,791 1220.6,808.2C1213.6,825.3 1204.8,837.6 1199.2,854.2C1193.6,870.9 1194.7,896 1187.1,908.3C1179.4,920.7 1163,931.4 1153.1,928.4C1143.2,925.3 1136.1,898.9 1127.7,889.9C1119.3,880.8 1105,882.4 1102.7,874.2C1100.5,866 1102.4,845.7 1114,840.5C1125.5,835.2 1160.1,849.1 1172,842.9C1184,836.7 1180.1,817.9 1185.7,803.3C1191.2,788.7 1195.8,763.8 1205.1,755.1C1214.5,746.4 1239,742.3 1241.6,751.2Z" fill="#f4956c"/>
<ellipse cx="635" cy="635" rx="33" ry="11" transform="rotate(70 635 635)" fill="#c2553a"/>
<ellipse cx="705" cy="650" rx="33" ry="11" transform="rotate(60 705 650)" fill="#f7a77c"/>
<ellipse cx="630" cy="725" rx="33" ry="11" transform="rotate(20 630 725)" fill="#f7a77c"/>
<ellipse cx="650" cy="808" rx="33" ry="11" transform="rotate(-10 650 808)" fill="#f7a77c"/>
<ellipse cx="600" cy="875" rx="33" ry="11" transform="rotate(-25 600 875)" fill="#c2553a"/>
<ellipse cx="660" cy="888" rx="33" ry="11" transform="rotate(-35 660 888)" fill="#f7a77c"/>
<ellipse cx="690" cy="950" rx="33" ry="11" transform="rotate(-35 690 950)" fill="#f7a77c"/>
<ellipse cx="690" cy="1020" rx="33" ry="11" transform="rotate(-45 690 1020)" fill="#c2553a"/>
<ellipse cx="752" cy="1005" rx="33" ry="11" transform="rotate(-65 752 1005)" fill="#f7a77c"/>
<ellipse cx="832" cy="1005" rx="33" ry="11" transform="rotate(65 832 1005)" fill="#c2553a"/>
<ellipse cx="1190" cy="660" rx="33" ry="11" transform="rotate(85 1190 660)" fill="#c2553a"/>
<ellipse cx="1245" cy="675" rx="33" ry="11" transform="rotate(-60 1245 675)" fill="#f7a77c"/>
<ellipse cx="1300" cy="728" rx="33" ry="11" transform="rotate(-25 1300 728)" fill="#f7a77c"/>
<ellipse cx="1355" cy="775" rx="33" ry="11" transform="rotate(-10 1355 775)" fill="#c2553a"/>
<ellipse cx="1310" cy="802" rx="33" ry="11" transform="rotate(5 1310 802)" fill="#f7a77c"/>
<ellipse cx="1345" cy="860" rx="33" ry="11" transform="rotate(25 1345 860)" fill="#c2553a"/>
<ellipse cx="1300" cy="880" rx="33" ry="11" transform="rotate(35 1300 880)" fill="#f7a77c"/>
<ellipse cx="1272" cy="945" rx="33" ry="11" transform="rotate(40 1272 945)" fill="#f7a77c"/>
<ellipse cx="1208" cy="1000" rx="33" ry="11" transform="rotate(70 1208 1000)" fill="#f7a77c"/>
<ellipse cx="1255" cy="992" rx="33" ry="11" transform="rotate(60 1255 992)" fill="#c2553a"/>
<ellipse cx="1258" cy="722" rx="33" ry="11" transform="rotate(-50 1258 722)" fill="#c2553a"/>
<path d="M345,495Q290,650 292,825" stroke="#f9a685" stroke-width="14" fill="none" stroke-linecap="round"/>
<path d="M478,558Q520,490 582,442" stroke="#f9a685" stroke-width="7" fill="none" stroke-linecap="round"/>
<path d="M1385,437Q1430,475 1460,525" stroke="#f9a685" stroke-width="7" fill="none" stroke-linecap="round"/>
<path d="M1540,805Q1530,940 1478,1055" stroke="#f9a685" stroke-width="9" fill="none" stroke-linecap="round"/>
<path d="M520,1110Q570,1170 630,1205" stroke="#f28c63" stroke-width="42" fill="none" stroke-linecap="round"/>
<path d="M890,510L925,498" stroke="#f9a685" stroke-width="16" fill="none" stroke-linecap="round"/>
<path d="M880,262C895,253.7 948.3,250 985,250C1021.7,250 1083.3,253.7 1100,262C1116.7,270.3 1104.2,289 1085,300C1065.8,311 1016.7,328 985,328C953.3,328 912.5,311 895,300C877.5,289 865,270.3 880,262Z" fill="#4e6a26"/>
<path d="M560,186C558.3,179 611.7,141.3 640,130C668.3,118.7 701.7,114.7 730,118C758.3,121.3 785,134.7 810,150C835,165.3 860.8,193.3 880,210C899.2,226.7 915.8,235 925,250C934.2,265 942.5,294.7 935,300C927.5,305.3 899.2,292 880,282C860.8,272 843.3,255 820,240C796.7,225 768.3,203.3 740,192C711.7,180.7 680,173 650,172C620,171 561.7,193 560,186Z" fill="#5c7a2e"/>
<path d="M660,150C656.7,143.3 713.3,135 740,140C766.7,145 795.8,161.7 820,180C844.2,198.3 881.7,240.8 885,250C888.3,259.2 860.8,246.7 840,235C819.2,223.3 790,194.2 760,180C730,165.8 663.3,156.7 660,150Z" fill="#6f8a3c"/>
<path d="M1080,240C1091.7,219.7 1131.7,195 1160,180C1188.3,165 1223.3,153.7 1250,150C1276.7,146.3 1303,151.3 1320,158C1337,164.7 1357,183 1352,190C1347,197 1312,191.7 1290,200C1268,208.3 1243.3,227.5 1220,240C1196.7,252.5 1171.7,264.7 1150,275C1128.3,285.3 1101.7,307.8 1090,302C1078.3,296.2 1068.3,260.3 1080,240Z" fill="#5c7a2e"/>
<path d="M940,300C930,284.7 925,248.3 930,230C935,211.7 955,197.7 970,190C985,182.3 1004.2,181.5 1020,184C1035.8,186.5 1055,194 1065,205C1075,216 1080.8,235.5 1080,250C1079.2,264.5 1075,280 1060,292C1045,304 1010,320.7 990,322C970,323.3 950,315.3 940,300Z" fill="#6f8a3c"/></g>
<use href="#seed" x="2605.4" y="289.3"/>
<use href="#seed" x="2730" y="261.4"/>
<use href="#seed" x="2811.3" y="261.4"/>
<use href="#seed" x="2842.8" y="324.3"/>
<use href="#seed" x="2717.7" y="390"/>
<use href="#seed" x="2811.3" y="424.3"/>
<use href="#seed" x="2650" y="555.7"/>
<use href="#seed" x="2748.6" y="555.7"/>
<use href="#cp_mid" x="185.2" y="1898.5"/>
<use href="#unit" x="422.9" y="1898.5"/>
<use href="#unit" x="639.6" y="1898.5"/>
<use href="#unit" x="869.2" y="1898.5"/>
<use href="#unit" x="1098.6" y="1898.5"/>
<use href="#unit" x="1346.3" y="1898.5"/>
<use href="#cp_mid" x="1553.9" y="1898.5"/>
<g transform="translate(1880,1700) scale(0.24390)"><polygon points="66,797 815,1012 2132,606 1383,391" fill="#bcbcbc"/>
<polygon points="66,797 88,763 1383,357 2124,572 2132,606 1383,391" fill="#dedede"/>
<polygon points="1196,368.7 1394.5,432.9 1394.5,536.9 1196,472.7" fill="#6f6f6f" opacity="0.9"/><polygon points="1407.1,433.1 1592.5,373.9 1592.5,477.9 1407.1,537.1" fill="#626262" opacity="0.9"/><polygon points="1182.9,308.5 1401,379 1401,435 1182.9,364.5" fill="#7a7a7a" stroke="#5e5e5e" stroke-width="2.5" stroke-linejoin="round" opacity="0.93"/><polygon points="1401,379 1604.7,314 1604.7,370 1401,435" fill="#6c6c6c" stroke="#565656" stroke-width="2.5" stroke-linejoin="round" opacity="0.93"/><polygon points="1401,379 1604.7,314 1386.6,243.5 1182.9,308.5" fill="#7b7b7b" stroke="#5c5c5c" stroke-width="3" stroke-linejoin="round"/><path d="M1398.8,358.7C1440.5,359.2 1436.5,349.5 1474.5,337.3C1512.5,325.2 1542.9,326.6 1541.4,313.2C1540,299.8 1509.9,300.4 1469.2,287.2C1428.5,274 1430.4,264.4 1388.8,263.8C1347.2,263.3 1351.1,273 1313.1,285.2C1275.1,297.3 1244.8,296 1246.2,309.3C1247.6,322.7 1277.7,322.1 1318.4,335.3C1359.1,348.5 1357.2,358.1 1398.8,358.7Z" fill="#8d8d8d" stroke="#6c6c6c" stroke-width="2"/><path d="M1464,321h4M1365,293h4M1430,298h4M1425,312h4M1445,326h4M1402,301h4M1384,324h4M1428,305h4M1389,276h4M1482,315h4M1371,335h4M1353,308h4M1423,297h4M1401,303h4" stroke="#ababab" stroke-width="4" stroke-linecap="round"/>
<polygon points="1428,443.7 1626.5,507.9 1626.5,611.9 1428,547.7" fill="#6f6f6f" opacity="0.9"/><polygon points="1639.1,508.1 1824.5,448.9 1824.5,552.9 1639.1,612.1" fill="#626262" opacity="0.9"/><polygon points="1414.9,383.5 1633,454 1633,510 1414.9,439.5" fill="#7a7a7a" stroke="#5e5e5e" stroke-width="2.5" stroke-linejoin="round" opacity="0.93"/><polygon points="1633,454 1836.7,389 1836.7,445 1633,510" fill="#6c6c6c" stroke="#565656" stroke-width="2.5" stroke-linejoin="round" opacity="0.93"/><polygon points="1633,454 1836.7,389 1618.6,318.5 1414.9,383.5" fill="#7b7b7b" stroke="#5c5c5c" stroke-width="3" stroke-linejoin="round"/><path d="M1630.8,433.7C1672.5,434.2 1668.5,424.5 1706.5,412.3C1744.5,400.2 1774.9,401.6 1773.4,388.2C1772,374.8 1741.9,375.4 1701.2,362.2C1660.5,349 1662.4,339.4 1620.8,338.8C1579.2,338.3 1583.1,348 1545.1,360.2C1507.1,372.3 1476.8,371 1478.2,384.3C1479.6,397.7 1509.7,397.1 1550.4,410.3C1591.1,423.5 1589.2,433.1 1630.8,433.7Z" fill="#8d8d8d" stroke="#6c6c6c" stroke-width="2"/><path d="M1547,373h4M1627,353h4M1613,361h4M1553,399h4M1569,386h4M1611,386h4M1621,382h4M1604,355h4M1571,380h4M1683,376h4M1583,400h4M1653,376h4M1565,390h4M1559,377h4" stroke="#ababab" stroke-width="4" stroke-linecap="round"/>
<polygon points="1660,518.7 1858.5,582.9 1858.5,686.9 1660,622.7" fill="#6f6f6f" opacity="0.9"/><polygon points="1871.1,583.1 2056.5,523.9 2056.5,627.9 1871.1,687.1" fill="#626262" opacity="0.9"/><polygon points="1646.9,458.5 1865,529 1865,585 1646.9,514.5" fill="#7a7a7a" stroke="#5e5e5e" stroke-width="2.5" stroke-linejoin="round" opacity="0.93"/><polygon points="1865,529 2068.7,464 2068.7,520 1865,585" fill="#6c6c6c" stroke="#565656" stroke-width="2.5" stroke-linejoin="round" opacity="0.93"/><polygon points="1865,529 2068.7,464 1850.6,393.5 1646.9,458.5" fill="#7b7b7b" stroke="#5c5c5c" stroke-width="3" stroke-linejoin="round"/><path d="M1862.8,508.7C1904.5,509.2 1900.5,499.5 1938.5,487.3C1976.5,475.2 2006.9,476.6 2005.4,463.2C2004,449.8 1973.9,450.4 1933.2,437.2C1892.5,424 1894.4,414.4 1852.8,413.8C1811.2,413.3 1815.1,423 1777.1,435.2C1739.1,447.3 1708.8,446 1710.2,459.3C1711.6,472.7 1741.7,472.1 1782.4,485.3C1823.1,498.5 1821.2,508.1 1862.8,508.7Z" fill="#8d8d8d" stroke="#6c6c6c" stroke-width="2"/><path d="M1833,450h4M1841,438h4M1777,451h4M1835,449h4M1834,435h4M1848,475h4M1872,450h4M1903,458h4M1969,464h4M1898,458h4M1782,472h4M1839,488h4M1880,481h4M1872,490h4" stroke="#ababab" stroke-width="4" stroke-linecap="round"/>
<polygon points="986,435.7 1184.5,499.9 1184.5,603.9 986,539.7" fill="#6f6f6f" opacity="0.9"/><polygon points="1197.1,500.1 1382.5,440.9 1382.5,544.9 1197.1,604.1" fill="#626262" opacity="0.9"/><polygon points="972.9,375.5 1191,446 1191,502 972.9,431.5" fill="#7a7a7a" stroke="#5e5e5e" stroke-width="2.5" stroke-linejoin="round" opacity="0.93"/><polygon points="1191,446 1394.7,381 1394.7,437 1191,502" fill="#6c6c6c" stroke="#565656" stroke-width="2.5" stroke-linejoin="round" opacity="0.93"/><polygon points="1191,446 1394.7,381 1176.6,310.5 972.9,375.5" fill="#7b7b7b" stroke="#5c5c5c" stroke-width="3" stroke-linejoin="round"/><path d="M1188.8,425.7C1230.5,426.2 1226.5,416.5 1264.5,404.3C1302.5,392.2 1332.9,393.6 1331.4,380.2C1330,366.8 1299.9,367.4 1259.2,354.2C1218.5,341 1220.4,331.4 1178.8,330.8C1137.2,330.3 1141.1,340 1103.1,352.2C1065.1,364.3 1034.8,363 1036.2,376.3C1037.6,389.7 1067.7,389.1 1108.4,402.3C1149.1,415.5 1147.2,425.1 1188.8,425.7Z" fill="#8d8d8d" stroke="#6c6c6c" stroke-width="2"/><path d="M1214,385h4M1111,389h4M1180,398h4M1155,376h4M1244,362h4M1180,341h4M1207,404h4M1103,377h4M1144,358h4M1219,355h4M1241,394h4M1092,384h4M1171,362h4M1170,369h4" stroke="#ababab" stroke-width="4" stroke-linecap="round"/>
<polygon points="1218,510.7 1416.5,574.9 1416.5,678.9 1218,614.7" fill="#6f6f6f" opacity="0.9"/><polygon points="1429.1,575.1 1614.5,515.9 1614.5,619.9 1429.1,679.1" fill="#626262" opacity="0.9"/><polygon points="1204.9,450.5 1423,521 1423,577 1204.9,506.5" fill="#7a7a7a" stroke="#5e5e5e" stroke-width="2.5" stroke-linejoin="round" opacity="0.93"/><polygon points="1423,521 1626.7,456 1626.7,512 1423,577" fill="#6c6c6c" stroke="#565656" stroke-width="2.5" stroke-linejoin="round" opacity="0.93"/><polygon points="1423,521 1626.7,456 1408.6,385.5 1204.9,450.5" fill="#7b7b7b" stroke="#5c5c5c" stroke-width="3" stroke-linejoin="round"/><path d="M1420.8,500.7C1462.5,501.2 1458.5,491.5 1496.5,479.3C1534.5,467.2 1564.9,468.6 1563.4,455.2C1562,441.8 1531.9,442.4 1491.2,429.2C1450.5,416 1452.4,406.4 1410.8,405.8C1369.2,405.3 1373.1,415 1335.1,427.2C1297.1,439.3 1266.8,438 1268.2,451.3C1269.6,464.7 1299.7,464.1 1340.4,477.3C1381.1,490.5 1379.2,500.1 1420.8,500.7Z" fill="#8d8d8d" stroke="#6c6c6c" stroke-width="2"/><path d="M1440,458h4M1481,449h4M1436,459h4M1348,438h4M1377,470h4M1403,469h4M1494,442h4M1438,453h4M1449,447h4M1386,468h4M1370,445h4M1460,463h4M1460,455h4M1451,464h4" stroke="#ababab" stroke-width="4" stroke-linecap="round"/>
<polygon points="1450,585.7 1648.5,649.9 1648.5,753.9 1450,689.7" fill="#6f6f6f" opacity="0.9"/><polygon points="1661.1,650.1 1846.5,590.9 1846.5,694.9 1661.1,754.1" fill="#626262" opacity="0.9"/><polygon points="1436.9,525.5 1655,596 1655,652 1436.9,581.5" fill="#7a7a7a" stroke="#5e5e5e" stroke-width="2.5" stroke-linejoin="round" opacity="0.93"/><polygon points="1655,596 1858.7,531 1858.7,587 1655,652" fill="#6c6c6c" stroke="#565656" stroke-width="2.5" stroke-linejoin="round" opacity="0.93"/><polygon points="1655,596 1858.7,531 1640.6,460.5 1436.9,525.5" fill="#7b7b7b" stroke="#5c5c5c" stroke-width="3" stroke-linejoin="round"/><path d="M1652.8,575.7C1694.5,576.2 1690.5,566.5 1728.5,554.3C1766.5,542.2 1796.9,543.6 1795.4,530.2C1794,516.8 1763.9,517.4 1723.2,504.2C1682.5,491 1684.4,481.4 1642.8,480.8C1601.2,480.3 1605.1,490 1567.1,502.2C1529.1,514.3 1498.8,513 1500.2,526.3C1501.6,539.7 1531.7,539.1 1572.4,552.3C1613.1,565.5 1611.2,575.1 1652.8,575.7Z" fill="#8d8d8d" stroke="#6c6c6c" stroke-width="2"/><path d="M1649,557h4M1698,537h4M1610,543h4M1673,543h4M1594,519h4M1644,554h4M1626,556h4M1542,524h4M1567,516h4M1556,526h4M1625,520h4M1694,531h4M1595,531h4M1665,561h4" stroke="#ababab" stroke-width="4" stroke-linecap="round"/>
<polygon points="776,502.7 974.5,566.9 974.5,670.9 776,606.7" fill="#6f6f6f" opacity="0.9"/><polygon points="987.1,567.1 1172.5,507.9 1172.5,611.9 987.1,671.1" fill="#626262" opacity="0.9"/><polygon points="762.9,442.5 981,513 981,569 762.9,498.5" fill="#7a7a7a" stroke="#5e5e5e" stroke-width="2.5" stroke-linejoin="round" opacity="0.93"/><polygon points="981,513 1184.7,448 1184.7,504 981,569" fill="#6c6c6c" stroke="#565656" stroke-width="2.5" stroke-linejoin="round" opacity="0.93"/><polygon points="981,513 1184.7,448 966.6,377.5 762.9,442.5" fill="#7b7b7b" stroke="#5c5c5c" stroke-width="3" stroke-linejoin="round"/><path d="M978.8,492.7C1020.5,493.2 1016.5,483.5 1054.5,471.3C1092.5,459.2 1122.9,460.6 1121.4,447.2C1120,433.8 1089.9,434.4 1049.2,421.2C1008.5,408 1010.4,398.4 968.8,397.8C927.2,397.3 931.1,407 893.1,419.2C855.1,431.3 824.8,430 826.2,443.3C827.6,456.7 857.7,456.1 898.4,469.3C939.1,482.5 937.2,492.1 978.8,492.7Z" fill="#8d8d8d" stroke="#6c6c6c" stroke-width="2"/><path d="M967,412h4M1069,447h4M994,445h4M1022,459h4M945,459h4M947,457h4M970,479h4M1007,441h4M947,436h4M1012,468h4M995,431h4M977,435h4M1044,434h4M1019,441h4" stroke="#ababab" stroke-width="4" stroke-linecap="round"/>
<polygon points="1008,577.7 1206.5,641.9 1206.5,745.9 1008,681.7" fill="#6f6f6f" opacity="0.9"/><polygon points="1219.1,642.1 1404.5,582.9 1404.5,686.9 1219.1,746.1" fill="#626262" opacity="0.9"/><polygon points="994.9,517.5 1213,588 1213,644 994.9,573.5" fill="#7a7a7a" stroke="#5e5e5e" stroke-width="2.5" stroke-linejoin="round" opacity="0.93"/><polygon points="1213,588 1416.7,523 1416.7,579 1213,644" fill="#6c6c6c" stroke="#565656" stroke-width="2.5" stroke-linejoin="round" opacity="0.93"/><polygon points="1213,588 1416.7,523 1198.6,452.5 994.9,517.5" fill="#7b7b7b" stroke="#5c5c5c" stroke-width="3" stroke-linejoin="round"/><path d="M1210.8,567.7C1252.5,568.2 1248.5,558.5 1286.5,546.3C1324.5,534.2 1354.9,535.6 1353.4,522.2C1352,508.8 1321.9,509.4 1281.2,496.2C1240.5,483 1242.4,473.4 1200.8,472.8C1159.2,472.3 1163.1,482 1125.1,494.2C1087.1,506.3 1056.8,505 1058.2,518.3C1059.6,531.7 1089.7,531.1 1130.4,544.3C1171.1,557.5 1169.2,567.1 1210.8,567.7Z" fill="#8d8d8d" stroke="#6c6c6c" stroke-width="2"/><path d="M1302,518h4M1091,518h4M1216,547h4M1242,521h4M1283,517h4M1280,511h4M1165,500h4M1175,497h4M1285,531h4M1238,503h4M1222,539h4M1236,504h4M1222,493h4M1250,501h4" stroke="#ababab" stroke-width="4" stroke-linecap="round"/>
<polygon points="1240,652.7 1438.5,716.9 1438.5,820.9 1240,756.7" fill="#6f6f6f" opacity="0.9"/><polygon points="1451.1,717.1 1636.5,657.9 1636.5,761.9 1451.1,821.1" fill="#626262" opacity="0.9"/><polygon points="1226.9,592.5 1445,663 1445,719 1226.9,648.5" fill="#7a7a7a" stroke="#5e5e5e" stroke-width="2.5" stroke-linejoin="round" opacity="0.93"/><polygon points="1445,663 1648.7,598 1648.7,654 1445,719" fill="#6c6c6c" stroke="#565656" stroke-width="2.5" stroke-linejoin="round" opacity="0.93"/><polygon points="1445,663 1648.7,598 1430.6,527.5 1226.9,592.5" fill="#7b7b7b" stroke="#5c5c5c" stroke-width="3" stroke-linejoin="round"/><path d="M1442.8,642.7C1484.5,643.2 1480.5,633.5 1518.5,621.3C1556.5,609.2 1586.9,610.6 1585.4,597.2C1584,583.8 1553.9,584.4 1513.2,571.2C1472.5,558 1474.4,548.4 1432.8,547.8C1391.2,547.3 1395.1,557 1357.1,569.2C1319.1,581.3 1288.8,580 1290.2,593.3C1291.6,606.7 1321.7,606.1 1362.4,619.3C1403.1,632.5 1401.2,642.1 1442.8,642.7Z" fill="#8d8d8d" stroke="#6c6c6c" stroke-width="2"/><path d="M1376,600h4M1456,591h4M1370,594h4M1471,584h4M1471,605h4M1397,618h4M1500,609h4M1504,595h4M1463,623h4M1465,568h4M1466,577h4M1406,619h4M1484,611h4M1505,584h4" stroke="#ababab" stroke-width="4" stroke-linecap="round"/>
<polygon points="566,569.7 764.5,633.9 764.5,737.9 566,673.7" fill="#6f6f6f" opacity="0.9"/><polygon points="777.1,634.1 962.5,574.9 962.5,678.9 777.1,738.1" fill="#626262" opacity="0.9"/><polygon points="552.9,509.5 771,580 771,636 552.9,565.5" fill="#7a7a7a" stroke="#5e5e5e" stroke-width="2.5" stroke-linejoin="round" opacity="0.93"/><polygon points="771,580 974.7,515 974.7,571 771,636" fill="#6c6c6c" stroke="#565656" stroke-width="2.5" stroke-linejoin="round" opacity="0.93"/><polygon points="771,580 974.7,515 756.6,444.5 552.9,509.5" fill="#7b7b7b" stroke="#5c5c5c" stroke-width="3" stroke-linejoin="round"/><path d="M768.8,559.7C810.5,560.2 806.5,550.5 844.5,538.3C882.5,526.2 912.9,527.6 911.4,514.2C910,500.8 879.9,501.4 839.2,488.2C798.5,475 800.4,465.4 758.8,464.8C717.2,464.3 721.1,474 683.1,486.2C645.1,498.3 614.8,497 616.2,510.3C617.6,523.7 647.7,523.1 688.4,536.3C729.1,549.5 727.2,559.1 768.8,559.7Z" fill="#8d8d8d" stroke="#6c6c6c" stroke-width="2"/><path d="M750,518h4M761,517h4M734,509h4M720,516h4M732,538h4M789,532h4M815,511h4M741,484h4M688,506h4M778,494h4M715,531h4M803,516h4M756,530h4M701,510h4" stroke="#ababab" stroke-width="4" stroke-linecap="round"/>
<polygon points="798,644.7 996.5,708.9 996.5,812.9 798,748.7" fill="#6f6f6f" opacity="0.9"/><polygon points="1009.1,709.1 1194.5,649.9 1194.5,753.9 1009.1,813.1" fill="#626262" opacity="0.9"/><polygon points="784.9,584.5 1003,655 1003,711 784.9,640.5" fill="#7a7a7a" stroke="#5e5e5e" stroke-width="2.5" stroke-linejoin="round" opacity="0.93"/><polygon points="1003,655 1206.7,590 1206.7,646 1003,711" fill="#6c6c6c" stroke="#565656" stroke-width="2.5" stroke-linejoin="round" opacity="0.93"/><polygon points="1003,655 1206.7,590 988.6,519.5 784.9,584.5" fill="#7b7b7b" stroke="#5c5c5c" stroke-width="3" stroke-linejoin="round"/><path d="M1000.8,634.7C1042.5,635.2 1038.5,625.5 1076.5,613.3C1114.5,601.2 1144.9,602.6 1143.4,589.2C1142,575.8 1111.9,576.4 1071.2,563.2C1030.5,550 1032.4,540.4 990.8,539.8C949.2,539.3 953.1,549 915.1,561.2C877.1,573.3 846.8,572 848.2,585.3C849.6,598.7 879.7,598.1 920.4,611.3C961.1,624.5 959.2,634.1 1000.8,634.7Z" fill="#8d8d8d" stroke="#6c6c6c" stroke-width="2"/><path d="M1109,590h4M1064,592h4M1110,589h4M1017,566h4M976,555h4M986,603h4M1046,588h4M1002,607h4M991,559h4M1064,587h4M1043,571h4M971,599h4M1038,607h4M1020,590h4" stroke="#ababab" stroke-width="4" stroke-linecap="round"/>
<polygon points="1030,719.7 1228.5,783.9 1228.5,887.9 1030,823.7" fill="#6f6f6f" opacity="0.9"/><polygon points="1241.1,784.1 1426.5,724.9 1426.5,828.9 1241.1,888.1" fill="#626262" opacity="0.9"/><polygon points="1016.9,659.5 1235,730 1235,786 1016.9,715.5" fill="#7a7a7a" stroke="#5e5e5e" stroke-width="2.5" stroke-linejoin="round" opacity="0.93"/><polygon points="1235,730 1438.7,665 1438.7,721 1235,786" fill="#6c6c6c" stroke="#565656" stroke-width="2.5" stroke-linejoin="round" opacity="0.93"/><polygon points="1235,730 1438.7,665 1220.6,594.5 1016.9,659.5" fill="#7b7b7b" stroke="#5c5c5c" stroke-width="3" stroke-linejoin="round"/><path d="M1232.8,709.7C1274.5,710.2 1270.5,700.5 1308.5,688.3C1346.5,676.2 1376.9,677.6 1375.4,664.2C1374,650.8 1343.9,651.4 1303.2,638.2C1262.5,625 1264.4,615.4 1222.8,614.8C1181.2,614.3 1185.1,624 1147.1,636.2C1109.1,648.3 1078.8,647 1080.2,660.3C1081.6,673.7 1111.7,673.1 1152.4,686.3C1193.1,699.5 1191.2,709.1 1232.8,709.7Z" fill="#8d8d8d" stroke="#6c6c6c" stroke-width="2"/><path d="M1158,669h4M1191,639h4M1232,680h4M1235,647h4M1183,662h4M1182,655h4M1218,687h4M1291,653h4M1163,659h4M1286,671h4M1214,654h4M1171,668h4M1205,682h4M1216,689h4" stroke="#ababab" stroke-width="4" stroke-linecap="round"/>
<polygon points="356,636.7 554.5,700.9 554.5,804.9 356,740.7" fill="#6f6f6f" opacity="0.9"/><polygon points="567.1,701.1 752.5,641.9 752.5,745.9 567.1,805.1" fill="#626262" opacity="0.9"/><polygon points="342.9,576.5 561,647 561,703 342.9,632.5" fill="#7a7a7a" stroke="#5e5e5e" stroke-width="2.5" stroke-linejoin="round" opacity="0.93"/><polygon points="561,647 764.7,582 764.7,638 561,703" fill="#6c6c6c" stroke="#565656" stroke-width="2.5" stroke-linejoin="round" opacity="0.93"/><polygon points="561,647 764.7,582 546.6,511.5 342.9,576.5" fill="#7b7b7b" stroke="#5c5c5c" stroke-width="3" stroke-linejoin="round"/><path d="M558.8,626.7C600.5,627.2 596.5,617.5 634.5,605.3C672.5,593.2 702.9,594.6 701.4,581.2C700,567.8 669.9,568.4 629.2,555.2C588.5,542 590.4,532.4 548.8,531.8C507.2,531.3 511.1,541 473.1,553.2C435.1,565.3 404.8,564 406.2,577.3C407.6,590.7 437.7,590.1 478.4,603.3C519.1,616.5 517.2,626.1 558.8,626.7Z" fill="#8d8d8d" stroke="#6c6c6c" stroke-width="2"/><path d="M565,586h4M468,578h4M497,597h4M650,581h4M546,573h4M516,601h4M583,574h4M621,585h4M571,604h4M503,562h4M531,565h4M510,574h4M534,602h4M546,564h4" stroke="#ababab" stroke-width="4" stroke-linecap="round"/>
<polygon points="588,711.7 786.5,775.9 786.5,879.9 588,815.7" fill="#6f6f6f" opacity="0.9"/><polygon points="799.1,776.1 984.5,716.9 984.5,820.9 799.1,880.1" fill="#626262" opacity="0.9"/><polygon points="574.9,651.5 793,722 793,778 574.9,707.5" fill="#7a7a7a" stroke="#5e5e5e" stroke-width="2.5" stroke-linejoin="round" opacity="0.93"/><polygon points="793,722 996.7,657 996.7,713 793,778" fill="#6c6c6c" stroke="#565656" stroke-width="2.5" stroke-linejoin="round" opacity="0.93"/><polygon points="793,722 996.7,657 778.6,586.5 574.9,651.5" fill="#7b7b7b" stroke="#5c5c5c" stroke-width="3" stroke-linejoin="round"/><path d="M790.8,701.7C832.5,702.2 828.5,692.5 866.5,680.3C904.5,668.2 934.9,669.6 933.4,656.2C932,642.8 901.9,643.4 861.2,630.2C820.5,617 822.4,607.4 780.8,606.8C739.2,606.3 743.1,616 705.1,628.2C667.1,640.3 636.8,639 638.2,652.3C639.6,665.7 669.7,665.1 710.4,678.3C751.1,691.5 749.2,701.1 790.8,701.7Z" fill="#8d8d8d" stroke="#6c6c6c" stroke-width="2"/><path d="M698,646h4M718,660h4M769,679h4M878,648h4M807,651h4M781,656h4M710,652h4M771,680h4M760,681h4M726,642h4M819,674h4M698,644h4M721,665h4M752,652h4" stroke="#ababab" stroke-width="4" stroke-linecap="round"/>
<polygon points="820,786.7 1018.5,850.9 1018.5,954.9 820,890.7" fill="#6f6f6f" opacity="0.9"/><polygon points="1031.1,851.1 1216.5,791.9 1216.5,895.9 1031.1,955.1" fill="#626262" opacity="0.9"/><polygon points="806.9,726.5 1025,797 1025,853 806.9,782.5" fill="#7a7a7a" stroke="#5e5e5e" stroke-width="2.5" stroke-linejoin="round" opacity="0.93"/><polygon points="1025,797 1228.7,732 1228.7,788 1025,853" fill="#6c6c6c" stroke="#565656" stroke-width="2.5" stroke-linejoin="round" opacity="0.93"/><polygon points="1025,797 1228.7,732 1010.6,661.5 806.9,726.5" fill="#7b7b7b" stroke="#5c5c5c" stroke-width="3" stroke-linejoin="round"/><path d="M1022.8,776.7C1064.5,777.2 1060.5,767.5 1098.5,755.3C1136.5,743.2 1166.9,744.6 1165.4,731.2C1164,717.8 1133.9,718.4 1093.2,705.2C1052.5,692 1054.4,682.4 1012.8,681.8C971.2,681.3 975.1,691 937.1,703.2C899.1,715.3 868.8,714 870.2,727.3C871.6,740.7 901.7,740.1 942.4,753.3C983.1,766.5 981.2,776.1 1022.8,776.7Z" fill="#8d8d8d" stroke="#6c6c6c" stroke-width="2"/><path d="M1040,749h4M1087,741h4M1038,733h4M966,745h4M973,749h4M1019,761h4M969,719h4M1009,754h4M978,707h4M1039,731h4M1128,730h4M1084,725h4M1024,757h4M957,724h4" stroke="#ababab" stroke-width="4" stroke-linecap="round"/>
<polygon points="146,703.7 344.5,767.9 344.5,871.9 146,807.7" fill="#6f6f6f" opacity="0.9"/><polygon points="357.1,768.1 542.5,708.9 542.5,812.9 357.1,872.1" fill="#626262" opacity="0.9"/><polygon points="132.9,643.5 351,714 351,770 132.9,699.5" fill="#7a7a7a" stroke="#5e5e5e" stroke-width="2.5" stroke-linejoin="round" opacity="0.93"/><polygon points="351,714 554.7,649 554.7,705 351,770" fill="#6c6c6c" stroke="#565656" stroke-width="2.5" stroke-linejoin="round" opacity="0.93"/><polygon points="351,714 554.7,649 336.6,578.5 132.9,643.5" fill="#7b7b7b" stroke="#5c5c5c" stroke-width="3" stroke-linejoin="round"/><path d="M348.8,693.7C390.5,694.2 386.5,684.5 424.5,672.3C462.5,660.2 492.9,661.6 491.4,648.2C490,634.8 459.9,635.4 419.2,622.2C378.5,609 380.4,599.4 338.8,598.8C297.2,598.3 301.1,608 263.1,620.2C225.1,632.3 194.8,631 196.2,644.3C197.6,657.7 227.7,657.1 268.4,670.3C309.1,683.5 307.2,693.1 348.8,693.7Z" fill="#8d8d8d" stroke="#6c6c6c" stroke-width="2"/><path d="M341,612h4M344,679h4M353,625h4M387,648h4M343,638h4M395,657h4M349,653h4M309,619h4M390,628h4M366,657h4M349,682h4M362,655h4M282,635h4M339,643h4" stroke="#ababab" stroke-width="4" stroke-linecap="round"/>
<polygon points="378,778.7 576.5,842.9 576.5,946.9 378,882.7" fill="#6f6f6f" opacity="0.9"/><polygon points="589.1,843.1 774.5,783.9 774.5,887.9 589.1,947.1" fill="#626262" opacity="0.9"/><polygon points="364.9,718.5 583,789 583,845 364.9,774.5" fill="#7a7a7a" stroke="#5e5e5e" stroke-width="2.5" stroke-linejoin="round" opacity="0.93"/><polygon points="583,789 786.7,724 786.7,780 583,845" fill="#6c6c6c" stroke="#565656" stroke-width="2.5" stroke-linejoin="round" opacity="0.93"/><polygon points="583,789 786.7,724 568.6,653.5 364.9,718.5" fill="#7b7b7b" stroke="#5c5c5c" stroke-width="3" stroke-linejoin="round"/><path d="M580.8,768.7C622.5,769.2 618.5,759.5 656.5,747.3C694.5,735.2 724.9,736.6 723.4,723.2C722,709.8 691.9,710.4 651.2,697.2C610.5,684 612.4,674.4 570.8,673.8C529.2,673.3 533.1,683 495.1,695.2C457.1,707.3 426.8,706 428.2,719.3C429.6,732.7 459.7,732.1 500.4,745.3C541.1,758.5 539.2,768.1 580.8,768.7Z" fill="#8d8d8d" stroke="#6c6c6c" stroke-width="2"/><path d="M492,721h4M636,721h4M581,723h4M558,704h4M587,755h4M622,712h4M667,731h4M543,714h4M490,714h4M679,725h4M517,737h4M640,710h4M553,735h4M556,749h4" stroke="#ababab" stroke-width="4" stroke-linecap="round"/>
<polygon points="610,853.7 808.5,917.9 808.5,1021.9 610,957.7" fill="#6f6f6f" opacity="0.9"/><polygon points="821.1,918.1 1006.5,858.9 1006.5,962.9 821.1,1022.1" fill="#626262" opacity="0.9"/><polygon points="596.9,793.5 815,864 815,920 596.9,849.5" fill="#7a7a7a" stroke="#5e5e5e" stroke-width="2.5" stroke-linejoin="round" opacity="0.93"/><polygon points="815,864 1018.7,799 1018.7,855 815,920" fill="#6c6c6c" stroke="#565656" stroke-width="2.5" stroke-linejoin="round" opacity="0.93"/><polygon points="815,864 1018.7,799 800.6,728.5 596.9,793.5" fill="#7b7b7b" stroke="#5c5c5c" stroke-width="3" stroke-linejoin="round"/><path d="M812.8,843.7C854.5,844.2 850.5,834.5 888.5,822.3C926.5,810.2 956.9,811.6 955.4,798.2C954,784.8 923.9,785.4 883.2,772.2C842.5,759 844.4,749.4 802.8,748.8C761.2,748.3 765.1,758 727.1,770.2C689.1,782.3 658.8,781 660.2,794.3C661.6,807.7 691.7,807.1 732.4,820.3C773.1,833.5 771.2,843.1 812.8,843.7Z" fill="#8d8d8d" stroke="#6c6c6c" stroke-width="2"/><path d="M816,774h4M828,809h4M821,800h4M864,794h4M795,794h4M854,781h4M752,794h4M852,802h4M796,762h4M794,769h4M758,794h4M831,774h4M853,813h4M787,794h4" stroke="#ababab" stroke-width="4" stroke-linecap="round"/>
<polygon points="138,834 815,1042 830,1226 178,990" fill="#c9c9c9"/>
<polygon points="815,1042 2069,637 2030,790 830,1226" fill="#bebebe"/>
<path d="M198,995l8,16l32,11l4,-14zM268,1021l8,16l32,11l4,-14zM338,1046l8,16l32,11l4,-14zM409,1072l8,16l32,11l4,-14zM479,1097l8,16l32,11l4,-14zM550,1123l8,16l32,11l4,-14zM620,1148l8,16l32,11l4,-14zM690,1173l8,16l32,11l4,-14zM761,1199l8,16l32,11l4,-14z" fill="#d6d6d6" stroke="#bdbdbd" stroke-width="1.5"/>
<polygon points="66,797 815,1012 815,1043 138,836 70,811" fill="#d2d2d2"/>
<polygon points="815,1012 2132,606 2069,638 815,1043" fill="#d6d6d6"/>
<polygon points="66,797 815,1012 815,985 111,781" fill="#e4e4e4" stroke="#cfcfcf" stroke-width="2" stroke-linejoin="round"/>
<polygon points="815,1012 2132,606 2087,590 815,985" fill="#e9e9e9" stroke="#d2d2d2" stroke-width="2" stroke-linejoin="round"/>
<defs>
<g id="sdg0"><path d="M0,0L3,-250" stroke="#72ad48" stroke-width="9" stroke-linecap="round" fill="none"/><ellipse cx="-42" cy="-58" rx="34" ry="10" transform="rotate(-12 -42 -58)" fill="#74ab4b"/><ellipse cx="42" cy="-62" rx="34" ry="10" transform="rotate(10 42 -62)" fill="#74ab4b"/><path d="M0,-138L-91,-175" stroke="#72ad48" stroke-width="6" stroke-linecap="round"/><path d="M-91,-175Q-86,-156 -94,-137L-102,-142Q-103,-128 -119,-123L-130,-126Q-135,-117 -153,-114L-164,-115L-163,-122Q-157,-143 -148,-147L-149,-155Q-140,-172 -126,-170L-128,-180Q-109,-184 -91,-175Z" fill="#74ab4b" stroke="#5f9640" stroke-width="1.5" stroke-linejoin="round"/><path d="M-91,-175Q-110,-181 -120,-197L-114,-203Q-123,-211 -120,-229L-112,-234Q-115,-243 -106,-262L-101,-269L-94,-262Q-81,-247 -84,-237L-76,-234Q-67,-217 -75,-207L-67,-202Q-74,-185 -91,-175Z" fill="#74ab4b" stroke="#5f9640" stroke-width="1.5" stroke-linejoin="round"/><path d="M-88,-173Q-99,-153 -120,-144L-125,-150Q-137,-138 -157,-140L-162,-157Q-174,-146 -192,-155L-198,-166Q-210,-164 -231,-180L-237,-186L-230,-191Q-207,-203 -196,-198L-189,-208Q-168,-215 -158,-204L-152,-218Q-131,-217 -121,-200L-113,-210Q-95,-196 -88,-173Z" fill="#5f9640" stroke="#5f9640" stroke-width="1.5" stroke-linejoin="round"/><path d="M-91,-174L-229,-185M-138,-148L-110,-175L-133,-206M-175,-155L-147,-178L-170,-206M-211,-170L-184,-182L-209,-197" fill="none" stroke="#9fcb76" stroke-width="3" stroke-linecap="round" stroke-linejoin="round"/><path d="M0,-162L97,-189" stroke="#72ad48" stroke-width="6" stroke-linecap="round"/><path d="M97,-189Q81,-201 76,-220L86,-223Q78,-234 86,-251L97,-253Q96,-263 111,-278L119,-282L123,-275Q130,-255 125,-247L132,-240Q134,-221 122,-214L128,-208Q117,-193 97,-189Z" fill="#5f9640" stroke="#5f9640" stroke-width="1.5" stroke-linejoin="round"/><path d="M97,-189Q116,-195 135,-190L132,-179Q146,-179 154,-165L151,-153Q159,-148 163,-128L163,-119L155,-119Q134,-124 130,-134L120,-130Q104,-140 104,-153L95,-152Q90,-171 97,-189Z" fill="#5f9640" stroke="#5f9640" stroke-width="1.5" stroke-linejoin="round"/><path d="M93,-188Q104,-209 124,-219L130,-211Q143,-226 163,-225L168,-209Q181,-220 200,-209L206,-200Q218,-202 237,-190L246,-181L238,-176Q217,-163 205,-167L198,-156Q178,-149 166,-158L159,-148Q139,-146 128,-160L121,-151Q102,-166 93,-188Z" fill="#74ab4b" stroke="#5f9640" stroke-width="1.5" stroke-linejoin="round"/><path d="M96,-188L238,-182M143,-216L116,-187L141,-156M181,-210L154,-185L179,-158M219,-197L193,-184L218,-169" fill="none" stroke="#9fcb76" stroke-width="3" stroke-linecap="round" stroke-linejoin="round"/><path d="M0,-220L-73,-261" stroke="#72ad48" stroke-width="6" stroke-linecap="round"/><path d="M-73,-261Q-71,-245 -78,-231L-85,-233Q-88,-223 -102,-219L-110,-223Q-116,-217 -132,-217L-141,-218L-139,-225Q-132,-242 -124,-244L-124,-250Q-114,-264 -103,-260L-105,-270Q-87,-271 -73,-261Z" fill="#5f9640" stroke="#5f9640" stroke-width="1.5" stroke-linejoin="round"/><path d="M-73,-261Q-88,-268 -96,-283L-88,-287Q-96,-295 -92,-309L-84,-314Q-86,-322 -75,-337L-71,-341L-65,-335Q-57,-321 -60,-313L-53,-308Q-48,-294 -57,-286L-51,-282Q-58,-268 -73,-261Z" fill="#5f9640" stroke="#5f9640" stroke-width="1.5" stroke-linejoin="round"/><path d="M-70,-259Q-81,-243 -102,-235L-103,-245Q-116,-235 -132,-240L-135,-251Q-146,-245 -160,-256L-164,-265Q-175,-265 -190,-280L-195,-286L-188,-289Q-168,-297 -159,-292L-153,-299Q-134,-304 -126,-293L-118,-303Q-102,-301 -94,-287L-89,-293Q-74,-279 -70,-259Z" fill="#74ab4b" stroke="#5f9640" stroke-width="1.5" stroke-linejoin="round"/><path d="M-72,-260L-188,-285M-115,-244L-88,-263L-104,-292M-145,-253L-120,-270L-136,-296M-175,-270L-151,-277L-170,-293" fill="none" stroke="#9fcb76" stroke-width="3" stroke-linecap="round" stroke-linejoin="round"/><path d="M0,-230L75,-267" stroke="#72ad48" stroke-width="6" stroke-linecap="round"/><path d="M75,-267Q61,-274 54,-288L61,-293Q52,-301 59,-317L65,-319Q63,-327 74,-343L78,-347L82,-342Q92,-326 89,-319L96,-314Q101,-299 92,-292L100,-288Q91,-273 75,-267Z" fill="#5f9640" stroke="#5f9640" stroke-width="1.5" stroke-linejoin="round"/><path d="M75,-267Q90,-275 106,-273L106,-266Q117,-267 125,-255L125,-246Q133,-244 139,-228L140,-220L134,-219Q115,-220 111,-227L104,-223Q88,-228 87,-239L79,-235Q72,-251 75,-267Z" fill="#5f9640" stroke="#5f9640" stroke-width="1.5" stroke-linejoin="round"/><path d="M72,-265Q77,-284 92,-298L98,-291Q106,-304 124,-305L130,-295Q138,-305 157,-300L163,-292Q172,-297 191,-289L198,-284L194,-279Q177,-265 167,-266L164,-255Q147,-246 136,-253L134,-242Q116,-238 105,-248L103,-239Q82,-248 72,-265Z" fill="#74ab4b" stroke="#5f9640" stroke-width="1.5" stroke-linejoin="round"/><path d="M74,-266L192,-283M109,-296L91,-268L116,-247M141,-298L122,-273L147,-255M174,-292L154,-278L177,-269" fill="none" stroke="#9fcb76" stroke-width="3" stroke-linecap="round" stroke-linejoin="round"/><path d="M0,-245L7,-297" stroke="#72ad48" stroke-width="6" stroke-linecap="round"/><path d="M7,-297Q-2,-292 -11,-293L-12,-298Q-18,-297 -25,-305L-23,-310Q-28,-312 -32,-322L-33,-326L-29,-327Q-18,-326 -15,-322L-9,-324Q-1,-321 0,-314L5,-316Q10,-307 7,-297Z" fill="#5f9640" stroke="#5f9640" stroke-width="1.5" stroke-linejoin="round"/><path d="M7,-297Q8,-307 15,-315L19,-312Q22,-318 33,-318L36,-315Q39,-318 51,-315L54,-314L52,-310Q46,-301 41,-301L40,-297Q32,-290 26,-293L25,-288Q14,-290 7,-297Z" fill="#5f9640" stroke="#5f9640" stroke-width="1.5" stroke-linejoin="round"/><path d="M7,-293Q-1,-302 -3,-315L2,-316Q-1,-325 3,-334L11,-335Q9,-342 18,-350L24,-351Q26,-357 37,-365L41,-367L43,-363Q44,-348 40,-343L43,-338Q43,-326 35,-323L40,-318Q37,-307 27,-305L30,-300Q19,-293 7,-293Z" fill="#74ab4b" stroke="#5f9640" stroke-width="1.5" stroke-linejoin="round"/><path d="M7,-294L40,-363M4,-323L12,-304L32,-310M14,-341L21,-322L39,-329M29,-356L29,-341L42,-350" fill="none" stroke="#9fcb76" stroke-width="3" stroke-linecap="round" stroke-linejoin="round"/></g>
<g id="sdg1"><path d="M0,0L-2,-250" stroke="#72ad48" stroke-width="9" stroke-linecap="round" fill="none"/><ellipse cx="-42" cy="-58" rx="34" ry="10" transform="rotate(-12 -42 -58)" fill="#74ab4b"/><ellipse cx="42" cy="-62" rx="34" ry="10" transform="rotate(10 42 -62)" fill="#74ab4b"/><path d="M0,-138L-98,-150" stroke="#72ad48" stroke-width="6" stroke-linecap="round"/><path d="M-98,-150Q-88,-134 -91,-116L-100,-115Q-97,-102 -112,-90L-122,-92Q-125,-83 -146,-75L-152,-74L-154,-83Q-153,-103 -144,-108L-149,-118Q-144,-135 -131,-137L-136,-145Q-117,-154 -98,-150Z" fill="#5f9640" stroke="#5f9640" stroke-width="1.5" stroke-linejoin="round"/><path d="M-98,-150Q-117,-151 -132,-165L-126,-172Q-138,-177 -139,-194L-133,-202Q-139,-210 -134,-230L-131,-238L-123,-235Q-106,-222 -106,-213L-96,-211Q-85,-197 -91,-185L-82,-182Q-84,-164 -98,-150Z" fill="#5f9640" stroke="#5f9640" stroke-width="1.5" stroke-linejoin="round"/><path d="M-94,-150Q-99,-127 -119,-111L-124,-119Q-133,-103 -154,-101L-161,-111Q-171,-101 -192,-106L-199,-115Q-210,-110 -232,-119L-241,-124L-234,-132Q-217,-147 -205,-147L-200,-159Q-183,-170 -170,-163L-167,-176Q-147,-181 -133,-169L-130,-179Q-107,-169 -94,-150Z" fill="#74ab4b" stroke="#5f9640" stroke-width="1.5" stroke-linejoin="round"/><path d="M-97,-149L-234,-125M-136,-113L-116,-146L-146,-170M-173,-110L-153,-139L-182,-160M-212,-115L-190,-133L-217,-142" fill="none" stroke="#9fcb76" stroke-width="3" stroke-linecap="round" stroke-linejoin="round"/><path d="M0,-162L97,-188" stroke="#72ad48" stroke-width="6" stroke-linecap="round"/><path d="M97,-188Q82,-200 77,-219L85,-223Q78,-234 88,-250L98,-252Q97,-262 111,-276L119,-282L124,-274Q131,-254 127,-246L132,-240Q135,-221 122,-214L130,-206Q117,-192 97,-188Z" fill="#5f9640" stroke="#5f9640" stroke-width="1.5" stroke-linejoin="round"/><path d="M97,-188Q116,-195 136,-187L132,-179Q146,-179 153,-161L150,-151Q159,-147 163,-127L163,-118L153,-119Q133,-123 130,-133L118,-130Q103,-139 103,-152L96,-151Q90,-170 97,-188Z" fill="#5f9640" stroke="#5f9640" stroke-width="1.5" stroke-linejoin="round"/><path d="M94,-187Q104,-209 125,-219L131,-210Q143,-225 165,-222L169,-207Q181,-219 201,-208L206,-198Q218,-201 238,-187L246,-180L236,-172Q217,-162 205,-166L200,-155Q178,-147 166,-159L161,-146Q139,-145 128,-160L121,-152Q102,-165 94,-187Z" fill="#74ab4b" stroke="#5f9640" stroke-width="1.5" stroke-linejoin="round"/><path d="M97,-187L238,-180M144,-215L116,-186L141,-155M182,-209L155,-184L179,-157M219,-195L193,-182L218,-167" fill="none" stroke="#9fcb76" stroke-width="3" stroke-linecap="round" stroke-linejoin="round"/><path d="M0,-220L-66,-271" stroke="#72ad48" stroke-width="6" stroke-linecap="round"/><path d="M-66,-271Q-66,-255 -77,-242L-83,-247Q-87,-236 -101,-234L-109,-239Q-115,-233 -132,-236L-139,-239L-136,-245Q-127,-260 -119,-260L-118,-269Q-107,-280 -97,-276L-94,-284Q-79,-282 -66,-271Z" fill="#5f9640" stroke="#5f9640" stroke-width="1.5" stroke-linejoin="round"/><path d="M-66,-271Q-80,-281 -86,-295L-79,-299Q-85,-308 -77,-322L-69,-325Q-71,-333 -58,-347L-53,-350L-49,-343Q-42,-328 -45,-321L-40,-315Q-37,-300 -47,-294L-41,-288Q-50,-275 -66,-271Z" fill="#5f9640" stroke="#5f9640" stroke-width="1.5" stroke-linejoin="round"/><path d="M-63,-269Q-77,-255 -97,-252L-99,-258Q-112,-251 -129,-259L-129,-269Q-141,-266 -154,-277L-156,-289Q-166,-290 -178,-305L-183,-313L-174,-316Q-155,-320 -147,-314L-138,-321Q-120,-322 -114,-310L-106,-317Q-89,-314 -84,-300L-77,-307Q-64,-289 -63,-269Z" fill="#74ab4b" stroke="#5f9640" stroke-width="1.5" stroke-linejoin="round"/><path d="M-66,-270L-177,-311M-110,-260L-81,-276L-93,-306M-139,-274L-111,-287L-124,-315M-166,-294L-141,-298L-158,-316" fill="none" stroke="#9fcb76" stroke-width="3" stroke-linecap="round" stroke-linejoin="round"/><path d="M0,-230L75,-267" stroke="#72ad48" stroke-width="6" stroke-linecap="round"/><path d="M75,-267Q60,-275 54,-290L60,-293Q52,-301 56,-316L64,-320Q62,-328 72,-342L77,-347L83,-341Q91,-327 88,-319L96,-314Q100,-300 92,-293L98,-289Q90,-274 75,-267Z" fill="#74ab4b" stroke="#5f9640" stroke-width="1.5" stroke-linejoin="round"/><path d="M75,-267Q89,-276 107,-274L106,-266Q116,-268 126,-255L124,-247Q133,-245 139,-228L140,-221L133,-220Q116,-221 110,-227L103,-225Q88,-228 86,-239L78,-236Q72,-251 75,-267Z" fill="#74ab4b" stroke="#5f9640" stroke-width="1.5" stroke-linejoin="round"/><path d="M72,-266Q77,-285 91,-298L98,-290Q106,-305 123,-306L130,-296Q138,-306 157,-301L162,-293Q172,-298 191,-290L198,-286L193,-280Q177,-266 166,-267L162,-256Q147,-248 136,-254L133,-243Q116,-239 105,-249L102,-242Q82,-249 72,-266Z" fill="#5f9640" stroke="#5f9640" stroke-width="1.5" stroke-linejoin="round"/><path d="M74,-266L192,-285M108,-297L91,-269L116,-248M140,-299L122,-274L147,-256M173,-294L154,-279L177,-271" fill="none" stroke="#9fcb76" stroke-width="3" stroke-linecap="round" stroke-linejoin="round"/><path d="M0,-245L25,-291" stroke="#72ad48" stroke-width="6" stroke-linecap="round"/><path d="M25,-291Q15,-290 6,-294L7,-299Q1,-300 -2,-310L0,-314Q-4,-317 -4,-329L-3,-333L1,-332Q11,-328 13,-322L18,-324Q26,-317 24,-310L29,-310Q30,-300 25,-291Z" fill="#74ab4b" stroke="#5f9640" stroke-width="1.5" stroke-linejoin="round"/><path d="M25,-291Q29,-301 39,-306L41,-301Q46,-306 55,-303L57,-299Q62,-300 71,-295L75,-291L71,-288Q62,-282 57,-284L55,-279Q45,-276 41,-282L38,-277Q29,-282 25,-291Z" fill="#74ab4b" stroke="#5f9640" stroke-width="1.5" stroke-linejoin="round"/><path d="M23,-288Q18,-299 21,-312L27,-311Q26,-321 34,-328L42,-325Q42,-333 54,-338L60,-336Q62,-342 76,-345L80,-345L80,-339Q77,-327 71,-324L72,-317Q68,-307 61,-306L63,-301Q56,-291 45,-292L48,-287Q34,-283 23,-288Z" fill="#5f9640" stroke="#5f9640" stroke-width="1.5" stroke-linejoin="round"/><path d="M24,-289L78,-342M30,-317L31,-296L52,-295M46,-330L46,-311L65,-311M65,-340L60,-325L75,-330" fill="none" stroke="#9fcb76" stroke-width="3" stroke-linecap="round" stroke-linejoin="round"/></g>
<g id="sdg2"><path d="M0,0L2,-250" stroke="#72ad48" stroke-width="9" stroke-linecap="round" fill="none"/><ellipse cx="-42" cy="-58" rx="34" ry="10" transform="rotate(-12 -42 -58)" fill="#74ab4b"/><ellipse cx="42" cy="-62" rx="34" ry="10" transform="rotate(10 42 -62)" fill="#74ab4b"/><path d="M0,-138L-93,-172" stroke="#72ad48" stroke-width="6" stroke-linecap="round"/><path d="M-93,-172Q-87,-153 -96,-135L-102,-137Q-103,-125 -118,-117L-130,-121Q-134,-112 -156,-109L-163,-109L-162,-119Q-157,-138 -147,-141L-150,-152Q-141,-167 -127,-166L-131,-176Q-110,-180 -93,-172Z" fill="#74ab4b" stroke="#5f9640" stroke-width="1.5" stroke-linejoin="round"/><path d="M-93,-172Q-111,-177 -122,-194L-114,-199Q-126,-207 -121,-226L-114,-231Q-119,-239 -111,-257L-105,-265L-97,-258Q-85,-244 -87,-234L-78,-230Q-70,-214 -77,-204L-71,-199Q-76,-182 -93,-172Z" fill="#74ab4b" stroke="#5f9640" stroke-width="1.5" stroke-linejoin="round"/><path d="M-89,-170Q-99,-150 -118,-139L-125,-148Q-137,-133 -157,-139L-162,-148Q-175,-140 -195,-150L-199,-160Q-211,-157 -230,-171L-238,-178L-230,-184Q-209,-196 -198,-191L-193,-201Q-171,-210 -160,-200L-153,-210Q-133,-212 -123,-199L-116,-205Q-97,-192 -89,-170Z" fill="#5f9640" stroke="#5f9640" stroke-width="1.5" stroke-linejoin="round"/><path d="M-92,-171L-231,-178M-138,-144L-111,-172L-135,-202M-175,-149L-149,-173L-173,-200M-212,-163L-186,-175L-211,-190" fill="none" stroke="#9fcb76" stroke-width="3" stroke-linecap="round" stroke-linejoin="round"/><path d="M0,-162L93,-201" stroke="#72ad48" stroke-width="6" stroke-linecap="round"/><path d="M93,-201Q76,-211 68,-228L78,-233Q68,-244 75,-260L84,-265Q83,-274 96,-291L102,-297L108,-289Q118,-271 114,-262L122,-257Q126,-238 115,-230L122,-222Q112,-207 93,-201Z" fill="#5f9640" stroke="#5f9640" stroke-width="1.5" stroke-linejoin="round"/><path d="M93,-201Q111,-210 131,-205L130,-197Q142,-198 153,-182L150,-172Q160,-169 166,-149L167,-140L160,-139Q137,-142 133,-150L125,-147Q106,-153 104,-166L97,-163Q88,-182 93,-201Z" fill="#5f9640" stroke="#5f9640" stroke-width="1.5" stroke-linejoin="round"/><path d="M89,-199Q97,-222 117,-237L123,-229Q134,-244 155,-244L161,-232Q172,-242 193,-237L200,-225Q211,-230 235,-218L242,-212L234,-204Q215,-190 203,-194L199,-182Q178,-171 165,-180L162,-169Q140,-163 128,-175L121,-167Q101,-179 89,-199Z" fill="#74ab4b" stroke="#5f9640" stroke-width="1.5" stroke-linejoin="round"/><path d="M93,-200L234,-212M136,-233L112,-201L141,-174M174,-233L150,-205L178,-181M213,-224L188,-208L215,-196" fill="none" stroke="#9fcb76" stroke-width="3" stroke-linecap="round" stroke-linejoin="round"/><path d="M0,-220L-69,-268" stroke="#72ad48" stroke-width="6" stroke-linecap="round"/><path d="M-69,-268Q-68,-252 -79,-239L-84,-242Q-88,-232 -104,-230L-110,-234Q-116,-228 -134,-230L-140,-232L-137,-239Q-129,-254 -121,-255L-121,-265Q-109,-275 -99,-271L-97,-279Q-81,-279 -69,-268Z" fill="#5f9640" stroke="#5f9640" stroke-width="1.5" stroke-linejoin="round"/><path d="M-69,-268Q-83,-277 -88,-292L-81,-296Q-88,-304 -80,-319L-74,-322Q-76,-330 -64,-343L-59,-348L-55,-342Q-47,-326 -51,-319L-43,-312Q-41,-298 -51,-292L-43,-287Q-53,-273 -69,-268Z" fill="#5f9640" stroke="#5f9640" stroke-width="1.5" stroke-linejoin="round"/><path d="M-65,-266Q-79,-251 -98,-245L-100,-255Q-114,-246 -128,-253L-131,-264Q-143,-260 -158,-274L-159,-282Q-169,-282 -182,-297L-187,-305L-180,-308Q-159,-313 -151,-307L-144,-314Q-125,-316 -119,-304L-111,-315Q-93,-310 -88,-295L-82,-303Q-67,-286 -65,-266Z" fill="#74ab4b" stroke="#5f9640" stroke-width="1.5" stroke-linejoin="round"/><path d="M-68,-267L-181,-303M-112,-255L-84,-272L-97,-302M-141,-268L-114,-282L-128,-309M-169,-287L-145,-291L-162,-309" fill="none" stroke="#9fcb76" stroke-width="3" stroke-linecap="round" stroke-linejoin="round"/><path d="M0,-230L71,-274" stroke="#72ad48" stroke-width="6" stroke-linecap="round"/><path d="M71,-274Q56,-280 49,-293L53,-299Q45,-306 50,-320L57,-326Q53,-333 62,-348L66,-354L71,-350Q82,-335 80,-327L86,-324Q93,-309 85,-301L92,-298Q86,-282 71,-274Z" fill="#5f9640" stroke="#5f9640" stroke-width="1.5" stroke-linejoin="round"/><path d="M71,-274Q85,-284 100,-282L102,-276Q112,-278 123,-267L123,-259Q131,-257 139,-240L141,-234L134,-232Q116,-231 111,-238L104,-234Q88,-237 86,-248L80,-244Q70,-258 71,-274Z" fill="#5f9640" stroke="#5f9640" stroke-width="1.5" stroke-linejoin="round"/><path d="M68,-272Q71,-292 86,-307L92,-300Q98,-315 116,-316L123,-308Q130,-319 148,-315L156,-308Q165,-314 184,-307L192,-304L187,-296Q173,-282 162,-282L160,-272Q145,-261 133,-268L131,-254Q115,-249 103,-258L101,-250Q80,-256 68,-272Z" fill="#74ab4b" stroke="#5f9640" stroke-width="1.5" stroke-linejoin="round"/><path d="M70,-273L186,-302M102,-306L87,-277L114,-258M133,-311L118,-285L144,-269M167,-309L149,-293L172,-287" fill="none" stroke="#9fcb76" stroke-width="3" stroke-linecap="round" stroke-linejoin="round"/><path d="M0,-245L-16,-295" stroke="#72ad48" stroke-width="6" stroke-linecap="round"/><path d="M-16,-295Q-22,-286 -33,-284L-34,-287Q-39,-284 -48,-289L-50,-294Q-55,-292 -63,-300L-66,-303L-62,-306Q-52,-310 -47,-308L-45,-312Q-34,-313 -30,-307L-27,-311Q-19,-305 -16,-295Z" fill="#74ab4b" stroke="#5f9640" stroke-width="1.5" stroke-linejoin="round"/><path d="M-16,-295Q-20,-304 -17,-315L-12,-313Q-13,-320 -4,-325L1,-323Q3,-328 15,-331L18,-331L18,-326Q16,-316 11,-313L12,-308Q9,-299 2,-299L2,-295Q-7,-291 -16,-295Z" fill="#74ab4b" stroke="#5f9640" stroke-width="1.5" stroke-linejoin="round"/><path d="M-15,-291Q-27,-289 -40,-294L-36,-299Q-47,-300 -52,-309L-49,-315Q-57,-318 -60,-330L-56,-335Q-62,-339 -63,-353L-62,-357L-56,-356Q-45,-351 -43,-344L-37,-345Q-26,-339 -27,-331L-21,-332Q-13,-324 -16,-314L-10,-314Q-9,-302 -15,-291Z" fill="#5f9640" stroke="#5f9640" stroke-width="1.5" stroke-linejoin="round"/><path d="M-16,-292L-60,-354M-43,-303L-22,-301L-18,-321M-53,-321L-34,-318L-31,-337M-60,-341L-46,-334L-48,-350" fill="none" stroke="#9fcb76" stroke-width="3" stroke-linecap="round" stroke-linejoin="round"/></g>
<g id="sdm"><path d="M0,0L0,-220" stroke="#b62874" stroke-width="9" stroke-linecap="round" fill="none"/><ellipse cx="-42" cy="-58" rx="34" ry="10" transform="rotate(-12 -42 -58)" fill="#b62874"/><ellipse cx="42" cy="-62" rx="34" ry="10" transform="rotate(10 42 -62)" fill="#b62874"/><path d="M0,-121L-74,-148" stroke="#b62874" stroke-width="6" stroke-linecap="round"/><path d="M-74,-148Q-69,-133 -75,-120L-82,-120Q-82,-110 -96,-103L-103,-106Q-107,-100 -122,-97L-130,-97L-129,-105Q-125,-120 -118,-123L-120,-130Q-113,-144 -102,-143L-104,-150Q-88,-154 -74,-148Z" fill="#b62874" stroke="#a01f66" stroke-width="1.5" stroke-linejoin="round"/><path d="M-74,-148Q-89,-152 -98,-166L-93,-169Q-101,-176 -99,-191L-92,-195Q-96,-202 -89,-217L-85,-222L-80,-219Q-69,-206 -71,-198L-63,-195Q-56,-182 -62,-174L-57,-172Q-61,-156 -74,-148Z" fill="#b62874" stroke="#a01f66" stroke-width="1.5" stroke-linejoin="round"/><path d="M-71,-146Q-79,-130 -95,-121L-100,-128Q-109,-116 -127,-118L-130,-128Q-139,-121 -155,-129L-159,-138Q-169,-135 -185,-146L-191,-152L-185,-156Q-168,-166 -158,-162L-155,-170Q-137,-177 -128,-168L-125,-178Q-107,-180 -98,-168L-94,-176Q-77,-164 -71,-146Z" fill="#a01f66" stroke="#a01f66" stroke-width="1.5" stroke-linejoin="round"/><path d="M-73,-147L-185,-151M-110,-125L-89,-147L-108,-171M-140,-129L-119,-148L-138,-170M-170,-140L-149,-150L-169,-162" fill="none" stroke="#cf5798" stroke-width="3" stroke-linecap="round" stroke-linejoin="round"/><path d="M0,-146L77,-171" stroke="#b62874" stroke-width="6" stroke-linecap="round"/><path d="M77,-171Q64,-180 59,-194L67,-198Q59,-206 66,-219L74,-222Q73,-230 85,-243L90,-247L94,-240Q101,-225 96,-218L104,-212Q105,-198 96,-192L100,-187Q92,-175 77,-171Z" fill="#a01f66" stroke="#a01f66" stroke-width="1.5" stroke-linejoin="round"/><path d="M77,-171Q91,-177 107,-172L106,-166Q116,-165 123,-153L121,-145Q128,-141 132,-124L132,-118L124,-118Q108,-121 105,-128L98,-126Q84,-132 83,-142L76,-141Q71,-156 77,-171Z" fill="#a01f66" stroke="#a01f66" stroke-width="1.5" stroke-linejoin="round"/><path d="M73,-170Q80,-187 97,-198L102,-190Q111,-202 129,-202L132,-189Q142,-199 157,-193L163,-184Q173,-187 190,-176L196,-171L189,-166Q173,-155 163,-158L158,-150Q142,-142 133,-150L129,-140Q112,-138 102,-149L99,-143Q81,-152 73,-170Z" fill="#b62874" stroke="#a01f66" stroke-width="1.5" stroke-linejoin="round"/><path d="M75,-170L190,-171M112,-194L91,-170L112,-146M143,-191L122,-170L143,-150M173,-182L153,-171L174,-160" fill="none" stroke="#cf5798" stroke-width="3" stroke-linecap="round" stroke-linejoin="round"/><path d="M0,-190L-52,-232" stroke="#b62874" stroke-width="6" stroke-linecap="round"/><path d="M-52,-232Q-52,-219 -60,-209L-66,-212Q-69,-204 -82,-203L-87,-207Q-92,-203 -105,-205L-111,-207L-109,-212Q-101,-224 -95,-225L-94,-230Q-84,-239 -76,-235L-76,-241Q-62,-241 -52,-232Z" fill="#a01f66" stroke="#a01f66" stroke-width="1.5" stroke-linejoin="round"/><path d="M-52,-232Q-63,-240 -66,-251L-61,-254Q-66,-262 -61,-273L-54,-275Q-55,-282 -45,-292L-40,-295L-37,-290Q-32,-277 -36,-271L-31,-266Q-28,-255 -36,-250L-31,-246Q-39,-235 -52,-232Z" fill="#a01f66" stroke="#a01f66" stroke-width="1.5" stroke-linejoin="round"/><path d="M-49,-230Q-61,-218 -78,-217L-78,-224Q-89,-216 -101,-222L-102,-232Q-112,-229 -124,-240L-124,-247Q-132,-248 -142,-262L-145,-268L-140,-269Q-122,-273 -116,-267L-110,-273Q-94,-273 -89,-265L-84,-271Q-69,-267 -66,-253L-60,-258Q-50,-246 -49,-230Z" fill="#b62874" stroke="#a01f66" stroke-width="1.5" stroke-linejoin="round"/><path d="M-51,-230L-140,-266M-87,-223L-64,-235L-73,-260M-110,-235L-88,-245L-97,-267M-131,-252L-111,-254L-124,-269" fill="none" stroke="#cf5798" stroke-width="3" stroke-linecap="round" stroke-linejoin="round"/><path d="M0,-200L60,-231" stroke="#b62874" stroke-width="6" stroke-linecap="round"/><path d="M60,-231Q48,-236 41,-249L47,-251Q41,-258 45,-269L51,-273Q48,-279 57,-291L60,-295L64,-290Q72,-279 70,-273L75,-268Q79,-257 73,-251L77,-247Q72,-236 60,-231Z" fill="#b62874" stroke="#a01f66" stroke-width="1.5" stroke-linejoin="round"/><path d="M60,-231Q71,-238 84,-235L84,-230Q93,-232 100,-221L99,-215Q106,-213 111,-200L112,-195L106,-194Q93,-194 88,-199L83,-197Q71,-200 69,-209L64,-206Q57,-218 60,-231Z" fill="#b62874" stroke="#a01f66" stroke-width="1.5" stroke-linejoin="round"/><path d="M56,-229Q60,-245 73,-257L77,-251Q83,-261 97,-262L102,-255Q109,-263 125,-258L129,-253Q136,-257 153,-250L157,-247L153,-242Q141,-231 133,-232L130,-224Q117,-216 108,-222L107,-213Q93,-208 83,-216L81,-210Q65,-216 56,-229Z" fill="#a01f66" stroke="#a01f66" stroke-width="1.5" stroke-linejoin="round"/><path d="M58,-229L152,-246M85,-254L71,-232L92,-215M111,-257L97,-236L117,-222M138,-253L122,-241L141,-235" fill="none" stroke="#cf5798" stroke-width="3" stroke-linecap="round" stroke-linejoin="round"/><path d="M0,-215L3,-257" stroke="#b62874" stroke-width="6" stroke-linecap="round"/><path d="M3,-257Q-4,-252 -11,-253L-12,-257Q-17,-256 -22,-262L-22,-266Q-26,-267 -29,-275L-31,-278L-27,-279Q-18,-279 -16,-276L-12,-278Q-4,-276 -3,-271L0,-272Q4,-265 3,-257Z" fill="#a01f66" stroke="#a01f66" stroke-width="1.5" stroke-linejoin="round"/><path d="M3,-257Q3,-265 9,-272L12,-270Q14,-275 21,-275L25,-273Q28,-276 36,-274L40,-273L38,-269Q34,-262 29,-262L29,-258Q23,-252 18,-255L18,-251Q9,-251 3,-257Z" fill="#a01f66" stroke="#a01f66" stroke-width="1.5" stroke-linejoin="round"/><path d="M3,-253Q-4,-260 -5,-270L-1,-271Q-5,-278 -1,-286L4,-287Q3,-293 10,-300L14,-300Q15,-306 24,-312L27,-314L28,-309Q30,-300 26,-296L30,-292Q30,-282 24,-279L28,-274Q26,-266 18,-264L22,-260Q13,-253 3,-253Z" fill="#b62874" stroke="#a01f66" stroke-width="1.5" stroke-linejoin="round"/><path d="M3,-254L26,-311M-1,-277L7,-262L22,-268M6,-292L13,-277L27,-284M17,-305L19,-293L28,-301" fill="none" stroke="#cf5798" stroke-width="3" stroke-linecap="round" stroke-linejoin="round"/></g>
</defs>
<use href="#sdm" transform="translate(1394,323) scale(-0.80,0.80)"/>
<use href="#sdg2" transform="translate(1626,398) scale(0.70,0.70)"/>
<use href="#sdg1" transform="translate(1858,473) scale(-0.74,0.74)"/>
<use href="#sdg1" transform="translate(1184,390) scale(0.74,0.74)"/>
<use href="#sdg0" transform="translate(1416,465) scale(-0.80,0.80)"/>
<use href="#sdg2" transform="translate(1648,540) scale(0.94,0.94)"/>
<use href="#sdg2" transform="translate(974,457) scale(-0.76,0.76)"/>
<use href="#sdg1" transform="translate(1206,532) scale(0.86,0.86)"/>
<use href="#sdg0" transform="translate(1438,607) scale(-0.86,0.86)"/>
<use href="#sdg0" transform="translate(764,524) scale(0.76,0.76)"/>
<use href="#sdg2" transform="translate(996,599) scale(-0.88,0.88)"/>
<use href="#sdg1" transform="translate(1228,674) scale(0.86,0.86)"/>
<use href="#sdg1" transform="translate(554,591) scale(-0.78,0.78)"/>
<use href="#sdg0" transform="translate(786,666) scale(0.90,0.90)"/>
<use href="#sdm" transform="translate(1018,741) scale(-1.02,1.02)"/>
<use href="#sdm" transform="translate(344,658) scale(0.98,0.98)"/>
<use href="#sdg1" transform="translate(576,733) scale(-1.20,1.20)"/>
<use href="#sdg0" transform="translate(808,808) scale(1.06,1.06)"/></g>
<path d="M2367.8,1780.5L2585,1549.2" stroke="url(#ptr1)" stroke-width="2.5" fill="none"/>
<path d="M2370,1792L2689.2,1811.5" stroke="url(#ptr2)" stroke-width="2.5" fill="none"/>
<circle cx="2698.8" cy="1656" r="156" fill="#fff" stroke="#111" stroke-width="3.6"/>
<line x1="2553.3" y1="1609.5" x2="2553.3" y2="1686.5" stroke="#7a3f93" stroke-width="4"/>
<line x1="2610.9" y1="1609.5" x2="2610.9" y2="1686.5" stroke="#7a3f93" stroke-width="4"/>
<line x1="2629.5" y1="1609.5" x2="2629.5" y2="1686.5" stroke="#7a3f93" stroke-width="4"/>
<line x1="2685.9" y1="1609.5" x2="2685.9" y2="1686.5" stroke="#7a3f93" stroke-width="4"/>
<line x1="2704.3" y1="1609.5" x2="2704.3" y2="1686.5" stroke="#7a3f93" stroke-width="4"/>
<line x1="2760.9" y1="1609.5" x2="2760.9" y2="1686.5" stroke="#7a3f93" stroke-width="4"/>
<line x1="2780" y1="1609.5" x2="2780" y2="1686.5" stroke="#7a3f93" stroke-width="4"/>
<line x1="2837.7" y1="1609.5" x2="2837.7" y2="1686.5" stroke="#7a3f93" stroke-width="4"/>
<path d="M2548,1610.2L2550.4,1612.7L2552.7,1615.6L2555.1,1618.7L2557.5,1622.2L2559.8,1625.9L2562.2,1629.9L2564.6,1634L2566.9,1638.3L2569.3,1642.6L2571.7,1647L2574,1651.5L2576.4,1655.9L2578.8,1660.2L2581.1,1664.4L2583.5,1668.4L2585.9,1672.2L2588.2,1675.8L2590.6,1679.1L2593,1682.1L2595.3,1684.8L2597.7,1687.1L2600.1,1689L2602.4,1690.5L2604.8,1691.6L2607.2,1692.3L2609.5,1692.5L2611.9,1692.3L2614.3,1691.6L2616.6,1690.5L2619,1689L2621.4,1687.1L2623.7,1684.8L2626.1,1682.2L2628.5,1679.2L2630.8,1675.9L2633.2,1672.3L2635.6,1668.4L2637.9,1664.4L2640.3,1660.2L2642.7,1655.9L2645,1651.5L2647.4,1647.1L2649.8,1642.7L2652.1,1638.3L2654.5,1634.1L2656.9,1629.9L2659.2,1626L2661.6,1622.3L2664,1618.8L2666.3,1615.6L2668.7,1612.7L2671.1,1610.2L2673.4,1608.1L2675.8,1606.3L2678.2,1605L2680.5,1604.1L2682.9,1603.6L2685.3,1603.5L2687.6,1603.9L2690,1604.8" fill="none" stroke="#7a3f93" stroke-width="11.5" stroke-linecap="round" stroke-linejoin="round"/>
<path d="M2705,1619.3L2707.3,1622.8L2709.7,1626.5L2712,1630.4L2714.3,1634.5L2716.7,1638.7L2719,1643L2721.3,1647.4L2723.7,1651.7L2726,1656L2728.3,1660.3L2730.7,1664.4L2733,1668.4L2735.3,1672.2L2737.7,1675.7L2740,1679L2742.3,1682L2744.7,1684.6L2747,1686.9L2749.3,1688.8L2751.7,1690.4L2754,1691.5L2756.3,1692.2L2758.7,1692.5L2761,1692.4L2763.3,1691.8L2765.7,1690.8L2768,1689.4L2770.3,1687.6L2772.7,1685.4L2775,1682.9L2777.3,1680L2779.7,1676.8L2782,1673.4L2784.3,1669.7L2786.7,1665.7L2789,1661.7L2791.3,1657.5L2793.7,1653.1L2796,1648.8L2798.3,1644.4L2800.7,1640.1L2803,1635.9L2805.3,1631.7L2807.7,1627.7L2810,1624L2812.3,1620.4L2814.7,1617.1L2817,1614.1L2819.3,1611.5L2821.7,1609.2L2824,1607.2L2826.3,1605.7L2828.7,1604.5L2831,1603.8L2833.3,1603.5L2835.7,1603.6L2838,1604.2L2840.3,1605.2L2842.7,1606.6L2845,1608.3" fill="none" stroke="#7a3f93" stroke-width="11.5" stroke-linecap="round" stroke-linejoin="round"/>
<path d="M2545,1686.3L2550,1690.1L2554.9,1692.2L2559.9,1692.3L2564.9,1690.5L2569.8,1686.9L2574.8,1681.6L2579.8,1674.8L2584.7,1666.8L2589.7,1658.1L2594.7,1648.9L2599.6,1639.6L2604.6,1630.7L2609.6,1622.6L2614.5,1615.6L2619.5,1610L2624.5,1606L2629.4,1603.9L2634.4,1603.6L2639.4,1605.3L2644.3,1608.9L2649.3,1614.1L2654.3,1620.9L2659.2,1628.8L2664.2,1637.5L2669.2,1646.7L2674.1,1655.9L2679.1,1664.8L2684.1,1673L2689,1680.1L2694,1685.8L2699,1689.8L2703.9,1692.1L2708.9,1692.4L2713.9,1690.8L2718.8,1687.3L2723.8,1682.2L2728.8,1675.5L2733.7,1667.7L2738.7,1659L2743.7,1649.8L2748.6,1640.5L2753.6,1631.6L2758.6,1623.4L2763.5,1616.2L2768.5,1610.5L2773.5,1606.3L2778.4,1604L2783.4,1603.6L2788.4,1605.1L2793.3,1608.5L2798.3,1613.5L2803.3,1620.1L2808.2,1627.9L2813.2,1636.6L2818.2,1645.7L2823.1,1655L2828.1,1664L2833.1,1672.2L2838,1679.4L2843,1685.3" fill="none" stroke="#7a3f93" stroke-width="11.5" stroke-linecap="round" stroke-linejoin="round"/>
<path d="M2553,1615.9L2555.1,1618.7L2557.2,1621.8L2559.2,1625L2561.3,1628.4L2563.4,1632L2565.5,1635.7L2567.6,1639.5L2569.7,1643.3L2571.8,1647.2L2573.8,1651.1L2575.9,1655L2578,1658.8L2580.1,1662.5L2582.2,1666.1L2584.2,1669.6L2586.3,1672.9L2588.4,1676.1L2590.5,1679L2592.6,1681.7L2594.7,1684.1L2596.8,1686.2L2598.8,1688.1L2600.9,1689.6L2603,1690.8" fill="none" stroke="#fff" stroke-width="17" stroke-linecap="butt"/>
<path d="M2550,1612.3L2552.3,1615L2554.7,1618.1L2557,1621.5L2559.3,1625.1L2561.7,1629L2564,1633L2566.3,1637.2L2568.7,1641.5L2571,1645.8L2573.3,1650.2L2575.7,1654.5L2578,1658.8L2580.3,1663L2582.7,1667L2585,1670.8L2587.3,1674.5L2589.7,1677.8L2592,1680.9L2594.3,1683.7L2596.7,1686.1L2599,1688.2L2601.3,1689.9L2603.7,1691.1L2606,1692" fill="none" stroke="#7a3f93" stroke-width="11.5" stroke-linecap="butt"/>
<path d="M2706,1620.8L2708,1623.7L2709.9,1626.9L2711.9,1630.2L2713.8,1633.6L2715.8,1637.1L2717.8,1640.7L2719.7,1644.3L2721.7,1648L2723.6,1651.6L2725.6,1655.3L2727.5,1658.9L2729.5,1662.4L2731.5,1665.8L2733.4,1669.1L2735.4,1672.2L2737.3,1675.2L2739.3,1678L2741.2,1680.6L2743.2,1683L2745.2,1685.1L2747.1,1687L2749.1,1688.7L2751,1690L2753,1691.1" fill="none" stroke="#fff" stroke-width="17" stroke-linecap="butt"/>
<path d="M2703,1616.6L2705.2,1619.6L2707.4,1622.9L2709.6,1626.4L2711.8,1630.1L2714,1634L2716.2,1637.9L2718.5,1642L2720.7,1646.1L2722.9,1650.2L2725.1,1654.4L2727.3,1658.4L2729.5,1662.4L2731.7,1666.2L2733.9,1669.9L2736.1,1673.4L2738.3,1676.7L2740.5,1679.7L2742.8,1682.5L2745,1684.9L2747.2,1687.1L2749.4,1688.9L2751.6,1690.3L2753.8,1691.4L2756,1692.1" fill="none" stroke="#7a3f93" stroke-width="11.5" stroke-linecap="butt"/>
<path d="M2639,1605.2L2641.5,1606.7L2644.1,1608.7L2646.6,1611.1L2649.2,1614L2651.7,1617.2L2654.2,1620.8L2656.8,1624.7L2659.3,1628.9L2661.9,1633.3L2664.4,1637.9L2667,1642.6L2669.5,1647.3L2672,1652L2674.6,1656.7L2677.1,1661.4L2679.7,1665.8L2682.2,1670L2684.8,1674L2687.3,1677.7L2689.8,1681.1L2692.4,1684.1L2694.9,1686.7L2697.5,1688.8L2700,1690.5" fill="none" stroke="#fff" stroke-width="17" stroke-linecap="butt"/>
<path d="M2636,1604L2638.8,1605L2641.6,1606.7L2644.4,1608.9L2647.2,1611.7L2650,1615L2652.8,1618.7L2655.5,1622.8L2658.3,1627.3L2661.1,1632L2663.9,1637L2666.7,1642.1L2669.5,1647.3L2672.3,1652.5L2675.1,1657.7L2677.9,1662.7L2680.7,1667.5L2683.5,1672L2686.2,1676.3L2689,1680.1L2691.8,1683.5L2694.6,1686.4L2697.4,1688.8L2700.2,1690.6L2703,1691.8" fill="none" stroke="#7a3f93" stroke-width="11.5" stroke-linecap="butt"/>
<path d="M2788.5,1605.2L2790.7,1606.4L2792.9,1608.1L2795.1,1610L2797.2,1612.3L2799.4,1614.9L2801.6,1617.8L2803.8,1620.9L2806,1624.3L2808.2,1627.8L2810.4,1631.6L2812.6,1635.4L2814.8,1639.4L2816.9,1643.4L2819.1,1647.5L2821.3,1651.6L2823.5,1655.7L2825.7,1659.7L2827.9,1663.6L2830.1,1667.3L2832.2,1670.9L2834.4,1674.3L2836.6,1677.5L2838.8,1680.4L2841,1683.1" fill="none" stroke="#fff" stroke-width="17" stroke-linecap="butt"/>
<path d="M2785.5,1604L2787.9,1604.9L2790.4,1606.2L2792.8,1608L2795.2,1610.2L2797.7,1612.8L2800.1,1615.8L2802.6,1619.1L2805,1622.7L2807.4,1626.6L2809.9,1630.7L2812.3,1635L2814.8,1639.4L2817.2,1643.9L2819.6,1648.5L2822.1,1653L2824.5,1657.5L2826.9,1661.9L2829.4,1666.2L2831.8,1670.2L2834.2,1674L2836.7,1677.6L2839.1,1680.8L2841.6,1683.7L2844,1686.3" fill="none" stroke="#7a3f93" stroke-width="11.5" stroke-linecap="butt"/>
<path d="M2682.5,1558.5L2690.4,1587.5M2710.5,1558.5L2703.4,1587M2730.7,1588L2712.8,1600.5" stroke="#9b80c2" stroke-width="5.2" stroke-linecap="round" fill="none"/>
</svg>
</body></html>
